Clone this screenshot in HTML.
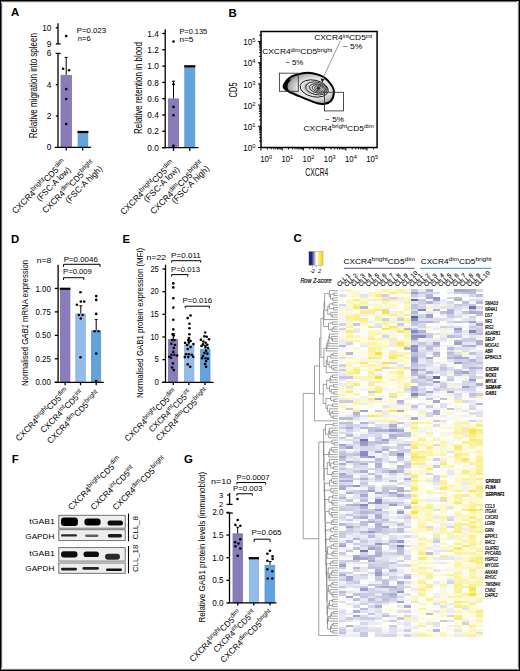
<!DOCTYPE html>
<html><head><meta charset="utf-8"><style>
html,body{margin:0;padding:0;background:#fff;}
svg{display:block;}
text{font-family:"Liberation Sans",sans-serif;}
</style></head><body>
<svg width="520" height="671" viewBox="0 0 520 671" font-family="Liberation Sans, sans-serif">
<defs><radialGradient id="gOut" cx="0.6" cy="0.5" r="0.6" fx="0.62" fy="0.5">
<stop offset="0" stop-color="#f2f2f2"/><stop offset="0.55" stop-color="#e4e4e4"/><stop offset="0.8" stop-color="#b0b0b0"/><stop offset="0.95" stop-color="#707070"/><stop offset="1" stop-color="#555"/></radialGradient>
<radialGradient id="gIn" cx="0.5" cy="0.5" r="0.5">
<stop offset="0" stop-color="#8c8c8c"/><stop offset="0.6" stop-color="#a4a4a4"/><stop offset="0.88" stop-color="#ececec"/><stop offset="1" stop-color="#fff"/></radialGradient>
<linearGradient id="gKey" x1="0" x2="1" y1="0" y2="0">
<stop offset="0" stop-color="#16165c"/><stop offset="0.2" stop-color="#262676"/><stop offset="0.52" stop-color="#fbfbfb"/><stop offset="0.62" stop-color="#fdf8c8"/><stop offset="0.78" stop-color="#f6e640"/><stop offset="1" stop-color="#f2de10"/></linearGradient>
<filter id="blur" x="-20%" y="-50%" width="140%" height="200%"><feGaussianBlur stdDeviation="0.75"/></filter></defs>
<rect x="0" y="0" width="520" height="671" fill="#fff"/>
<text x="10.9" y="16.4" font-size="11.4" font-weight="bold">A</text>
<text x="228.5" y="16.8" font-size="11.4" font-weight="bold">B</text>
<text x="293.6" y="242.4" font-size="11.4" font-weight="bold">C</text>
<text x="10.9" y="242.6" font-size="11.4" font-weight="bold">D</text>
<text x="122.4" y="242.6" font-size="11.4" font-weight="bold">E</text>
<text x="11.8" y="462.6" font-size="11.4" font-weight="bold">F</text>
<text x="184" y="463.2" font-size="11.4" font-weight="bold">G</text>
<line x1="58" y1="23.3" x2="58" y2="43.9" stroke="#000" stroke-width="1.3"/>
<line x1="55.8" y1="43.9" x2="60.6" y2="43.9" stroke="#000" stroke-width="1.3"/>
<line x1="55.8" y1="27.8" x2="58" y2="27.8" stroke="#000" stroke-width="1.3"/>
<line x1="58" y1="53.4" x2="58" y2="147.4" stroke="#000" stroke-width="1.3"/>
<line x1="55.6" y1="53.4" x2="60.6" y2="53.4" stroke="#000" stroke-width="1.3"/>
<line x1="55.8" y1="84.7" x2="58" y2="84.7" stroke="#000" stroke-width="1.3"/>
<line x1="55.8" y1="116" x2="58" y2="116" stroke="#000" stroke-width="1.3"/>
<text x="51.4" y="30.5" font-size="8.3" text-anchor="end">10</text>
<text x="51.4" y="46.6" font-size="8.3" text-anchor="end">9</text>
<text x="51.4" y="56.2" font-size="8.3" text-anchor="end">6</text>
<text x="51.4" y="87.6" font-size="8.3" text-anchor="end">4</text>
<text x="51.4" y="118.9" font-size="8.3" text-anchor="end">2</text>
<text x="51.4" y="150.2" font-size="8.3" text-anchor="end">0</text>
<rect x="61" y="75.3" width="10.4" height="72.1" fill="#8a7cb8" stroke="#7d6fae" stroke-width="0.8"/>
<line x1="66.2" y1="74.9" x2="66.2" y2="57.4" stroke="#000" stroke-width="1"/>
<line x1="64.7" y1="57.4" x2="67.7" y2="57.4" stroke="#000" stroke-width="1"/>
<circle cx="66.2" cy="36.1" r="1.3" fill="#000"/>
<circle cx="63.1" cy="68.8" r="1.3" fill="#000"/>
<circle cx="69.1" cy="70.2" r="1.3" fill="#000"/>
<circle cx="66.2" cy="89.1" r="1.3" fill="#000"/>
<circle cx="66.2" cy="99" r="1.3" fill="#000"/>
<circle cx="66.2" cy="124.1" r="1.3" fill="#000"/>
<rect x="78.1" y="132.4" width="9.7" height="15" fill="#62a3dc" stroke="#5597d4" stroke-width="0.8"/>
<rect x="77.5" y="130.9" width="10.9" height="2.2" fill="#000"/>
<line x1="54.7" y1="147.4" x2="91.1" y2="147.4" stroke="#000" stroke-width="1.3"/>
<line x1="66.2" y1="147.4" x2="66.2" y2="150.5" stroke="#000" stroke-width="1.3"/>
<line x1="82.6" y1="147.4" x2="82.6" y2="150.5" stroke="#000" stroke-width="1.3"/>
<text x="76.8" y="33.4" font-size="7.1" textLength="29.4" lengthAdjust="spacingAndGlyphs">P=0.023</text>
<text x="77.8" y="41" font-size="7.1" textLength="12.8" lengthAdjust="spacingAndGlyphs">n=6</text>
<text transform="translate(36.7,138.2) rotate(-90)" font-size="10.5" textLength="105.2" lengthAdjust="spacingAndGlyphs">Relative migration into spleen</text>
<line x1="165.2" y1="29.2" x2="165.2" y2="147.6" stroke="#000" stroke-width="1.3"/>
<line x1="162.2" y1="33.5" x2="165.2" y2="33.5" stroke="#000" stroke-width="1.3"/>
<text x="158.8" y="36.6" font-size="8.8" text-anchor="end" textLength="11.5" lengthAdjust="spacingAndGlyphs">1.4</text>
<line x1="162.2" y1="49.8" x2="165.2" y2="49.8" stroke="#000" stroke-width="1.3"/>
<text x="158.8" y="52.9" font-size="8.8" text-anchor="end" textLength="11.5" lengthAdjust="spacingAndGlyphs">1.2</text>
<line x1="162.2" y1="66.1" x2="165.2" y2="66.1" stroke="#000" stroke-width="1.3"/>
<text x="158.8" y="69.2" font-size="8.8" text-anchor="end" textLength="11.5" lengthAdjust="spacingAndGlyphs">1.0</text>
<line x1="162.2" y1="82.4" x2="165.2" y2="82.4" stroke="#000" stroke-width="1.3"/>
<text x="158.8" y="85.5" font-size="8.8" text-anchor="end" textLength="11.5" lengthAdjust="spacingAndGlyphs">0.8</text>
<line x1="162.2" y1="98.7" x2="165.2" y2="98.7" stroke="#000" stroke-width="1.3"/>
<text x="158.8" y="101.8" font-size="8.8" text-anchor="end" textLength="11.5" lengthAdjust="spacingAndGlyphs">0.6</text>
<line x1="162.2" y1="115" x2="165.2" y2="115" stroke="#000" stroke-width="1.3"/>
<text x="158.8" y="118.1" font-size="8.8" text-anchor="end" textLength="11.5" lengthAdjust="spacingAndGlyphs">0.4</text>
<line x1="162.2" y1="131.3" x2="165.2" y2="131.3" stroke="#000" stroke-width="1.3"/>
<text x="158.8" y="134.4" font-size="8.8" text-anchor="end" textLength="11.5" lengthAdjust="spacingAndGlyphs">0.2</text>
<line x1="162.2" y1="147.6" x2="165.2" y2="147.6" stroke="#000" stroke-width="1.3"/>
<text x="158.8" y="150.7" font-size="8.8" text-anchor="end" textLength="11.5" lengthAdjust="spacingAndGlyphs">0.0</text>
<rect x="168.4" y="98.9" width="10.2" height="48.7" fill="#8a7cb8" stroke="#7d6fae" stroke-width="0.8"/>
<line x1="173.5" y1="98.5" x2="173.5" y2="81.2" stroke="#000" stroke-width="1"/>
<line x1="172" y1="81.2" x2="175" y2="81.2" stroke="#000" stroke-width="1"/>
<circle cx="173.5" cy="41.5" r="1.3" fill="#000"/>
<circle cx="173.5" cy="84.3" r="1.3" fill="#000"/>
<circle cx="173.5" cy="106.9" r="1.3" fill="#000"/>
<circle cx="173.5" cy="115.3" r="1.3" fill="#000"/>
<circle cx="173.5" cy="145.8" r="1.3" fill="#000"/>
<rect x="184.8" y="67.2" width="10" height="80.4" fill="#62a3dc" stroke="#5597d4" stroke-width="0.8"/>
<rect x="184.2" y="65.2" width="11.2" height="2.2" fill="#000"/>
<line x1="162.2" y1="147.6" x2="198.5" y2="147.6" stroke="#000" stroke-width="1.3"/>
<line x1="173.5" y1="147.6" x2="173.5" y2="151" stroke="#000" stroke-width="1.3"/>
<line x1="189.8" y1="147.6" x2="189.8" y2="151" stroke="#000" stroke-width="1.3"/>
<text x="179.4" y="34.4" font-size="7.1" textLength="27.8" lengthAdjust="spacingAndGlyphs">P=0.135</text>
<text x="179.4" y="41.8" font-size="7.1" textLength="14" lengthAdjust="spacingAndGlyphs">n=5</text>
<text transform="translate(141.5,134) rotate(-90)" font-size="10.5" textLength="91.95" lengthAdjust="spacingAndGlyphs">Relative retention in blood</text>
<text transform="translate(66.5,163.2) rotate(-45)" font-size="8.7" text-anchor="end" textLength="72.14" lengthAdjust="spacingAndGlyphs"><tspan>CXCR4</tspan><tspan font-size="6.61" dy="-3.48">bright</tspan><tspan dy="3.48">CD5</tspan><tspan font-size="6.61" dy="-3.48">dim</tspan></text>
<text transform="translate(71.1,170.5) rotate(-45)" font-size="8.7" text-anchor="end" textLength="44.14" lengthAdjust="spacingAndGlyphs">(FSC-A low)</text>
<text transform="translate(95.2,164.2) rotate(-45)" font-size="8.7" text-anchor="end" textLength="70.01" lengthAdjust="spacingAndGlyphs"><tspan>CXCR4</tspan><tspan font-size="6.61" dy="-3.48">dim</tspan><tspan dy="3.48">CD5</tspan><tspan font-size="6.61" dy="-3.48">bright</tspan></text>
<text transform="translate(103,169.4) rotate(-45)" font-size="8.7" text-anchor="end" textLength="48.42" lengthAdjust="spacingAndGlyphs">(FSC-A high)</text>
<text transform="translate(174.9,164.1) rotate(-45)" font-size="8.7" text-anchor="end" textLength="72.42" lengthAdjust="spacingAndGlyphs"><tspan>CXCR4</tspan><tspan font-size="6.61" dy="-3.48">bright</tspan><tspan dy="3.48">CD5</tspan><tspan font-size="6.61" dy="-3.48">dim</tspan></text>
<text transform="translate(180,169.9) rotate(-45)" font-size="8.7" text-anchor="end" textLength="46.62" lengthAdjust="spacingAndGlyphs">(FSC-A low)</text>
<text transform="translate(204,164.4) rotate(-45)" font-size="8.7" text-anchor="end" textLength="71.16" lengthAdjust="spacingAndGlyphs"><tspan>CXCR4</tspan><tspan font-size="6.61" dy="-3.48">dim</tspan><tspan dy="3.48">CD5</tspan><tspan font-size="6.61" dy="-3.48">bright</tspan></text>
<text transform="translate(209.8,169.1) rotate(-45)" font-size="8.7" text-anchor="end" textLength="49.34" lengthAdjust="spacingAndGlyphs">(FSC-A high)</text>
<path d="M283.5 86.5C283.5 84.03 287.12 79.6 290.3 77.4C293.48 75.2 298.9 73.98 302.6 73.3C306.3 72.62 308.8 72.55 312.5 73.3C316.2 74.05 321.52 75.65 324.8 77.8C328.08 79.95 330.67 83.73 332.2 86.2C333.73 88.67 334.2 90.17 334 92.6C333.8 95.03 332.53 98.95 331 100.8C329.47 102.65 327.07 103.3 324.8 103.7C322.53 104.1 321.1 104.22 317.4 103.2C313.7 102.18 307.12 99.43 302.6 97.6C298.08 95.77 293.48 94.05 290.3 92.2C287.12 90.35 283.5 88.97 283.5 86.5Z" fill="url(#gOut)" stroke="#000" stroke-width="2"/>
<path d="M286.8 80.5C283.6 84 283.2 88 285.6 90.6C287.4 92.4 290 93.6 292.5 94.6C288.8 91.6 287 88.6 287.6 85.2C288 83.2 289.6 81.3 291.4 79.6Z" fill="#000"/>
<ellipse cx="314.2" cy="88.5" rx="14.3" ry="8.3" transform="rotate(12 314.2 88.5)" fill="url(#gIn)" stroke="#111" stroke-width="0.9"/>
<ellipse cx="316.5" cy="88.4" rx="10.8" ry="6.2" transform="rotate(12 316.5 88.4)" fill="url(#gIn)" stroke="#111" stroke-width="0.8"/>
<ellipse cx="317.8" cy="88.5" rx="8.3" ry="4.5" transform="rotate(12 317.8 88.5)" fill="url(#gIn)" stroke="#111" stroke-width="0.8"/>
<ellipse cx="318.6" cy="88.5" rx="6.4" ry="3.5" transform="rotate(12 318.6 88.5)" fill="url(#gIn)" stroke="#111" stroke-width="0.7"/>
<ellipse cx="319" cy="88.5" rx="4.5" ry="2.5" transform="rotate(12 319 88.5)" fill="url(#gIn)" stroke="#111" stroke-width="0.7"/>
<circle cx="318.4" cy="88.3" r="1.8" fill="#333"/>
<rect x="279.4" y="73.2" width="18.9" height="18.1" fill="none" stroke="#3a3a3a" stroke-width="0.9"/>
<rect x="324.5" y="92.3" width="19" height="18.6" fill="none" stroke="#3a3a3a" stroke-width="0.9"/>
<line x1="340.4" y1="40.8" x2="323.2" y2="77.6" stroke="#555" stroke-width="0.6"/>
<path d="M320.6 78.4L324.4 79.2L322.4 82.4Z" fill="#111"/>
<rect x="261" y="31.5" width="116.1" height="116" fill="none" stroke="#000" stroke-width="1.5"/>
<path d="M258 147.5H261M261 147.5V150.5M259.1 141.12H261M267.38 147.5V149.4M259.1 137.39H261M271.11 147.5V149.4M259.1 134.74H261M273.76 147.5V149.4M259.1 132.68H261M275.82 147.5V149.4M259.1 131H261M277.5 147.5V149.4M259.1 129.58H261M278.92 147.5V149.4M259.1 128.35H261M280.15 147.5V149.4M259.1 127.27H261M281.23 147.5V149.4M258 126.3H261M282.2 147.5V150.5M259.1 119.92H261M288.58 147.5V149.4M259.1 116.19H261M292.31 147.5V149.4M259.1 113.54H261M294.96 147.5V149.4M259.1 111.48H261M297.02 147.5V149.4M259.1 109.8H261M298.7 147.5V149.4M259.1 108.38H261M300.12 147.5V149.4M259.1 107.15H261M301.35 147.5V149.4M259.1 106.07H261M302.43 147.5V149.4M258 105.1H261M303.4 147.5V150.5M259.1 98.72H261M309.78 147.5V149.4M259.1 94.99H261M313.51 147.5V149.4M259.1 92.34H261M316.16 147.5V149.4M259.1 90.28H261M318.22 147.5V149.4M259.1 88.6H261M319.9 147.5V149.4M259.1 87.18H261M321.32 147.5V149.4M259.1 85.95H261M322.55 147.5V149.4M259.1 84.87H261M323.63 147.5V149.4M258 83.9H261M324.6 147.5V150.5M259.1 77.52H261M330.98 147.5V149.4M259.1 73.79H261M334.71 147.5V149.4M259.1 71.14H261M337.36 147.5V149.4M259.1 69.08H261M339.42 147.5V149.4M259.1 67.4H261M341.1 147.5V149.4M259.1 65.98H261M342.52 147.5V149.4M259.1 64.75H261M343.75 147.5V149.4M259.1 63.67H261M344.83 147.5V149.4M258 62.7H261M345.8 147.5V150.5M259.1 56.32H261M352.18 147.5V149.4M259.1 52.59H261M355.91 147.5V149.4M259.1 49.94H261M358.56 147.5V149.4M259.1 47.88H261M360.62 147.5V149.4M259.1 46.2H261M362.3 147.5V149.4M259.1 44.78H261M363.72 147.5V149.4M259.1 43.55H261M364.95 147.5V149.4M259.1 42.47H261M366.03 147.5V149.4M258 41.5H261M367 147.5V150.5M259.1 35.12H261M373.38 147.5V149.4" stroke="#000" stroke-width="1.0" fill="none"/>
<text x="255.4" y="151.1" font-size="8.2" text-anchor="end" textLength="12.2" lengthAdjust="spacingAndGlyphs">10<tspan font-size="5.8" dy="-3.0">0</tspan></text>
<text x="260.2" y="162" font-size="8.2" textLength="11.8" lengthAdjust="spacingAndGlyphs">10<tspan font-size="5.8" dy="-3.0">0</tspan></text>
<text x="255.4" y="129.9" font-size="8.2" text-anchor="end" textLength="12.2" lengthAdjust="spacingAndGlyphs">10<tspan font-size="5.8" dy="-3.0">1</tspan></text>
<text x="281.4" y="162" font-size="8.2" textLength="11.8" lengthAdjust="spacingAndGlyphs">10<tspan font-size="5.8" dy="-3.0">1</tspan></text>
<text x="255.4" y="108.7" font-size="8.2" text-anchor="end" textLength="12.2" lengthAdjust="spacingAndGlyphs">10<tspan font-size="5.8" dy="-3.0">2</tspan></text>
<text x="302.6" y="162" font-size="8.2" textLength="11.8" lengthAdjust="spacingAndGlyphs">10<tspan font-size="5.8" dy="-3.0">2</tspan></text>
<text x="255.4" y="87.5" font-size="8.2" text-anchor="end" textLength="12.2" lengthAdjust="spacingAndGlyphs">10<tspan font-size="5.8" dy="-3.0">3</tspan></text>
<text x="323.8" y="162" font-size="8.2" textLength="11.8" lengthAdjust="spacingAndGlyphs">10<tspan font-size="5.8" dy="-3.0">3</tspan></text>
<text x="255.4" y="66.3" font-size="8.2" text-anchor="end" textLength="12.2" lengthAdjust="spacingAndGlyphs">10<tspan font-size="5.8" dy="-3.0">4</tspan></text>
<text x="345" y="162" font-size="8.2" textLength="11.8" lengthAdjust="spacingAndGlyphs">10<tspan font-size="5.8" dy="-3.0">4</tspan></text>
<text x="255.4" y="45.1" font-size="8.2" text-anchor="end" textLength="12.2" lengthAdjust="spacingAndGlyphs">10<tspan font-size="5.8" dy="-3.0">5</tspan></text>
<text x="366.2" y="162" font-size="8.2" textLength="11.8" lengthAdjust="spacingAndGlyphs">10<tspan font-size="5.8" dy="-3.0">5</tspan></text>
<text transform="translate(237,97.4) rotate(-90)" font-size="10.5" textLength="15" lengthAdjust="spacingAndGlyphs">CD5</text>
<text x="305.2" y="176" font-size="10.5" textLength="23.2" lengthAdjust="spacingAndGlyphs">CXCR4</text>
<text x="262.2" y="54.4" font-size="8" textLength="70" lengthAdjust="spacingAndGlyphs"><tspan>CXCR4</tspan><tspan font-size="5.76" dy="-2.88">dim</tspan><tspan dy="2.88">CD5</tspan><tspan font-size="5.76" dy="-2.88">bright</tspan></text>
<text x="285.2" y="64.9" font-size="8" textLength="18.2" lengthAdjust="spacingAndGlyphs">~ 5%</text>
<text x="314.2" y="40.4" font-size="8" textLength="58" lengthAdjust="spacingAndGlyphs"><tspan>CXCR4</tspan><tspan font-size="5.76" dy="-2.88">int</tspan><tspan dy="2.88">CD5</tspan><tspan font-size="5.76" dy="-2.88">int</tspan></text>
<text x="342.5" y="49" font-size="8" textLength="19.8" lengthAdjust="spacingAndGlyphs">~ 5%</text>
<text x="325.1" y="122.3" font-size="8" textLength="18.9" lengthAdjust="spacingAndGlyphs">~ 5%</text>
<text x="303.5" y="130.9" font-size="8" textLength="70.2" lengthAdjust="spacingAndGlyphs"><tspan>CXCR4</tspan><tspan font-size="5.76" dy="-2.88">bright</tspan><tspan dy="2.88">CD5</tspan><tspan font-size="5.76" dy="-2.88">dim</tspan></text>
<g shape-rendering="crispEdges"><rect x="338.8" y="289.4" width="7.28" height="2.46" fill="#f1f1f8"/><rect x="346.03" y="289.4" width="7.28" height="2.46" fill="#fbf6bf"/><rect x="353.26" y="289.4" width="7.28" height="2.46" fill="#fefbe4"/><rect x="360.49" y="289.4" width="7.28" height="2.46" fill="#fefdf1"/><rect x="367.72" y="289.4" width="7.28" height="2.46" fill="#fffefb"/><rect x="374.95" y="289.4" width="7.28" height="2.46" fill="#fdf9d6"/><rect x="382.18" y="289.4" width="7.28" height="2.46" fill="#faf2a0"/><rect x="389.41" y="289.4" width="7.28" height="2.46" fill="#fcf7c3"/><rect x="396.64" y="289.4" width="7.28" height="2.46" fill="#faf29f"/><rect x="403.87" y="289.4" width="7.28" height="2.46" fill="#fcf8cd"/><rect x="411.1" y="289.4" width="7.28" height="2.46" fill="#c2c4de"/><rect x="418.33" y="289.4" width="7.28" height="2.46" fill="#e7e7f2"/><rect x="425.56" y="289.4" width="7.28" height="2.46" fill="#adafd3"/><rect x="432.79" y="289.4" width="7.28" height="2.46" fill="#fafafd"/><rect x="440.02" y="289.4" width="7.28" height="2.46" fill="#fffffd"/><rect x="447.25" y="289.4" width="7.28" height="2.46" fill="#f4f4f9"/><rect x="454.48" y="289.4" width="7.28" height="2.46" fill="#a4a6ce"/><rect x="461.71" y="289.4" width="7.28" height="2.46" fill="#aaacd1"/><rect x="468.94" y="289.4" width="7.28" height="2.46" fill="#b3b5d6"/><rect x="476.17" y="289.4" width="7.28" height="2.46" fill="#d5d6e9"/><rect x="338.8" y="291.81" width="7.28" height="2.46" fill="#fffffe"/><rect x="346.03" y="291.81" width="7.28" height="2.46" fill="#fefbe4"/><rect x="353.26" y="291.81" width="7.28" height="2.46" fill="#fcf6c0"/><rect x="360.49" y="291.81" width="7.28" height="2.46" fill="#fbfbfd"/><rect x="367.72" y="291.81" width="7.28" height="2.46" fill="#fbf6bf"/><rect x="374.95" y="291.81" width="7.28" height="2.46" fill="#fbf5ba"/><rect x="382.18" y="291.81" width="7.28" height="2.46" fill="#fbfbfd"/><rect x="389.41" y="291.81" width="7.28" height="2.46" fill="#f8ed7c"/><rect x="396.64" y="291.81" width="7.28" height="2.46" fill="#fcf6c2"/><rect x="403.87" y="291.81" width="7.28" height="2.46" fill="#faf19c"/><rect x="411.1" y="291.81" width="7.28" height="2.46" fill="#9b9dc9"/><rect x="418.33" y="291.81" width="7.28" height="2.46" fill="#c4c6df"/><rect x="425.56" y="291.81" width="7.28" height="2.46" fill="#d5d6e9"/><rect x="432.79" y="291.81" width="7.28" height="2.46" fill="#d9daeb"/><rect x="440.02" y="291.81" width="7.28" height="2.46" fill="#fffffd"/><rect x="447.25" y="291.81" width="7.28" height="2.46" fill="#e8e9f3"/><rect x="454.48" y="291.81" width="7.28" height="2.46" fill="#cacbe3"/><rect x="461.71" y="291.81" width="7.28" height="2.46" fill="#c1c2de"/><rect x="468.94" y="291.81" width="7.28" height="2.46" fill="#bbbddb"/><rect x="476.17" y="291.81" width="7.28" height="2.46" fill="#fffef9"/><rect x="338.8" y="294.22" width="7.28" height="2.46" fill="#dcddec"/><rect x="346.03" y="294.22" width="7.28" height="2.46" fill="#fcf8cf"/><rect x="353.26" y="294.22" width="7.28" height="2.46" fill="#fbf6c0"/><rect x="360.49" y="294.22" width="7.28" height="2.46" fill="#e1e1ef"/><rect x="367.72" y="294.22" width="7.28" height="2.46" fill="#fcf7c8"/><rect x="374.95" y="294.22" width="7.28" height="2.46" fill="#f8ed7d"/><rect x="382.18" y="294.22" width="7.28" height="2.46" fill="#cccde4"/><rect x="389.41" y="294.22" width="7.28" height="2.46" fill="#fefcec"/><rect x="396.64" y="294.22" width="7.28" height="2.46" fill="#fdfbe1"/><rect x="403.87" y="294.22" width="7.28" height="2.46" fill="#fcfcfe"/><rect x="411.1" y="294.22" width="7.28" height="2.46" fill="#c6c7e0"/><rect x="418.33" y="294.22" width="7.28" height="2.46" fill="#dfdfee"/><rect x="425.56" y="294.22" width="7.28" height="2.46" fill="#b4b5d7"/><rect x="432.79" y="294.22" width="7.28" height="2.46" fill="#fafafc"/><rect x="440.02" y="294.22" width="7.28" height="2.46" fill="#fffef7"/><rect x="447.25" y="294.22" width="7.28" height="2.46" fill="#fffffe"/><rect x="454.48" y="294.22" width="7.28" height="2.46" fill="#fefef5"/><rect x="461.71" y="294.22" width="7.28" height="2.46" fill="#f0f0f7"/><rect x="468.94" y="294.22" width="7.28" height="2.46" fill="#d5d6e8"/><rect x="476.17" y="294.22" width="7.28" height="2.46" fill="#b9bbda"/><rect x="338.8" y="296.64" width="7.28" height="2.46" fill="#fdfbe4"/><rect x="346.03" y="296.64" width="7.28" height="2.46" fill="#fefef6"/><rect x="353.26" y="296.64" width="7.28" height="2.46" fill="#fefcea"/><rect x="360.49" y="296.64" width="7.28" height="2.46" fill="#edeef6"/><rect x="367.72" y="296.64" width="7.28" height="2.46" fill="#fffef8"/><rect x="374.95" y="296.64" width="7.28" height="2.46" fill="#fdfbe1"/><rect x="382.18" y="296.64" width="7.28" height="2.46" fill="#f9ef8f"/><rect x="389.41" y="296.64" width="7.28" height="2.46" fill="#d4d5e8"/><rect x="396.64" y="296.64" width="7.28" height="2.46" fill="#eaeaf4"/><rect x="403.87" y="296.64" width="7.28" height="2.46" fill="#fcf7c7"/><rect x="411.1" y="296.64" width="7.28" height="2.46" fill="#e9eaf3"/><rect x="418.33" y="296.64" width="7.28" height="2.46" fill="#f7f7fa"/><rect x="425.56" y="296.64" width="7.28" height="2.46" fill="#aaacd1"/><rect x="432.79" y="296.64" width="7.28" height="2.46" fill="#8f92c3"/><rect x="440.02" y="296.64" width="7.28" height="2.46" fill="#fffffd"/><rect x="447.25" y="296.64" width="7.28" height="2.46" fill="#d1d2e6"/><rect x="454.48" y="296.64" width="7.28" height="2.46" fill="#bcbedb"/><rect x="461.71" y="296.64" width="7.28" height="2.46" fill="#fffef8"/><rect x="468.94" y="296.64" width="7.28" height="2.46" fill="#f8f8fb"/><rect x="476.17" y="296.64" width="7.28" height="2.46" fill="#eeeef6"/><rect x="338.8" y="299.05" width="7.28" height="2.46" fill="#fdfdfe"/><rect x="346.03" y="299.05" width="7.28" height="2.46" fill="#fcf8cb"/><rect x="353.26" y="299.05" width="7.28" height="2.46" fill="#f8ed82"/><rect x="360.49" y="299.05" width="7.28" height="2.46" fill="#fcf7c5"/><rect x="367.72" y="299.05" width="7.28" height="2.46" fill="#fbf4b4"/><rect x="374.95" y="299.05" width="7.28" height="2.46" fill="#fbf4b2"/><rect x="382.18" y="299.05" width="7.28" height="2.46" fill="#d8d9ea"/><rect x="389.41" y="299.05" width="7.28" height="2.46" fill="#f9f198"/><rect x="396.64" y="299.05" width="7.28" height="2.46" fill="#faf3ac"/><rect x="403.87" y="299.05" width="7.28" height="2.46" fill="#fcf7c5"/><rect x="411.1" y="299.05" width="7.28" height="2.46" fill="#686cae"/><rect x="418.33" y="299.05" width="7.28" height="2.46" fill="#c7c8e1"/><rect x="425.56" y="299.05" width="7.28" height="2.46" fill="#f9f9fc"/><rect x="432.79" y="299.05" width="7.28" height="2.46" fill="#9ea0cb"/><rect x="440.02" y="299.05" width="7.28" height="2.46" fill="#e9e9f3"/><rect x="447.25" y="299.05" width="7.28" height="2.46" fill="#fdfefe"/><rect x="454.48" y="299.05" width="7.28" height="2.46" fill="#abadd2"/><rect x="461.71" y="299.05" width="7.28" height="2.46" fill="#fefcea"/><rect x="468.94" y="299.05" width="7.28" height="2.46" fill="#dedfed"/><rect x="476.17" y="299.05" width="7.28" height="2.46" fill="#dbdbeb"/><rect x="338.8" y="301.46" width="7.28" height="2.46" fill="#fffffd"/><rect x="346.03" y="301.46" width="7.28" height="2.46" fill="#fbf6bd"/><rect x="353.26" y="301.46" width="7.28" height="2.46" fill="#fdf9d6"/><rect x="360.49" y="301.46" width="7.28" height="2.46" fill="#faf2a4"/><rect x="367.72" y="301.46" width="7.28" height="2.46" fill="#fefdf3"/><rect x="374.95" y="301.46" width="7.28" height="2.46" fill="#fefce6"/><rect x="382.18" y="301.46" width="7.28" height="2.46" fill="#faf3aa"/><rect x="389.41" y="301.46" width="7.28" height="2.46" fill="#fdfadf"/><rect x="396.64" y="301.46" width="7.28" height="2.46" fill="#f7f7fb"/><rect x="403.87" y="301.46" width="7.28" height="2.46" fill="#faf3aa"/><rect x="411.1" y="301.46" width="7.28" height="2.46" fill="#e2e3ef"/><rect x="418.33" y="301.46" width="7.28" height="2.46" fill="#cfd0e5"/><rect x="425.56" y="301.46" width="7.28" height="2.46" fill="#b3b5d6"/><rect x="432.79" y="301.46" width="7.28" height="2.46" fill="#d9daea"/><rect x="440.02" y="301.46" width="7.28" height="2.46" fill="#ebecf4"/><rect x="447.25" y="301.46" width="7.28" height="2.46" fill="#d7d8ea"/><rect x="454.48" y="301.46" width="7.28" height="2.46" fill="#fffefb"/><rect x="461.71" y="301.46" width="7.28" height="2.46" fill="#bfc0dd"/><rect x="468.94" y="301.46" width="7.28" height="2.46" fill="#f5f5fa"/><rect x="476.17" y="301.46" width="7.28" height="2.46" fill="#b7b8d8"/><rect x="338.8" y="303.87" width="7.28" height="2.46" fill="#d5d6e8"/><rect x="346.03" y="303.87" width="7.28" height="2.46" fill="#fcf7c5"/><rect x="353.26" y="303.87" width="7.28" height="2.46" fill="#faf2a3"/><rect x="360.49" y="303.87" width="7.28" height="2.46" fill="#fbf6bc"/><rect x="367.72" y="303.87" width="7.28" height="2.46" fill="#fcf7c3"/><rect x="374.95" y="303.87" width="7.28" height="2.46" fill="#fcf8cf"/><rect x="382.18" y="303.87" width="7.28" height="2.46" fill="#fdfbe4"/><rect x="389.41" y="303.87" width="7.28" height="2.46" fill="#fcf7c7"/><rect x="396.64" y="303.87" width="7.28" height="2.46" fill="#fefdf0"/><rect x="403.87" y="303.87" width="7.28" height="2.46" fill="#fdf9d8"/><rect x="411.1" y="303.87" width="7.28" height="2.46" fill="#bfc1dd"/><rect x="418.33" y="303.87" width="7.28" height="2.46" fill="#d8d9ea"/><rect x="425.56" y="303.87" width="7.28" height="2.46" fill="#f4f4f9"/><rect x="432.79" y="303.87" width="7.28" height="2.46" fill="#eaebf4"/><rect x="440.02" y="303.87" width="7.28" height="2.46" fill="#fcf7c7"/><rect x="447.25" y="303.87" width="7.28" height="2.46" fill="#e7e7f2"/><rect x="454.48" y="303.87" width="7.28" height="2.46" fill="#c6c7e0"/><rect x="461.71" y="303.87" width="7.28" height="2.46" fill="#d0d1e6"/><rect x="468.94" y="303.87" width="7.28" height="2.46" fill="#c8c9e1"/><rect x="476.17" y="303.87" width="7.28" height="2.46" fill="#f8f9fb"/><rect x="338.8" y="306.28" width="7.28" height="2.46" fill="#eeeff6"/><rect x="346.03" y="306.28" width="7.28" height="2.46" fill="#fcf7c6"/><rect x="353.26" y="306.28" width="7.28" height="2.46" fill="#f7ea6a"/><rect x="360.49" y="306.28" width="7.28" height="2.46" fill="#b5b7d8"/><rect x="367.72" y="306.28" width="7.28" height="2.46" fill="#fcfcfd"/><rect x="374.95" y="306.28" width="7.28" height="2.46" fill="#fbf6bc"/><rect x="382.18" y="306.28" width="7.28" height="2.46" fill="#fcf8ca"/><rect x="389.41" y="306.28" width="7.28" height="2.46" fill="#fcf8cd"/><rect x="396.64" y="306.28" width="7.28" height="2.46" fill="#fefdf2"/><rect x="403.87" y="306.28" width="7.28" height="2.46" fill="#fbf5b5"/><rect x="411.1" y="306.28" width="7.28" height="2.46" fill="#bfc0dc"/><rect x="418.33" y="306.28" width="7.28" height="2.46" fill="#d0d1e6"/><rect x="425.56" y="306.28" width="7.28" height="2.46" fill="#fbf6bd"/><rect x="432.79" y="306.28" width="7.28" height="2.46" fill="#ececf5"/><rect x="440.02" y="306.28" width="7.28" height="2.46" fill="#e2e3f0"/><rect x="447.25" y="306.28" width="7.28" height="2.46" fill="#e2e2ef"/><rect x="454.48" y="306.28" width="7.28" height="2.46" fill="#d6d7e9"/><rect x="461.71" y="306.28" width="7.28" height="2.46" fill="#e3e3f0"/><rect x="468.94" y="306.28" width="7.28" height="2.46" fill="#7275b3"/><rect x="476.17" y="306.28" width="7.28" height="2.46" fill="#d5d6e8"/><rect x="338.8" y="308.69" width="7.28" height="2.46" fill="#fdf9d7"/><rect x="346.03" y="308.69" width="7.28" height="2.46" fill="#eeeef6"/><rect x="353.26" y="308.69" width="7.28" height="2.46" fill="#fdfade"/><rect x="360.49" y="308.69" width="7.28" height="2.46" fill="#faf3ad"/><rect x="367.72" y="308.69" width="7.28" height="2.46" fill="#f9f19b"/><rect x="374.95" y="308.69" width="7.28" height="2.46" fill="#f7ec74"/><rect x="382.18" y="308.69" width="7.28" height="2.46" fill="#d6d7e9"/><rect x="389.41" y="308.69" width="7.28" height="2.46" fill="#fefdf1"/><rect x="396.64" y="308.69" width="7.28" height="2.46" fill="#fefdf0"/><rect x="403.87" y="308.69" width="7.28" height="2.46" fill="#fbf5bb"/><rect x="411.1" y="308.69" width="7.28" height="2.46" fill="#d7d8ea"/><rect x="418.33" y="308.69" width="7.28" height="2.46" fill="#8285bc"/><rect x="425.56" y="308.69" width="7.28" height="2.46" fill="#fffffc"/><rect x="432.79" y="308.69" width="7.28" height="2.46" fill="#aeb0d4"/><rect x="440.02" y="308.69" width="7.28" height="2.46" fill="#fffef9"/><rect x="447.25" y="308.69" width="7.28" height="2.46" fill="#b1b2d5"/><rect x="454.48" y="308.69" width="7.28" height="2.46" fill="#e1e1ef"/><rect x="461.71" y="308.69" width="7.28" height="2.46" fill="#fffef8"/><rect x="468.94" y="308.69" width="7.28" height="2.46" fill="#cacbe3"/><rect x="476.17" y="308.69" width="7.28" height="2.46" fill="#e9e9f3"/><rect x="338.8" y="311.11" width="7.28" height="2.46" fill="#fefbe5"/><rect x="346.03" y="311.11" width="7.28" height="2.46" fill="#fdfada"/><rect x="353.26" y="311.11" width="7.28" height="2.46" fill="#fdfbe2"/><rect x="360.49" y="311.11" width="7.28" height="2.46" fill="#f9ef8d"/><rect x="367.72" y="311.11" width="7.28" height="2.46" fill="#f9f092"/><rect x="374.95" y="311.11" width="7.28" height="2.46" fill="#fdfbe0"/><rect x="382.18" y="311.11" width="7.28" height="2.46" fill="#f4e441"/><rect x="389.41" y="311.11" width="7.28" height="2.46" fill="#eeeef6"/><rect x="396.64" y="311.11" width="7.28" height="2.46" fill="#faf3ac"/><rect x="403.87" y="311.11" width="7.28" height="2.46" fill="#fefdee"/><rect x="411.1" y="311.11" width="7.28" height="2.46" fill="#b5b7d7"/><rect x="418.33" y="311.11" width="7.28" height="2.46" fill="#f3f3f8"/><rect x="425.56" y="311.11" width="7.28" height="2.46" fill="#e8e8f3"/><rect x="432.79" y="311.11" width="7.28" height="2.46" fill="#f1f1f7"/><rect x="440.02" y="311.11" width="7.28" height="2.46" fill="#bec0dc"/><rect x="447.25" y="311.11" width="7.28" height="2.46" fill="#aeb0d4"/><rect x="454.48" y="311.11" width="7.28" height="2.46" fill="#ededf5"/><rect x="461.71" y="311.11" width="7.28" height="2.46" fill="#c1c2de"/><rect x="468.94" y="311.11" width="7.28" height="2.46" fill="#aaacd1"/><rect x="476.17" y="311.11" width="7.28" height="2.46" fill="#b0b1d4"/><rect x="338.8" y="313.52" width="7.28" height="2.46" fill="#fcf8d0"/><rect x="346.03" y="313.52" width="7.28" height="2.46" fill="#fbf6bc"/><rect x="353.26" y="313.52" width="7.28" height="2.46" fill="#f9ef8c"/><rect x="360.49" y="313.52" width="7.28" height="2.46" fill="#efeff6"/><rect x="367.72" y="313.52" width="7.28" height="2.46" fill="#fdf9d4"/><rect x="374.95" y="313.52" width="7.28" height="2.46" fill="#f6f6fa"/><rect x="382.18" y="313.52" width="7.28" height="2.46" fill="#fbf6bf"/><rect x="389.41" y="313.52" width="7.28" height="2.46" fill="#f8ee88"/><rect x="396.64" y="313.52" width="7.28" height="2.46" fill="#f4f4f9"/><rect x="403.87" y="313.52" width="7.28" height="2.46" fill="#f9ef8a"/><rect x="411.1" y="313.52" width="7.28" height="2.46" fill="#cfd0e5"/><rect x="418.33" y="313.52" width="7.28" height="2.46" fill="#d4d5e8"/><rect x="425.56" y="313.52" width="7.28" height="2.46" fill="#9b9dc9"/><rect x="432.79" y="313.52" width="7.28" height="2.46" fill="#fffefa"/><rect x="440.02" y="313.52" width="7.28" height="2.46" fill="#eaeaf4"/><rect x="447.25" y="313.52" width="7.28" height="2.46" fill="#cacbe3"/><rect x="454.48" y="313.52" width="7.28" height="2.46" fill="#e3e4f0"/><rect x="461.71" y="313.52" width="7.28" height="2.46" fill="#ebebf4"/><rect x="468.94" y="313.52" width="7.28" height="2.46" fill="#f9f9fc"/><rect x="476.17" y="313.52" width="7.28" height="2.46" fill="#bcbddb"/><rect x="338.8" y="315.93" width="7.28" height="2.46" fill="#fdf9d6"/><rect x="346.03" y="315.93" width="7.28" height="2.46" fill="#f9ef8e"/><rect x="353.26" y="315.93" width="7.28" height="2.46" fill="#f9ef8b"/><rect x="360.49" y="315.93" width="7.28" height="2.46" fill="#fefdf2"/><rect x="367.72" y="315.93" width="7.28" height="2.46" fill="#fffefa"/><rect x="374.95" y="315.93" width="7.28" height="2.46" fill="#f9f097"/><rect x="382.18" y="315.93" width="7.28" height="2.46" fill="#fdfbe2"/><rect x="389.41" y="315.93" width="7.28" height="2.46" fill="#fdfadc"/><rect x="396.64" y="315.93" width="7.28" height="2.46" fill="#f9f091"/><rect x="403.87" y="315.93" width="7.28" height="2.46" fill="#fefdf1"/><rect x="411.1" y="315.93" width="7.28" height="2.46" fill="#5c5fa7"/><rect x="418.33" y="315.93" width="7.28" height="2.46" fill="#cecfe5"/><rect x="425.56" y="315.93" width="7.28" height="2.46" fill="#a0a2cc"/><rect x="432.79" y="315.93" width="7.28" height="2.46" fill="#f4f4f9"/><rect x="440.02" y="315.93" width="7.28" height="2.46" fill="#f7f7fb"/><rect x="447.25" y="315.93" width="7.28" height="2.46" fill="#cbcce3"/><rect x="454.48" y="315.93" width="7.28" height="2.46" fill="#d7d8e9"/><rect x="461.71" y="315.93" width="7.28" height="2.46" fill="#f8f8fb"/><rect x="468.94" y="315.93" width="7.28" height="2.46" fill="#cecfe5"/><rect x="476.17" y="315.93" width="7.28" height="2.46" fill="#fffef7"/><rect x="338.8" y="318.34" width="7.28" height="2.46" fill="#f5f5fa"/><rect x="346.03" y="318.34" width="7.28" height="2.46" fill="#faf2a5"/><rect x="353.26" y="318.34" width="7.28" height="2.46" fill="#f8ee85"/><rect x="360.49" y="318.34" width="7.28" height="2.46" fill="#f8ee88"/><rect x="367.72" y="318.34" width="7.28" height="2.46" fill="#fefdf3"/><rect x="374.95" y="318.34" width="7.28" height="2.46" fill="#faf19c"/><rect x="382.18" y="318.34" width="7.28" height="2.46" fill="#cecfe5"/><rect x="389.41" y="318.34" width="7.28" height="2.46" fill="#f0f0f7"/><rect x="396.64" y="318.34" width="7.28" height="2.46" fill="#cecfe5"/><rect x="403.87" y="318.34" width="7.28" height="2.46" fill="#faf2a2"/><rect x="411.1" y="318.34" width="7.28" height="2.46" fill="#8588be"/><rect x="418.33" y="318.34" width="7.28" height="2.46" fill="#dddeed"/><rect x="425.56" y="318.34" width="7.28" height="2.46" fill="#dbdcec"/><rect x="432.79" y="318.34" width="7.28" height="2.46" fill="#dcddec"/><rect x="440.02" y="318.34" width="7.28" height="2.46" fill="#dddeed"/><rect x="447.25" y="318.34" width="7.28" height="2.46" fill="#e8e9f3"/><rect x="454.48" y="318.34" width="7.28" height="2.46" fill="#fefceb"/><rect x="461.71" y="318.34" width="7.28" height="2.46" fill="#e2e3f0"/><rect x="468.94" y="318.34" width="7.28" height="2.46" fill="#dfe0ee"/><rect x="476.17" y="318.34" width="7.28" height="2.46" fill="#fefeff"/><rect x="338.8" y="320.75" width="7.28" height="2.46" fill="#f6f7fa"/><rect x="346.03" y="320.75" width="7.28" height="2.46" fill="#f0f0f7"/><rect x="353.26" y="320.75" width="7.28" height="2.46" fill="#fefdf0"/><rect x="360.49" y="320.75" width="7.28" height="2.46" fill="#faf19d"/><rect x="367.72" y="320.75" width="7.28" height="2.46" fill="#edeef5"/><rect x="374.95" y="320.75" width="7.28" height="2.46" fill="#fefce6"/><rect x="382.18" y="320.75" width="7.28" height="2.46" fill="#faf2a1"/><rect x="389.41" y="320.75" width="7.28" height="2.46" fill="#faf3a8"/><rect x="396.64" y="320.75" width="7.28" height="2.46" fill="#fdf9d5"/><rect x="403.87" y="320.75" width="7.28" height="2.46" fill="#faf3a7"/><rect x="411.1" y="320.75" width="7.28" height="2.46" fill="#bec0dc"/><rect x="418.33" y="320.75" width="7.28" height="2.46" fill="#bdbfdc"/><rect x="425.56" y="320.75" width="7.28" height="2.46" fill="#b4b6d7"/><rect x="432.79" y="320.75" width="7.28" height="2.46" fill="#d0d1e6"/><rect x="440.02" y="320.75" width="7.28" height="2.46" fill="#fefce8"/><rect x="447.25" y="320.75" width="7.28" height="2.46" fill="#d6d7e9"/><rect x="454.48" y="320.75" width="7.28" height="2.46" fill="#c3c4df"/><rect x="461.71" y="320.75" width="7.28" height="2.46" fill="#cfd0e5"/><rect x="468.94" y="320.75" width="7.28" height="2.46" fill="#a1a3cc"/><rect x="476.17" y="320.75" width="7.28" height="2.46" fill="#e4e5f1"/><rect x="338.8" y="323.17" width="7.28" height="2.46" fill="#d2d3e7"/><rect x="346.03" y="323.17" width="7.28" height="2.46" fill="#fcf6c2"/><rect x="353.26" y="323.17" width="7.28" height="2.46" fill="#c8cae2"/><rect x="360.49" y="323.17" width="7.28" height="2.46" fill="#fcf7c9"/><rect x="367.72" y="323.17" width="7.28" height="2.46" fill="#fefce8"/><rect x="374.95" y="323.17" width="7.28" height="2.46" fill="#e2e3f0"/><rect x="382.18" y="323.17" width="7.28" height="2.46" fill="#fbf4b2"/><rect x="389.41" y="323.17" width="7.28" height="2.46" fill="#fefbe5"/><rect x="396.64" y="323.17" width="7.28" height="2.46" fill="#cbcce3"/><rect x="403.87" y="323.17" width="7.28" height="2.46" fill="#fefefe"/><rect x="411.1" y="323.17" width="7.28" height="2.46" fill="#c3c4df"/><rect x="418.33" y="323.17" width="7.28" height="2.46" fill="#d6d7e9"/><rect x="425.56" y="323.17" width="7.28" height="2.46" fill="#fefeff"/><rect x="432.79" y="323.17" width="7.28" height="2.46" fill="#fbfbfd"/><rect x="440.02" y="323.17" width="7.28" height="2.46" fill="#fefdf2"/><rect x="447.25" y="323.17" width="7.28" height="2.46" fill="#f2f2f8"/><rect x="454.48" y="323.17" width="7.28" height="2.46" fill="#fefef4"/><rect x="461.71" y="323.17" width="7.28" height="2.46" fill="#fbfcfd"/><rect x="468.94" y="323.17" width="7.28" height="2.46" fill="#e4e4f0"/><rect x="476.17" y="323.17" width="7.28" height="2.46" fill="#a2a4cd"/><rect x="338.8" y="325.58" width="7.28" height="2.46" fill="#fefce7"/><rect x="346.03" y="325.58" width="7.28" height="2.46" fill="#faf19d"/><rect x="353.26" y="325.58" width="7.28" height="2.46" fill="#fefdf3"/><rect x="360.49" y="325.58" width="7.28" height="2.46" fill="#fdfdfe"/><rect x="367.72" y="325.58" width="7.28" height="2.46" fill="#f6e963"/><rect x="374.95" y="325.58" width="7.28" height="2.46" fill="#dddeed"/><rect x="382.18" y="325.58" width="7.28" height="2.46" fill="#fdf9d3"/><rect x="389.41" y="325.58" width="7.28" height="2.46" fill="#f6e757"/><rect x="396.64" y="325.58" width="7.28" height="2.46" fill="#f1f1f8"/><rect x="403.87" y="325.58" width="7.28" height="2.46" fill="#fcf6c0"/><rect x="411.1" y="325.58" width="7.28" height="2.46" fill="#eaebf4"/><rect x="418.33" y="325.58" width="7.28" height="2.46" fill="#d4d5e8"/><rect x="425.56" y="325.58" width="7.28" height="2.46" fill="#eeeef6"/><rect x="432.79" y="325.58" width="7.28" height="2.46" fill="#f4f4f9"/><rect x="440.02" y="325.58" width="7.28" height="2.46" fill="#cecfe5"/><rect x="447.25" y="325.58" width="7.28" height="2.46" fill="#d9daeb"/><rect x="454.48" y="325.58" width="7.28" height="2.46" fill="#dedfed"/><rect x="461.71" y="325.58" width="7.28" height="2.46" fill="#f5f6fa"/><rect x="468.94" y="325.58" width="7.28" height="2.46" fill="#c7c8e1"/><rect x="476.17" y="325.58" width="7.28" height="2.46" fill="#d6d7e9"/><rect x="338.8" y="327.99" width="7.28" height="2.46" fill="#d0d2e6"/><rect x="346.03" y="327.99" width="7.28" height="2.46" fill="#fefdf4"/><rect x="353.26" y="327.99" width="7.28" height="2.46" fill="#faf3aa"/><rect x="360.49" y="327.99" width="7.28" height="2.46" fill="#fdfbe0"/><rect x="367.72" y="327.99" width="7.28" height="2.46" fill="#fffffc"/><rect x="374.95" y="327.99" width="7.28" height="2.46" fill="#fffffc"/><rect x="382.18" y="327.99" width="7.28" height="2.46" fill="#f5e546"/><rect x="389.41" y="327.99" width="7.28" height="2.46" fill="#faf19e"/><rect x="396.64" y="327.99" width="7.28" height="2.46" fill="#fbf6bc"/><rect x="403.87" y="327.99" width="7.28" height="2.46" fill="#b4b6d7"/><rect x="411.1" y="327.99" width="7.28" height="2.46" fill="#c6c8e1"/><rect x="418.33" y="327.99" width="7.28" height="2.46" fill="#ecedf5"/><rect x="425.56" y="327.99" width="7.28" height="2.46" fill="#fefbe5"/><rect x="432.79" y="327.99" width="7.28" height="2.46" fill="#ebebf4"/><rect x="440.02" y="327.99" width="7.28" height="2.46" fill="#eeeef6"/><rect x="447.25" y="327.99" width="7.28" height="2.46" fill="#f1f1f8"/><rect x="454.48" y="327.99" width="7.28" height="2.46" fill="#9799c7"/><rect x="461.71" y="327.99" width="7.28" height="2.46" fill="#ffffff"/><rect x="468.94" y="327.99" width="7.28" height="2.46" fill="#d8d9ea"/><rect x="476.17" y="327.99" width="7.28" height="2.46" fill="#cacbe3"/><rect x="338.8" y="330.4" width="7.28" height="2.46" fill="#fcf7c9"/><rect x="346.03" y="330.4" width="7.28" height="2.46" fill="#f8ec78"/><rect x="353.26" y="330.4" width="7.28" height="2.46" fill="#e6e6f1"/><rect x="360.49" y="330.4" width="7.28" height="2.46" fill="#fafafc"/><rect x="367.72" y="330.4" width="7.28" height="2.46" fill="#fcf6c0"/><rect x="374.95" y="330.4" width="7.28" height="2.46" fill="#fcf7c6"/><rect x="382.18" y="330.4" width="7.28" height="2.46" fill="#fffefb"/><rect x="389.41" y="330.4" width="7.28" height="2.46" fill="#f3f3f9"/><rect x="396.64" y="330.4" width="7.28" height="2.46" fill="#f6e963"/><rect x="403.87" y="330.4" width="7.28" height="2.46" fill="#faf2a6"/><rect x="411.1" y="330.4" width="7.28" height="2.46" fill="#8688be"/><rect x="418.33" y="330.4" width="7.28" height="2.46" fill="#afb1d4"/><rect x="425.56" y="330.4" width="7.28" height="2.46" fill="#fefbe5"/><rect x="432.79" y="330.4" width="7.28" height="2.46" fill="#fafafc"/><rect x="440.02" y="330.4" width="7.28" height="2.46" fill="#fcf8ca"/><rect x="447.25" y="330.4" width="7.28" height="2.46" fill="#f9f9fc"/><rect x="454.48" y="330.4" width="7.28" height="2.46" fill="#bbbddb"/><rect x="461.71" y="330.4" width="7.28" height="2.46" fill="#e8e9f3"/><rect x="468.94" y="330.4" width="7.28" height="2.46" fill="#8184bb"/><rect x="476.17" y="330.4" width="7.28" height="2.46" fill="#c8c9e1"/><rect x="338.8" y="332.81" width="7.28" height="2.46" fill="#f7f7fb"/><rect x="346.03" y="332.81" width="7.28" height="2.46" fill="#fcf6c1"/><rect x="353.26" y="332.81" width="7.28" height="2.46" fill="#ffffff"/><rect x="360.49" y="332.81" width="7.28" height="2.46" fill="#fefce9"/><rect x="367.72" y="332.81" width="7.28" height="2.46" fill="#fbf4b2"/><rect x="374.95" y="332.81" width="7.28" height="2.46" fill="#fbf5b7"/><rect x="382.18" y="332.81" width="7.28" height="2.46" fill="#fbf6bf"/><rect x="389.41" y="332.81" width="7.28" height="2.46" fill="#fcf9d2"/><rect x="396.64" y="332.81" width="7.28" height="2.46" fill="#fefdee"/><rect x="403.87" y="332.81" width="7.28" height="2.46" fill="#fbf4b0"/><rect x="411.1" y="332.81" width="7.28" height="2.46" fill="#b5b7d7"/><rect x="418.33" y="332.81" width="7.28" height="2.46" fill="#c4c5df"/><rect x="425.56" y="332.81" width="7.28" height="2.46" fill="#cfd0e5"/><rect x="432.79" y="332.81" width="7.28" height="2.46" fill="#dfe0ee"/><rect x="440.02" y="332.81" width="7.28" height="2.46" fill="#eeeff6"/><rect x="447.25" y="332.81" width="7.28" height="2.46" fill="#e8e9f3"/><rect x="454.48" y="332.81" width="7.28" height="2.46" fill="#dbdcec"/><rect x="461.71" y="332.81" width="7.28" height="2.46" fill="#e9e9f3"/><rect x="468.94" y="332.81" width="7.28" height="2.46" fill="#cbcce3"/><rect x="476.17" y="332.81" width="7.28" height="2.46" fill="#b9bbda"/><rect x="338.8" y="335.22" width="7.28" height="2.46" fill="#fefdf0"/><rect x="346.03" y="335.22" width="7.28" height="2.46" fill="#f9f19b"/><rect x="353.26" y="335.22" width="7.28" height="2.46" fill="#fbf5bb"/><rect x="360.49" y="335.22" width="7.28" height="2.46" fill="#fefce7"/><rect x="367.72" y="335.22" width="7.28" height="2.46" fill="#faf3ad"/><rect x="374.95" y="335.22" width="7.28" height="2.46" fill="#fffefa"/><rect x="382.18" y="335.22" width="7.28" height="2.46" fill="#d3d4e8"/><rect x="389.41" y="335.22" width="7.28" height="2.46" fill="#fdf9d4"/><rect x="396.64" y="335.22" width="7.28" height="2.46" fill="#fbfbfd"/><rect x="403.87" y="335.22" width="7.28" height="2.46" fill="#faf3ad"/><rect x="411.1" y="335.22" width="7.28" height="2.46" fill="#9194c4"/><rect x="418.33" y="335.22" width="7.28" height="2.46" fill="#898cc0"/><rect x="425.56" y="335.22" width="7.28" height="2.46" fill="#c5c6e0"/><rect x="432.79" y="335.22" width="7.28" height="2.46" fill="#fefce7"/><rect x="440.02" y="335.22" width="7.28" height="2.46" fill="#eaebf4"/><rect x="447.25" y="335.22" width="7.28" height="2.46" fill="#babbda"/><rect x="454.48" y="335.22" width="7.28" height="2.46" fill="#c6c8e1"/><rect x="461.71" y="335.22" width="7.28" height="2.46" fill="#f7f7fb"/><rect x="468.94" y="335.22" width="7.28" height="2.46" fill="#e4e4f0"/><rect x="476.17" y="335.22" width="7.28" height="2.46" fill="#ecedf5"/><rect x="338.8" y="337.64" width="7.28" height="2.46" fill="#fcf8ce"/><rect x="346.03" y="337.64" width="7.28" height="2.46" fill="#fcf7c9"/><rect x="353.26" y="337.64" width="7.28" height="2.46" fill="#fefced"/><rect x="360.49" y="337.64" width="7.28" height="2.46" fill="#fdf9d4"/><rect x="367.72" y="337.64" width="7.28" height="2.46" fill="#f8ed7e"/><rect x="374.95" y="337.64" width="7.28" height="2.46" fill="#faf3a7"/><rect x="382.18" y="337.64" width="7.28" height="2.46" fill="#fbf6bb"/><rect x="389.41" y="337.64" width="7.28" height="2.46" fill="#e6e6f2"/><rect x="396.64" y="337.64" width="7.28" height="2.46" fill="#fffef6"/><rect x="403.87" y="337.64" width="7.28" height="2.46" fill="#fcf7c7"/><rect x="411.1" y="337.64" width="7.28" height="2.46" fill="#9b9dc9"/><rect x="418.33" y="337.64" width="7.28" height="2.46" fill="#f4f4f9"/><rect x="425.56" y="337.64" width="7.28" height="2.46" fill="#e9eaf3"/><rect x="432.79" y="337.64" width="7.28" height="2.46" fill="#efeff6"/><rect x="440.02" y="337.64" width="7.28" height="2.46" fill="#dfe0ee"/><rect x="447.25" y="337.64" width="7.28" height="2.46" fill="#fcf8cd"/><rect x="454.48" y="337.64" width="7.28" height="2.46" fill="#f5f6fa"/><rect x="461.71" y="337.64" width="7.28" height="2.46" fill="#cfd0e5"/><rect x="468.94" y="337.64" width="7.28" height="2.46" fill="#c5c7e0"/><rect x="476.17" y="337.64" width="7.28" height="2.46" fill="#fcf8cb"/><rect x="338.8" y="340.05" width="7.28" height="2.46" fill="#eaebf4"/><rect x="346.03" y="340.05" width="7.28" height="2.46" fill="#fbf4b0"/><rect x="353.26" y="340.05" width="7.28" height="2.46" fill="#faf2a5"/><rect x="360.49" y="340.05" width="7.28" height="2.46" fill="#fefbe5"/><rect x="367.72" y="340.05" width="7.28" height="2.46" fill="#f7f8fb"/><rect x="374.95" y="340.05" width="7.28" height="2.46" fill="#fcf7c5"/><rect x="382.18" y="340.05" width="7.28" height="2.46" fill="#fdf9d2"/><rect x="389.41" y="340.05" width="7.28" height="2.46" fill="#faf29f"/><rect x="396.64" y="340.05" width="7.28" height="2.46" fill="#fbf4b4"/><rect x="403.87" y="340.05" width="7.28" height="2.46" fill="#fdfadf"/><rect x="411.1" y="340.05" width="7.28" height="2.46" fill="#cecfe5"/><rect x="418.33" y="340.05" width="7.28" height="2.46" fill="#eeeef6"/><rect x="425.56" y="340.05" width="7.28" height="2.46" fill="#e7e8f2"/><rect x="432.79" y="340.05" width="7.28" height="2.46" fill="#dfdfee"/><rect x="440.02" y="340.05" width="7.28" height="2.46" fill="#e8e9f3"/><rect x="447.25" y="340.05" width="7.28" height="2.46" fill="#f6f6fa"/><rect x="454.48" y="340.05" width="7.28" height="2.46" fill="#b6b7d8"/><rect x="461.71" y="340.05" width="7.28" height="2.46" fill="#cccde4"/><rect x="468.94" y="340.05" width="7.28" height="2.46" fill="#cdcfe4"/><rect x="476.17" y="340.05" width="7.28" height="2.46" fill="#b0b2d4"/><rect x="338.8" y="342.46" width="7.28" height="2.46" fill="#ecedf5"/><rect x="346.03" y="342.46" width="7.28" height="2.46" fill="#d1d2e7"/><rect x="353.26" y="342.46" width="7.28" height="2.46" fill="#fffef9"/><rect x="360.49" y="342.46" width="7.28" height="2.46" fill="#fbf6bd"/><rect x="367.72" y="342.46" width="7.28" height="2.46" fill="#faf3a6"/><rect x="374.95" y="342.46" width="7.28" height="2.46" fill="#fcf8cb"/><rect x="382.18" y="342.46" width="7.28" height="2.46" fill="#fefcea"/><rect x="389.41" y="342.46" width="7.28" height="2.46" fill="#e9eaf3"/><rect x="396.64" y="342.46" width="7.28" height="2.46" fill="#f7ea6b"/><rect x="403.87" y="342.46" width="7.28" height="2.46" fill="#fbf5bb"/><rect x="411.1" y="342.46" width="7.28" height="2.46" fill="#dcdcec"/><rect x="418.33" y="342.46" width="7.28" height="2.46" fill="#c6c7e0"/><rect x="425.56" y="342.46" width="7.28" height="2.46" fill="#e1e1ef"/><rect x="432.79" y="342.46" width="7.28" height="2.46" fill="#a5a7cf"/><rect x="440.02" y="342.46" width="7.28" height="2.46" fill="#fefdf0"/><rect x="447.25" y="342.46" width="7.28" height="2.46" fill="#fffffd"/><rect x="454.48" y="342.46" width="7.28" height="2.46" fill="#9ea1cb"/><rect x="461.71" y="342.46" width="7.28" height="2.46" fill="#e5e5f1"/><rect x="468.94" y="342.46" width="7.28" height="2.46" fill="#e7e8f2"/><rect x="476.17" y="342.46" width="7.28" height="2.46" fill="#acaed2"/><rect x="338.8" y="344.87" width="7.28" height="2.46" fill="#b7b9d8"/><rect x="346.03" y="344.87" width="7.28" height="2.46" fill="#f7f7fb"/><rect x="353.26" y="344.87" width="7.28" height="2.46" fill="#fefdf4"/><rect x="360.49" y="344.87" width="7.28" height="2.46" fill="#e8e8f3"/><rect x="367.72" y="344.87" width="7.28" height="2.46" fill="#fcf7c3"/><rect x="374.95" y="344.87" width="7.28" height="2.46" fill="#fbf5b6"/><rect x="382.18" y="344.87" width="7.28" height="2.46" fill="#fbf5b7"/><rect x="389.41" y="344.87" width="7.28" height="2.46" fill="#faf3ad"/><rect x="396.64" y="344.87" width="7.28" height="2.46" fill="#f8ed7c"/><rect x="403.87" y="344.87" width="7.28" height="2.46" fill="#f9f091"/><rect x="411.1" y="344.87" width="7.28" height="2.46" fill="#8b8dc1"/><rect x="418.33" y="344.87" width="7.28" height="2.46" fill="#d4d5e8"/><rect x="425.56" y="344.87" width="7.28" height="2.46" fill="#c6c7e0"/><rect x="432.79" y="344.87" width="7.28" height="2.46" fill="#c1c3de"/><rect x="440.02" y="344.87" width="7.28" height="2.46" fill="#f4f5f9"/><rect x="447.25" y="344.87" width="7.28" height="2.46" fill="#e8e9f3"/><rect x="454.48" y="344.87" width="7.28" height="2.46" fill="#f0f0f7"/><rect x="461.71" y="344.87" width="7.28" height="2.46" fill="#b4b6d7"/><rect x="468.94" y="344.87" width="7.28" height="2.46" fill="#abadd2"/><rect x="476.17" y="344.87" width="7.28" height="2.46" fill="#e8e8f2"/><rect x="338.8" y="347.28" width="7.28" height="2.46" fill="#f7f7fb"/><rect x="346.03" y="347.28" width="7.28" height="2.46" fill="#fefce7"/><rect x="353.26" y="347.28" width="7.28" height="2.46" fill="#fdf9d5"/><rect x="360.49" y="347.28" width="7.28" height="2.46" fill="#fefeff"/><rect x="367.72" y="347.28" width="7.28" height="2.46" fill="#f9f19b"/><rect x="374.95" y="347.28" width="7.28" height="2.46" fill="#fbf4af"/><rect x="382.18" y="347.28" width="7.28" height="2.46" fill="#fdfbdf"/><rect x="389.41" y="347.28" width="7.28" height="2.46" fill="#fffef8"/><rect x="396.64" y="347.28" width="7.28" height="2.46" fill="#fdfade"/><rect x="403.87" y="347.28" width="7.28" height="2.46" fill="#b8b9d9"/><rect x="411.1" y="347.28" width="7.28" height="2.46" fill="#9799c7"/><rect x="418.33" y="347.28" width="7.28" height="2.46" fill="#e6e7f2"/><rect x="425.56" y="347.28" width="7.28" height="2.46" fill="#b7b9d8"/><rect x="432.79" y="347.28" width="7.28" height="2.46" fill="#ebecf4"/><rect x="440.02" y="347.28" width="7.28" height="2.46" fill="#fbfbfd"/><rect x="447.25" y="347.28" width="7.28" height="2.46" fill="#bcbddb"/><rect x="454.48" y="347.28" width="7.28" height="2.46" fill="#d9daeb"/><rect x="461.71" y="347.28" width="7.28" height="2.46" fill="#dfe0ee"/><rect x="468.94" y="347.28" width="7.28" height="2.46" fill="#e4e5f1"/><rect x="476.17" y="347.28" width="7.28" height="2.46" fill="#fbfbfd"/><rect x="338.8" y="349.7" width="7.28" height="2.46" fill="#f9f9fc"/><rect x="346.03" y="349.7" width="7.28" height="2.46" fill="#fbfbfd"/><rect x="353.26" y="349.7" width="7.28" height="2.46" fill="#fdfbe0"/><rect x="360.49" y="349.7" width="7.28" height="2.46" fill="#fefbe4"/><rect x="367.72" y="349.7" width="7.28" height="2.46" fill="#faf29f"/><rect x="374.95" y="349.7" width="7.28" height="2.46" fill="#fbf5b9"/><rect x="382.18" y="349.7" width="7.28" height="2.46" fill="#fcfcfd"/><rect x="389.41" y="349.7" width="7.28" height="2.46" fill="#e9eaf3"/><rect x="396.64" y="349.7" width="7.28" height="2.46" fill="#fefdef"/><rect x="403.87" y="349.7" width="7.28" height="2.46" fill="#fefeff"/><rect x="411.1" y="349.7" width="7.28" height="2.46" fill="#8d90c2"/><rect x="418.33" y="349.7" width="7.28" height="2.46" fill="#dddeed"/><rect x="425.56" y="349.7" width="7.28" height="2.46" fill="#d5d6e8"/><rect x="432.79" y="349.7" width="7.28" height="2.46" fill="#e4e5f1"/><rect x="440.02" y="349.7" width="7.28" height="2.46" fill="#fffffd"/><rect x="447.25" y="349.7" width="7.28" height="2.46" fill="#d7d8ea"/><rect x="454.48" y="349.7" width="7.28" height="2.46" fill="#fcf8ce"/><rect x="461.71" y="349.7" width="7.28" height="2.46" fill="#dadbeb"/><rect x="468.94" y="349.7" width="7.28" height="2.46" fill="#f4f4f9"/><rect x="476.17" y="349.7" width="7.28" height="2.46" fill="#e8e9f3"/><rect x="338.8" y="352.11" width="7.28" height="2.46" fill="#fdfada"/><rect x="346.03" y="352.11" width="7.28" height="2.46" fill="#b8bad9"/><rect x="353.26" y="352.11" width="7.28" height="2.46" fill="#fafafc"/><rect x="360.49" y="352.11" width="7.28" height="2.46" fill="#fdfade"/><rect x="367.72" y="352.11" width="7.28" height="2.46" fill="#fbf4b3"/><rect x="374.95" y="352.11" width="7.28" height="2.46" fill="#f5e549"/><rect x="382.18" y="352.11" width="7.28" height="2.46" fill="#fdfada"/><rect x="389.41" y="352.11" width="7.28" height="2.46" fill="#faf19d"/><rect x="396.64" y="352.11" width="7.28" height="2.46" fill="#fbf5bb"/><rect x="403.87" y="352.11" width="7.28" height="2.46" fill="#fbf4b0"/><rect x="411.1" y="352.11" width="7.28" height="2.46" fill="#bebfdc"/><rect x="418.33" y="352.11" width="7.28" height="2.46" fill="#d4d5e8"/><rect x="425.56" y="352.11" width="7.28" height="2.46" fill="#ededf5"/><rect x="432.79" y="352.11" width="7.28" height="2.46" fill="#b5b6d7"/><rect x="440.02" y="352.11" width="7.28" height="2.46" fill="#fefcec"/><rect x="447.25" y="352.11" width="7.28" height="2.46" fill="#bbbcda"/><rect x="454.48" y="352.11" width="7.28" height="2.46" fill="#dddeed"/><rect x="461.71" y="352.11" width="7.28" height="2.46" fill="#fdf9d7"/><rect x="468.94" y="352.11" width="7.28" height="2.46" fill="#c1c3de"/><rect x="476.17" y="352.11" width="7.28" height="2.46" fill="#dddeed"/><rect x="338.8" y="354.52" width="7.28" height="2.46" fill="#fdf9d7"/><rect x="346.03" y="354.52" width="7.28" height="2.46" fill="#fefbe6"/><rect x="353.26" y="354.52" width="7.28" height="2.46" fill="#f8f8fb"/><rect x="360.49" y="354.52" width="7.28" height="2.46" fill="#fdfade"/><rect x="367.72" y="354.52" width="7.28" height="2.46" fill="#fbf5b5"/><rect x="374.95" y="354.52" width="7.28" height="2.46" fill="#faf3ad"/><rect x="382.18" y="354.52" width="7.28" height="2.46" fill="#f4f4f9"/><rect x="389.41" y="354.52" width="7.28" height="2.46" fill="#f8ed80"/><rect x="396.64" y="354.52" width="7.28" height="2.46" fill="#f8ee85"/><rect x="403.87" y="354.52" width="7.28" height="2.46" fill="#fefbe5"/><rect x="411.1" y="354.52" width="7.28" height="2.46" fill="#b5b7d8"/><rect x="418.33" y="354.52" width="7.28" height="2.46" fill="#cbcce3"/><rect x="425.56" y="354.52" width="7.28" height="2.46" fill="#fffef6"/><rect x="432.79" y="354.52" width="7.28" height="2.46" fill="#c1c3de"/><rect x="440.02" y="354.52" width="7.28" height="2.46" fill="#ffffff"/><rect x="447.25" y="354.52" width="7.28" height="2.46" fill="#cdcee4"/><rect x="454.48" y="354.52" width="7.28" height="2.46" fill="#bebfdc"/><rect x="461.71" y="354.52" width="7.28" height="2.46" fill="#f3f3f8"/><rect x="468.94" y="354.52" width="7.28" height="2.46" fill="#f3f4f9"/><rect x="476.17" y="354.52" width="7.28" height="2.46" fill="#dcddec"/><rect x="338.8" y="356.93" width="7.28" height="2.46" fill="#dcddec"/><rect x="346.03" y="356.93" width="7.28" height="2.46" fill="#fbf5b5"/><rect x="353.26" y="356.93" width="7.28" height="2.46" fill="#fdfbe1"/><rect x="360.49" y="356.93" width="7.28" height="2.46" fill="#fdf9d6"/><rect x="367.72" y="356.93" width="7.28" height="2.46" fill="#f7ec77"/><rect x="374.95" y="356.93" width="7.28" height="2.46" fill="#f9ef8f"/><rect x="382.18" y="356.93" width="7.28" height="2.46" fill="#fefeff"/><rect x="389.41" y="356.93" width="7.28" height="2.46" fill="#f6e85a"/><rect x="396.64" y="356.93" width="7.28" height="2.46" fill="#fdfbe2"/><rect x="403.87" y="356.93" width="7.28" height="2.46" fill="#fbf5b5"/><rect x="411.1" y="356.93" width="7.28" height="2.46" fill="#999bc8"/><rect x="418.33" y="356.93" width="7.28" height="2.46" fill="#dadbeb"/><rect x="425.56" y="356.93" width="7.28" height="2.46" fill="#a5a7ce"/><rect x="432.79" y="356.93" width="7.28" height="2.46" fill="#fefce8"/><rect x="440.02" y="356.93" width="7.28" height="2.46" fill="#fdfbe0"/><rect x="447.25" y="356.93" width="7.28" height="2.46" fill="#b7b9d8"/><rect x="454.48" y="356.93" width="7.28" height="2.46" fill="#a5a7cf"/><rect x="461.71" y="356.93" width="7.28" height="2.46" fill="#a9abd1"/><rect x="468.94" y="356.93" width="7.28" height="2.46" fill="#f1f2f8"/><rect x="476.17" y="356.93" width="7.28" height="2.46" fill="#d1d2e6"/><rect x="338.8" y="359.34" width="7.28" height="2.46" fill="#f9fafc"/><rect x="346.03" y="359.34" width="7.28" height="2.46" fill="#fefcea"/><rect x="353.26" y="359.34" width="7.28" height="2.46" fill="#fdfadc"/><rect x="360.49" y="359.34" width="7.28" height="2.46" fill="#f1f2f8"/><rect x="367.72" y="359.34" width="7.28" height="2.46" fill="#fcf7c6"/><rect x="374.95" y="359.34" width="7.28" height="2.46" fill="#f3f3f9"/><rect x="382.18" y="359.34" width="7.28" height="2.46" fill="#fdfbe2"/><rect x="389.41" y="359.34" width="7.28" height="2.46" fill="#fcf7c7"/><rect x="396.64" y="359.34" width="7.28" height="2.46" fill="#fbf6be"/><rect x="403.87" y="359.34" width="7.28" height="2.46" fill="#fefbe5"/><rect x="411.1" y="359.34" width="7.28" height="2.46" fill="#9799c7"/><rect x="418.33" y="359.34" width="7.28" height="2.46" fill="#e8e8f2"/><rect x="425.56" y="359.34" width="7.28" height="2.46" fill="#d7d8e9"/><rect x="432.79" y="359.34" width="7.28" height="2.46" fill="#fefce8"/><rect x="440.02" y="359.34" width="7.28" height="2.46" fill="#fefdf1"/><rect x="447.25" y="359.34" width="7.28" height="2.46" fill="#e3e3f0"/><rect x="454.48" y="359.34" width="7.28" height="2.46" fill="#cfd0e5"/><rect x="461.71" y="359.34" width="7.28" height="2.46" fill="#d0d1e6"/><rect x="468.94" y="359.34" width="7.28" height="2.46" fill="#b3b5d6"/><rect x="476.17" y="359.34" width="7.28" height="2.46" fill="#dbdcec"/><rect x="338.8" y="361.75" width="7.28" height="2.46" fill="#fffffe"/><rect x="346.03" y="361.75" width="7.28" height="2.46" fill="#fcf7c4"/><rect x="353.26" y="361.75" width="7.28" height="2.46" fill="#fbf6bc"/><rect x="360.49" y="361.75" width="7.28" height="2.46" fill="#f7ea69"/><rect x="367.72" y="361.75" width="7.28" height="2.46" fill="#fefef5"/><rect x="374.95" y="361.75" width="7.28" height="2.46" fill="#fcf8ce"/><rect x="382.18" y="361.75" width="7.28" height="2.46" fill="#f4e43d"/><rect x="389.41" y="361.75" width="7.28" height="2.46" fill="#d2d3e7"/><rect x="396.64" y="361.75" width="7.28" height="2.46" fill="#fffefa"/><rect x="403.87" y="361.75" width="7.28" height="2.46" fill="#fdf9d6"/><rect x="411.1" y="361.75" width="7.28" height="2.46" fill="#b7b8d8"/><rect x="418.33" y="361.75" width="7.28" height="2.46" fill="#eaebf4"/><rect x="425.56" y="361.75" width="7.28" height="2.46" fill="#dadaeb"/><rect x="432.79" y="361.75" width="7.28" height="2.46" fill="#e9eaf3"/><rect x="440.02" y="361.75" width="7.28" height="2.46" fill="#f2f2f8"/><rect x="447.25" y="361.75" width="7.28" height="2.46" fill="#f9f9fc"/><rect x="454.48" y="361.75" width="7.28" height="2.46" fill="#999bc8"/><rect x="461.71" y="361.75" width="7.28" height="2.46" fill="#c4c6df"/><rect x="468.94" y="361.75" width="7.28" height="2.46" fill="#cecfe5"/><rect x="476.17" y="361.75" width="7.28" height="2.46" fill="#bfc1dd"/><rect x="338.8" y="364.17" width="7.28" height="2.46" fill="#d0d1e6"/><rect x="346.03" y="364.17" width="7.28" height="2.46" fill="#fbf6bd"/><rect x="353.26" y="364.17" width="7.28" height="2.46" fill="#fffffd"/><rect x="360.49" y="364.17" width="7.28" height="2.46" fill="#fcf6c1"/><rect x="367.72" y="364.17" width="7.28" height="2.46" fill="#faf2a3"/><rect x="374.95" y="364.17" width="7.28" height="2.46" fill="#fbf6bd"/><rect x="382.18" y="364.17" width="7.28" height="2.46" fill="#fcf7c8"/><rect x="389.41" y="364.17" width="7.28" height="2.46" fill="#fefbe5"/><rect x="396.64" y="364.17" width="7.28" height="2.46" fill="#e5e5f1"/><rect x="403.87" y="364.17" width="7.28" height="2.46" fill="#fdfbe1"/><rect x="411.1" y="364.17" width="7.28" height="2.46" fill="#c1c3de"/><rect x="418.33" y="364.17" width="7.28" height="2.46" fill="#cdcee4"/><rect x="425.56" y="364.17" width="7.28" height="2.46" fill="#dfdfee"/><rect x="432.79" y="364.17" width="7.28" height="2.46" fill="#f5f5fa"/><rect x="440.02" y="364.17" width="7.28" height="2.46" fill="#d5d6e8"/><rect x="447.25" y="364.17" width="7.28" height="2.46" fill="#f5f6fa"/><rect x="454.48" y="364.17" width="7.28" height="2.46" fill="#fefce7"/><rect x="461.71" y="364.17" width="7.28" height="2.46" fill="#d0d1e6"/><rect x="468.94" y="364.17" width="7.28" height="2.46" fill="#d3d4e7"/><rect x="476.17" y="364.17" width="7.28" height="2.46" fill="#dddeed"/><rect x="338.8" y="366.58" width="7.28" height="2.46" fill="#fbf5b8"/><rect x="346.03" y="366.58" width="7.28" height="2.46" fill="#fcf8cc"/><rect x="353.26" y="366.58" width="7.28" height="2.46" fill="#faf2a6"/><rect x="360.49" y="366.58" width="7.28" height="2.46" fill="#fcfcfd"/><rect x="367.72" y="366.58" width="7.28" height="2.46" fill="#fcf8cd"/><rect x="374.95" y="366.58" width="7.28" height="2.46" fill="#fcf8cd"/><rect x="382.18" y="366.58" width="7.28" height="2.46" fill="#d4d5e8"/><rect x="389.41" y="366.58" width="7.28" height="2.46" fill="#f8ee88"/><rect x="396.64" y="366.58" width="7.28" height="2.46" fill="#faf3a9"/><rect x="403.87" y="366.58" width="7.28" height="2.46" fill="#d9daeb"/><rect x="411.1" y="366.58" width="7.28" height="2.46" fill="#cdcee4"/><rect x="418.33" y="366.58" width="7.28" height="2.46" fill="#dbdcec"/><rect x="425.56" y="366.58" width="7.28" height="2.46" fill="#f1f1f8"/><rect x="432.79" y="366.58" width="7.28" height="2.46" fill="#ebebf4"/><rect x="440.02" y="366.58" width="7.28" height="2.46" fill="#c2c3de"/><rect x="447.25" y="366.58" width="7.28" height="2.46" fill="#ddddec"/><rect x="454.48" y="366.58" width="7.28" height="2.46" fill="#fefef4"/><rect x="461.71" y="366.58" width="7.28" height="2.46" fill="#d1d2e6"/><rect x="468.94" y="366.58" width="7.28" height="2.46" fill="#adafd3"/><rect x="476.17" y="366.58" width="7.28" height="2.46" fill="#b6b8d8"/><rect x="338.8" y="368.99" width="7.28" height="2.46" fill="#c9cae2"/><rect x="346.03" y="368.99" width="7.28" height="2.46" fill="#fcf8cd"/><rect x="353.26" y="368.99" width="7.28" height="2.46" fill="#f7ec77"/><rect x="360.49" y="368.99" width="7.28" height="2.46" fill="#fcf8cc"/><rect x="367.72" y="368.99" width="7.28" height="2.46" fill="#fcf6c0"/><rect x="374.95" y="368.99" width="7.28" height="2.46" fill="#f5e546"/><rect x="382.18" y="368.99" width="7.28" height="2.46" fill="#fffffe"/><rect x="389.41" y="368.99" width="7.28" height="2.46" fill="#ffffff"/><rect x="396.64" y="368.99" width="7.28" height="2.46" fill="#fcf6c1"/><rect x="403.87" y="368.99" width="7.28" height="2.46" fill="#fcf6c0"/><rect x="411.1" y="368.99" width="7.28" height="2.46" fill="#8e91c2"/><rect x="418.33" y="368.99" width="7.28" height="2.46" fill="#b7b9d8"/><rect x="425.56" y="368.99" width="7.28" height="2.46" fill="#ebecf4"/><rect x="432.79" y="368.99" width="7.28" height="2.46" fill="#e6e7f2"/><rect x="440.02" y="368.99" width="7.28" height="2.46" fill="#c7c8e1"/><rect x="447.25" y="368.99" width="7.28" height="2.46" fill="#dcdcec"/><rect x="454.48" y="368.99" width="7.28" height="2.46" fill="#c8cae2"/><rect x="461.71" y="368.99" width="7.28" height="2.46" fill="#f0f1f7"/><rect x="468.94" y="368.99" width="7.28" height="2.46" fill="#cbcce3"/><rect x="476.17" y="368.99" width="7.28" height="2.46" fill="#dfe0ee"/><rect x="338.8" y="371.4" width="7.28" height="2.46" fill="#ececf5"/><rect x="346.03" y="371.4" width="7.28" height="2.46" fill="#faf2a2"/><rect x="353.26" y="371.4" width="7.28" height="2.46" fill="#f8ee89"/><rect x="360.49" y="371.4" width="7.28" height="2.46" fill="#fefef6"/><rect x="367.72" y="371.4" width="7.28" height="2.46" fill="#f9f19c"/><rect x="374.95" y="371.4" width="7.28" height="2.46" fill="#fefef6"/><rect x="382.18" y="371.4" width="7.28" height="2.46" fill="#fdfbdf"/><rect x="389.41" y="371.4" width="7.28" height="2.46" fill="#fbf4b3"/><rect x="396.64" y="371.4" width="7.28" height="2.46" fill="#f8ee85"/><rect x="403.87" y="371.4" width="7.28" height="2.46" fill="#fefdf2"/><rect x="411.1" y="371.4" width="7.28" height="2.46" fill="#b0b2d5"/><rect x="418.33" y="371.4" width="7.28" height="2.46" fill="#e5e6f1"/><rect x="425.56" y="371.4" width="7.28" height="2.46" fill="#b1b2d5"/><rect x="432.79" y="371.4" width="7.28" height="2.46" fill="#dfe0ee"/><rect x="440.02" y="371.4" width="7.28" height="2.46" fill="#dcddec"/><rect x="447.25" y="371.4" width="7.28" height="2.46" fill="#eeeff6"/><rect x="454.48" y="371.4" width="7.28" height="2.46" fill="#b5b7d7"/><rect x="461.71" y="371.4" width="7.28" height="2.46" fill="#a0a2cc"/><rect x="468.94" y="371.4" width="7.28" height="2.46" fill="#d0d2e6"/><rect x="476.17" y="371.4" width="7.28" height="2.46" fill="#ebebf4"/><rect x="338.8" y="373.81" width="7.28" height="2.46" fill="#e3e4f0"/><rect x="346.03" y="373.81" width="7.28" height="2.46" fill="#fbf4ae"/><rect x="353.26" y="373.81" width="7.28" height="2.46" fill="#fefceb"/><rect x="360.49" y="373.81" width="7.28" height="2.46" fill="#fdfdfe"/><rect x="367.72" y="373.81" width="7.28" height="2.46" fill="#fbf4b4"/><rect x="374.95" y="373.81" width="7.28" height="2.46" fill="#e9eaf3"/><rect x="382.18" y="373.81" width="7.28" height="2.46" fill="#fbfbfd"/><rect x="389.41" y="373.81" width="7.28" height="2.46" fill="#fdfbe1"/><rect x="396.64" y="373.81" width="7.28" height="2.46" fill="#fbf4af"/><rect x="403.87" y="373.81" width="7.28" height="2.46" fill="#fefce8"/><rect x="411.1" y="373.81" width="7.28" height="2.46" fill="#bcbddb"/><rect x="418.33" y="373.81" width="7.28" height="2.46" fill="#c8c9e1"/><rect x="425.56" y="373.81" width="7.28" height="2.46" fill="#ebebf4"/><rect x="432.79" y="373.81" width="7.28" height="2.46" fill="#fefceb"/><rect x="440.02" y="373.81" width="7.28" height="2.46" fill="#dbdbeb"/><rect x="447.25" y="373.81" width="7.28" height="2.46" fill="#fcf7c5"/><rect x="454.48" y="373.81" width="7.28" height="2.46" fill="#c4c5df"/><rect x="461.71" y="373.81" width="7.28" height="2.46" fill="#e2e2ef"/><rect x="468.94" y="373.81" width="7.28" height="2.46" fill="#d3d4e8"/><rect x="476.17" y="373.81" width="7.28" height="2.46" fill="#ffffff"/><rect x="338.8" y="376.23" width="7.28" height="2.46" fill="#c6c8e1"/><rect x="346.03" y="376.23" width="7.28" height="2.46" fill="#c7c8e1"/><rect x="353.26" y="376.23" width="7.28" height="2.46" fill="#fbf6bc"/><rect x="360.49" y="376.23" width="7.28" height="2.46" fill="#fbf5ba"/><rect x="367.72" y="376.23" width="7.28" height="2.46" fill="#faf4ad"/><rect x="374.95" y="376.23" width="7.28" height="2.46" fill="#f4e230"/><rect x="382.18" y="376.23" width="7.28" height="2.46" fill="#fdfadc"/><rect x="389.41" y="376.23" width="7.28" height="2.46" fill="#fdf9d4"/><rect x="396.64" y="376.23" width="7.28" height="2.46" fill="#faf3ad"/><rect x="403.87" y="376.23" width="7.28" height="2.46" fill="#fcf8cd"/><rect x="411.1" y="376.23" width="7.28" height="2.46" fill="#e7e8f2"/><rect x="418.33" y="376.23" width="7.28" height="2.46" fill="#b2b4d6"/><rect x="425.56" y="376.23" width="7.28" height="2.46" fill="#d4d5e8"/><rect x="432.79" y="376.23" width="7.28" height="2.46" fill="#6367ab"/><rect x="440.02" y="376.23" width="7.28" height="2.46" fill="#fffef7"/><rect x="447.25" y="376.23" width="7.28" height="2.46" fill="#d4d5e8"/><rect x="454.48" y="376.23" width="7.28" height="2.46" fill="#f5f5fa"/><rect x="461.71" y="376.23" width="7.28" height="2.46" fill="#fcf9d1"/><rect x="468.94" y="376.23" width="7.28" height="2.46" fill="#cccde4"/><rect x="476.17" y="376.23" width="7.28" height="2.46" fill="#d8d9ea"/><rect x="338.8" y="378.64" width="7.28" height="2.46" fill="#e5e6f1"/><rect x="346.03" y="378.64" width="7.28" height="2.46" fill="#f8f8fb"/><rect x="353.26" y="378.64" width="7.28" height="2.46" fill="#fffffc"/><rect x="360.49" y="378.64" width="7.28" height="2.46" fill="#fcf6c1"/><rect x="367.72" y="378.64" width="7.28" height="2.46" fill="#fcf8cd"/><rect x="374.95" y="378.64" width="7.28" height="2.46" fill="#fcf8cb"/><rect x="382.18" y="378.64" width="7.28" height="2.46" fill="#fefdee"/><rect x="389.41" y="378.64" width="7.28" height="2.46" fill="#faf3ab"/><rect x="396.64" y="378.64" width="7.28" height="2.46" fill="#fcf7c4"/><rect x="403.87" y="378.64" width="7.28" height="2.46" fill="#fefce7"/><rect x="411.1" y="378.64" width="7.28" height="2.46" fill="#c8c9e2"/><rect x="418.33" y="378.64" width="7.28" height="2.46" fill="#d9daea"/><rect x="425.56" y="378.64" width="7.28" height="2.46" fill="#bbbddb"/><rect x="432.79" y="378.64" width="7.28" height="2.46" fill="#fefdf3"/><rect x="440.02" y="378.64" width="7.28" height="2.46" fill="#fdfdfe"/><rect x="447.25" y="378.64" width="7.28" height="2.46" fill="#c2c3de"/><rect x="454.48" y="378.64" width="7.28" height="2.46" fill="#fafbfd"/><rect x="461.71" y="378.64" width="7.28" height="2.46" fill="#ecedf5"/><rect x="468.94" y="378.64" width="7.28" height="2.46" fill="#989ac8"/><rect x="476.17" y="378.64" width="7.28" height="2.46" fill="#fefce8"/><rect x="338.8" y="381.05" width="7.28" height="2.46" fill="#fffffc"/><rect x="346.03" y="381.05" width="7.28" height="2.46" fill="#fbf4ae"/><rect x="353.26" y="381.05" width="7.28" height="2.46" fill="#fcf9d1"/><rect x="360.49" y="381.05" width="7.28" height="2.46" fill="#fefced"/><rect x="367.72" y="381.05" width="7.28" height="2.46" fill="#eaebf4"/><rect x="374.95" y="381.05" width="7.28" height="2.46" fill="#f9f096"/><rect x="382.18" y="381.05" width="7.28" height="2.46" fill="#fdfbe3"/><rect x="389.41" y="381.05" width="7.28" height="2.46" fill="#fefdef"/><rect x="396.64" y="381.05" width="7.28" height="2.46" fill="#fcf8cc"/><rect x="403.87" y="381.05" width="7.28" height="2.46" fill="#fdfadb"/><rect x="411.1" y="381.05" width="7.28" height="2.46" fill="#c8cae2"/><rect x="418.33" y="381.05" width="7.28" height="2.46" fill="#d1d2e6"/><rect x="425.56" y="381.05" width="7.28" height="2.46" fill="#e0e1ee"/><rect x="432.79" y="381.05" width="7.28" height="2.46" fill="#9497c6"/><rect x="440.02" y="381.05" width="7.28" height="2.46" fill="#e3e4f0"/><rect x="447.25" y="381.05" width="7.28" height="2.46" fill="#f6f6fa"/><rect x="454.48" y="381.05" width="7.28" height="2.46" fill="#fffffd"/><rect x="461.71" y="381.05" width="7.28" height="2.46" fill="#d5d6e9"/><rect x="468.94" y="381.05" width="7.28" height="2.46" fill="#cacbe2"/><rect x="476.17" y="381.05" width="7.28" height="2.46" fill="#fefce9"/><rect x="338.8" y="383.46" width="7.28" height="2.46" fill="#e9e9f3"/><rect x="346.03" y="383.46" width="7.28" height="2.46" fill="#fbf5bb"/><rect x="353.26" y="383.46" width="7.28" height="2.46" fill="#f8ed7e"/><rect x="360.49" y="383.46" width="7.28" height="2.46" fill="#fefce7"/><rect x="367.72" y="383.46" width="7.28" height="2.46" fill="#f9ef8b"/><rect x="374.95" y="383.46" width="7.28" height="2.46" fill="#fffef8"/><rect x="382.18" y="383.46" width="7.28" height="2.46" fill="#fdfade"/><rect x="389.41" y="383.46" width="7.28" height="2.46" fill="#fefce8"/><rect x="396.64" y="383.46" width="7.28" height="2.46" fill="#fdfadd"/><rect x="403.87" y="383.46" width="7.28" height="2.46" fill="#faf2a3"/><rect x="411.1" y="383.46" width="7.28" height="2.46" fill="#fbfbfd"/><rect x="418.33" y="383.46" width="7.28" height="2.46" fill="#c5c6e0"/><rect x="425.56" y="383.46" width="7.28" height="2.46" fill="#cccde3"/><rect x="432.79" y="383.46" width="7.28" height="2.46" fill="#eaebf4"/><rect x="440.02" y="383.46" width="7.28" height="2.46" fill="#cccde3"/><rect x="447.25" y="383.46" width="7.28" height="2.46" fill="#eeeef6"/><rect x="454.48" y="383.46" width="7.28" height="2.46" fill="#e9eaf3"/><rect x="461.71" y="383.46" width="7.28" height="2.46" fill="#d6d6e9"/><rect x="468.94" y="383.46" width="7.28" height="2.46" fill="#dcddec"/><rect x="476.17" y="383.46" width="7.28" height="2.46" fill="#aaacd2"/><rect x="338.8" y="385.87" width="7.28" height="2.46" fill="#fefce9"/><rect x="346.03" y="385.87" width="7.28" height="2.46" fill="#dddded"/><rect x="353.26" y="385.87" width="7.28" height="2.46" fill="#fefefe"/><rect x="360.49" y="385.87" width="7.28" height="2.46" fill="#fdfdfe"/><rect x="367.72" y="385.87" width="7.28" height="2.46" fill="#fefce8"/><rect x="374.95" y="385.87" width="7.28" height="2.46" fill="#faf2a0"/><rect x="382.18" y="385.87" width="7.28" height="2.46" fill="#fdfbe3"/><rect x="389.41" y="385.87" width="7.28" height="2.46" fill="#fffef7"/><rect x="396.64" y="385.87" width="7.28" height="2.46" fill="#fcf7c4"/><rect x="403.87" y="385.87" width="7.28" height="2.46" fill="#f8ee86"/><rect x="411.1" y="385.87" width="7.28" height="2.46" fill="#b0b1d4"/><rect x="418.33" y="385.87" width="7.28" height="2.46" fill="#e7e8f2"/><rect x="425.56" y="385.87" width="7.28" height="2.46" fill="#fffefa"/><rect x="432.79" y="385.87" width="7.28" height="2.46" fill="#e4e5f1"/><rect x="440.02" y="385.87" width="7.28" height="2.46" fill="#c5c6e0"/><rect x="447.25" y="385.87" width="7.28" height="2.46" fill="#fcf6c2"/><rect x="454.48" y="385.87" width="7.28" height="2.46" fill="#fdfada"/><rect x="461.71" y="385.87" width="7.28" height="2.46" fill="#9c9eca"/><rect x="468.94" y="385.87" width="7.28" height="2.46" fill="#cbcce3"/><rect x="476.17" y="385.87" width="7.28" height="2.46" fill="#ededf5"/><rect x="338.8" y="388.28" width="7.28" height="2.46" fill="#fdf9d3"/><rect x="346.03" y="388.28" width="7.28" height="2.46" fill="#fbf4b2"/><rect x="353.26" y="388.28" width="7.28" height="2.46" fill="#fdfbe3"/><rect x="360.49" y="388.28" width="7.28" height="2.46" fill="#f3f3f9"/><rect x="367.72" y="388.28" width="7.28" height="2.46" fill="#fcf6c1"/><rect x="374.95" y="388.28" width="7.28" height="2.46" fill="#f8ee89"/><rect x="382.18" y="388.28" width="7.28" height="2.46" fill="#f2f2f8"/><rect x="389.41" y="388.28" width="7.28" height="2.46" fill="#f8f8fb"/><rect x="396.64" y="388.28" width="7.28" height="2.46" fill="#fdfad9"/><rect x="403.87" y="388.28" width="7.28" height="2.46" fill="#d5d6e9"/><rect x="411.1" y="388.28" width="7.28" height="2.46" fill="#aeb0d4"/><rect x="418.33" y="388.28" width="7.28" height="2.46" fill="#d5d6e9"/><rect x="425.56" y="388.28" width="7.28" height="2.46" fill="#f5f5f9"/><rect x="432.79" y="388.28" width="7.28" height="2.46" fill="#cccde4"/><rect x="440.02" y="388.28" width="7.28" height="2.46" fill="#dadbeb"/><rect x="447.25" y="388.28" width="7.28" height="2.46" fill="#dadbeb"/><rect x="454.48" y="388.28" width="7.28" height="2.46" fill="#dedfed"/><rect x="461.71" y="388.28" width="7.28" height="2.46" fill="#d2d3e7"/><rect x="468.94" y="388.28" width="7.28" height="2.46" fill="#d4d5e8"/><rect x="476.17" y="388.28" width="7.28" height="2.46" fill="#fdfdfe"/><rect x="338.8" y="390.7" width="7.28" height="2.46" fill="#fcf8cd"/><rect x="346.03" y="390.7" width="7.28" height="2.46" fill="#f8ec7a"/><rect x="353.26" y="390.7" width="7.28" height="2.46" fill="#fefefe"/><rect x="360.49" y="390.7" width="7.28" height="2.46" fill="#fffef8"/><rect x="367.72" y="390.7" width="7.28" height="2.46" fill="#c7c9e1"/><rect x="374.95" y="390.7" width="7.28" height="2.46" fill="#f6e85a"/><rect x="382.18" y="390.7" width="7.28" height="2.46" fill="#fbfbfd"/><rect x="389.41" y="390.7" width="7.28" height="2.46" fill="#fdfadf"/><rect x="396.64" y="390.7" width="7.28" height="2.46" fill="#fbf6c0"/><rect x="403.87" y="390.7" width="7.28" height="2.46" fill="#e8e8f3"/><rect x="411.1" y="390.7" width="7.28" height="2.46" fill="#c3c4df"/><rect x="418.33" y="390.7" width="7.28" height="2.46" fill="#dedfee"/><rect x="425.56" y="390.7" width="7.28" height="2.46" fill="#a6a8cf"/><rect x="432.79" y="390.7" width="7.28" height="2.46" fill="#e8e9f3"/><rect x="440.02" y="390.7" width="7.28" height="2.46" fill="#fdfbe3"/><rect x="447.25" y="390.7" width="7.28" height="2.46" fill="#a4a6ce"/><rect x="454.48" y="390.7" width="7.28" height="2.46" fill="#f4f5f9"/><rect x="461.71" y="390.7" width="7.28" height="2.46" fill="#eaeaf4"/><rect x="468.94" y="390.7" width="7.28" height="2.46" fill="#dfe0ee"/><rect x="476.17" y="390.7" width="7.28" height="2.46" fill="#f1f1f7"/><rect x="338.8" y="393.11" width="7.28" height="2.46" fill="#fcf8cc"/><rect x="346.03" y="393.11" width="7.28" height="2.46" fill="#fefdf0"/><rect x="353.26" y="393.11" width="7.28" height="2.46" fill="#fbf4ae"/><rect x="360.49" y="393.11" width="7.28" height="2.46" fill="#fffffc"/><rect x="367.72" y="393.11" width="7.28" height="2.46" fill="#faf3a8"/><rect x="374.95" y="393.11" width="7.28" height="2.46" fill="#fffffd"/><rect x="382.18" y="393.11" width="7.28" height="2.46" fill="#fefdee"/><rect x="389.41" y="393.11" width="7.28" height="2.46" fill="#f8ed7d"/><rect x="396.64" y="393.11" width="7.28" height="2.46" fill="#fcf8ca"/><rect x="403.87" y="393.11" width="7.28" height="2.46" fill="#fefceb"/><rect x="411.1" y="393.11" width="7.28" height="2.46" fill="#8689be"/><rect x="418.33" y="393.11" width="7.28" height="2.46" fill="#c1c2de"/><rect x="425.56" y="393.11" width="7.28" height="2.46" fill="#e5e6f1"/><rect x="432.79" y="393.11" width="7.28" height="2.46" fill="#f8f8fb"/><rect x="440.02" y="393.11" width="7.28" height="2.46" fill="#fafafc"/><rect x="447.25" y="393.11" width="7.28" height="2.46" fill="#eff0f7"/><rect x="454.48" y="393.11" width="7.28" height="2.46" fill="#d6d7e9"/><rect x="461.71" y="393.11" width="7.28" height="2.46" fill="#fefef6"/><rect x="468.94" y="393.11" width="7.28" height="2.46" fill="#bec0dc"/><rect x="476.17" y="393.11" width="7.28" height="2.46" fill="#cdcee4"/><rect x="338.8" y="395.52" width="7.28" height="2.46" fill="#fdfad9"/><rect x="346.03" y="395.52" width="7.28" height="2.46" fill="#fefef4"/><rect x="353.26" y="395.52" width="7.28" height="2.46" fill="#fdfdfe"/><rect x="360.49" y="395.52" width="7.28" height="2.46" fill="#f1f1f7"/><rect x="367.72" y="395.52" width="7.28" height="2.46" fill="#fffffe"/><rect x="374.95" y="395.52" width="7.28" height="2.46" fill="#fcf8d1"/><rect x="382.18" y="395.52" width="7.28" height="2.46" fill="#fefce7"/><rect x="389.41" y="395.52" width="7.28" height="2.46" fill="#dadbeb"/><rect x="396.64" y="395.52" width="7.28" height="2.46" fill="#fdfbe1"/><rect x="403.87" y="395.52" width="7.28" height="2.46" fill="#fefdee"/><rect x="411.1" y="395.52" width="7.28" height="2.46" fill="#c4c5df"/><rect x="418.33" y="395.52" width="7.28" height="2.46" fill="#fefdf3"/><rect x="425.56" y="395.52" width="7.28" height="2.46" fill="#ececf5"/><rect x="432.79" y="395.52" width="7.28" height="2.46" fill="#e9e9f3"/><rect x="440.02" y="395.52" width="7.28" height="2.46" fill="#fefce9"/><rect x="447.25" y="395.52" width="7.28" height="2.46" fill="#fdfad9"/><rect x="454.48" y="395.52" width="7.28" height="2.46" fill="#dcddec"/><rect x="461.71" y="395.52" width="7.28" height="2.46" fill="#fffffe"/><rect x="468.94" y="395.52" width="7.28" height="2.46" fill="#d2d3e7"/><rect x="476.17" y="395.52" width="7.28" height="2.46" fill="#faf3aa"/><rect x="338.8" y="397.93" width="7.28" height="2.46" fill="#ebebf4"/><rect x="346.03" y="397.93" width="7.28" height="2.46" fill="#fbf5b5"/><rect x="353.26" y="397.93" width="7.28" height="2.46" fill="#f1f1f8"/><rect x="360.49" y="397.93" width="7.28" height="2.46" fill="#fcf8cd"/><rect x="367.72" y="397.93" width="7.28" height="2.46" fill="#f7eb70"/><rect x="374.95" y="397.93" width="7.28" height="2.46" fill="#a9abd1"/><rect x="382.18" y="397.93" width="7.28" height="2.46" fill="#f7f7fb"/><rect x="389.41" y="397.93" width="7.28" height="2.46" fill="#fdfadc"/><rect x="396.64" y="397.93" width="7.28" height="2.46" fill="#fffefa"/><rect x="403.87" y="397.93" width="7.28" height="2.46" fill="#f0f0f7"/><rect x="411.1" y="397.93" width="7.28" height="2.46" fill="#fcf7c9"/><rect x="418.33" y="397.93" width="7.28" height="2.46" fill="#f6f6fa"/><rect x="425.56" y="397.93" width="7.28" height="2.46" fill="#c0c2dd"/><rect x="432.79" y="397.93" width="7.28" height="2.46" fill="#fefdef"/><rect x="440.02" y="397.93" width="7.28" height="2.46" fill="#c3c5df"/><rect x="447.25" y="397.93" width="7.28" height="2.46" fill="#fdfbe0"/><rect x="454.48" y="397.93" width="7.28" height="2.46" fill="#e1e1ef"/><rect x="461.71" y="397.93" width="7.28" height="2.46" fill="#f9f9fc"/><rect x="468.94" y="397.93" width="7.28" height="2.46" fill="#fefbe4"/><rect x="476.17" y="397.93" width="7.28" height="2.46" fill="#f8f8fb"/><rect x="338.8" y="400.34" width="7.28" height="2.46" fill="#cacbe2"/><rect x="346.03" y="400.34" width="7.28" height="2.46" fill="#cacbe2"/><rect x="353.26" y="400.34" width="7.28" height="2.46" fill="#fbf4b1"/><rect x="360.49" y="400.34" width="7.28" height="2.46" fill="#fcf8cd"/><rect x="367.72" y="400.34" width="7.28" height="2.46" fill="#f0f0f7"/><rect x="374.95" y="400.34" width="7.28" height="2.46" fill="#fbf6bf"/><rect x="382.18" y="400.34" width="7.28" height="2.46" fill="#fdfadb"/><rect x="389.41" y="400.34" width="7.28" height="2.46" fill="#fcf9d1"/><rect x="396.64" y="400.34" width="7.28" height="2.46" fill="#b3b5d6"/><rect x="403.87" y="400.34" width="7.28" height="2.46" fill="#fefefe"/><rect x="411.1" y="400.34" width="7.28" height="2.46" fill="#fffffc"/><rect x="418.33" y="400.34" width="7.28" height="2.46" fill="#fefdf1"/><rect x="425.56" y="400.34" width="7.28" height="2.46" fill="#fefce9"/><rect x="432.79" y="400.34" width="7.28" height="2.46" fill="#a5a7cf"/><rect x="440.02" y="400.34" width="7.28" height="2.46" fill="#fffffe"/><rect x="447.25" y="400.34" width="7.28" height="2.46" fill="#fffef9"/><rect x="454.48" y="400.34" width="7.28" height="2.46" fill="#faf19e"/><rect x="461.71" y="400.34" width="7.28" height="2.46" fill="#d9daeb"/><rect x="468.94" y="400.34" width="7.28" height="2.46" fill="#e7e7f2"/><rect x="476.17" y="400.34" width="7.28" height="2.46" fill="#f8f8fb"/><rect x="338.8" y="402.75" width="7.28" height="2.46" fill="#fdf9d4"/><rect x="346.03" y="402.75" width="7.28" height="2.46" fill="#fafafc"/><rect x="353.26" y="402.75" width="7.28" height="2.46" fill="#fbf4b1"/><rect x="360.49" y="402.75" width="7.28" height="2.46" fill="#ededf5"/><rect x="367.72" y="402.75" width="7.28" height="2.46" fill="#fdfadf"/><rect x="374.95" y="402.75" width="7.28" height="2.46" fill="#fbfbfd"/><rect x="382.18" y="402.75" width="7.28" height="2.46" fill="#fefcec"/><rect x="389.41" y="402.75" width="7.28" height="2.46" fill="#f2f2f8"/><rect x="396.64" y="402.75" width="7.28" height="2.46" fill="#cfd0e5"/><rect x="403.87" y="402.75" width="7.28" height="2.46" fill="#fbf5b6"/><rect x="411.1" y="402.75" width="7.28" height="2.46" fill="#f2f2f8"/><rect x="418.33" y="402.75" width="7.28" height="2.46" fill="#e6e6f1"/><rect x="425.56" y="402.75" width="7.28" height="2.46" fill="#fdfdfe"/><rect x="432.79" y="402.75" width="7.28" height="2.46" fill="#fefbe5"/><rect x="440.02" y="402.75" width="7.28" height="2.46" fill="#dfe0ee"/><rect x="447.25" y="402.75" width="7.28" height="2.46" fill="#f4f5f9"/><rect x="454.48" y="402.75" width="7.28" height="2.46" fill="#fffef9"/><rect x="461.71" y="402.75" width="7.28" height="2.46" fill="#fffef6"/><rect x="468.94" y="402.75" width="7.28" height="2.46" fill="#e7e8f2"/><rect x="476.17" y="402.75" width="7.28" height="2.46" fill="#b4b5d7"/><rect x="338.8" y="405.17" width="7.28" height="2.46" fill="#fbf6be"/><rect x="346.03" y="405.17" width="7.28" height="2.46" fill="#fdfbe0"/><rect x="353.26" y="405.17" width="7.28" height="2.46" fill="#fefdf0"/><rect x="360.49" y="405.17" width="7.28" height="2.46" fill="#ffffff"/><rect x="367.72" y="405.17" width="7.28" height="2.46" fill="#fdfade"/><rect x="374.95" y="405.17" width="7.28" height="2.46" fill="#ffffff"/><rect x="382.18" y="405.17" width="7.28" height="2.46" fill="#e5e5f1"/><rect x="389.41" y="405.17" width="7.28" height="2.46" fill="#f1f1f7"/><rect x="396.64" y="405.17" width="7.28" height="2.46" fill="#f6f6fa"/><rect x="403.87" y="405.17" width="7.28" height="2.46" fill="#f5f5fa"/><rect x="411.1" y="405.17" width="7.28" height="2.46" fill="#c4c5df"/><rect x="418.33" y="405.17" width="7.28" height="2.46" fill="#fefdf3"/><rect x="425.56" y="405.17" width="7.28" height="2.46" fill="#d0d1e6"/><rect x="432.79" y="405.17" width="7.28" height="2.46" fill="#fefdf2"/><rect x="440.02" y="405.17" width="7.28" height="2.46" fill="#dfdfee"/><rect x="447.25" y="405.17" width="7.28" height="2.46" fill="#fffffc"/><rect x="454.48" y="405.17" width="7.28" height="2.46" fill="#fdf9d4"/><rect x="461.71" y="405.17" width="7.28" height="2.46" fill="#fefefe"/><rect x="468.94" y="405.17" width="7.28" height="2.46" fill="#dcdcec"/><rect x="476.17" y="405.17" width="7.28" height="2.46" fill="#fafafc"/><rect x="338.8" y="407.58" width="7.28" height="2.46" fill="#fffef9"/><rect x="346.03" y="407.58" width="7.28" height="2.46" fill="#cacbe3"/><rect x="353.26" y="407.58" width="7.28" height="2.46" fill="#f6f6fa"/><rect x="360.49" y="407.58" width="7.28" height="2.46" fill="#fefcea"/><rect x="367.72" y="407.58" width="7.28" height="2.46" fill="#fdfdfe"/><rect x="374.95" y="407.58" width="7.28" height="2.46" fill="#fefce7"/><rect x="382.18" y="407.58" width="7.28" height="2.46" fill="#fcf8cb"/><rect x="389.41" y="407.58" width="7.28" height="2.46" fill="#fcf7c7"/><rect x="396.64" y="407.58" width="7.28" height="2.46" fill="#fbf6bf"/><rect x="403.87" y="407.58" width="7.28" height="2.46" fill="#fcf9d1"/><rect x="411.1" y="407.58" width="7.28" height="2.46" fill="#e1e1ef"/><rect x="418.33" y="407.58" width="7.28" height="2.46" fill="#f7f7fb"/><rect x="425.56" y="407.58" width="7.28" height="2.46" fill="#f1f1f7"/><rect x="432.79" y="407.58" width="7.28" height="2.46" fill="#eeeff6"/><rect x="440.02" y="407.58" width="7.28" height="2.46" fill="#f8f8fb"/><rect x="447.25" y="407.58" width="7.28" height="2.46" fill="#c2c3de"/><rect x="454.48" y="407.58" width="7.28" height="2.46" fill="#ecedf5"/><rect x="461.71" y="407.58" width="7.28" height="2.46" fill="#f8f8fb"/><rect x="468.94" y="407.58" width="7.28" height="2.46" fill="#d4d5e8"/><rect x="476.17" y="407.58" width="7.28" height="2.46" fill="#f8f8fb"/><rect x="338.8" y="409.99" width="7.28" height="2.46" fill="#fefce8"/><rect x="346.03" y="409.99" width="7.28" height="2.46" fill="#fffefb"/><rect x="353.26" y="409.99" width="7.28" height="2.46" fill="#f8ec7a"/><rect x="360.49" y="409.99" width="7.28" height="2.46" fill="#a3a5ce"/><rect x="367.72" y="409.99" width="7.28" height="2.46" fill="#fffef8"/><rect x="374.95" y="409.99" width="7.28" height="2.46" fill="#cacbe2"/><rect x="382.18" y="409.99" width="7.28" height="2.46" fill="#fbf6bf"/><rect x="389.41" y="409.99" width="7.28" height="2.46" fill="#f6e757"/><rect x="396.64" y="409.99" width="7.28" height="2.46" fill="#a9abd1"/><rect x="403.87" y="409.99" width="7.28" height="2.46" fill="#fefcec"/><rect x="411.1" y="409.99" width="7.28" height="2.46" fill="#f8f8fb"/><rect x="418.33" y="409.99" width="7.28" height="2.46" fill="#edeef5"/><rect x="425.56" y="409.99" width="7.28" height="2.46" fill="#fefef6"/><rect x="432.79" y="409.99" width="7.28" height="2.46" fill="#adafd3"/><rect x="440.02" y="409.99" width="7.28" height="2.46" fill="#fdfbe2"/><rect x="447.25" y="409.99" width="7.28" height="2.46" fill="#fffffd"/><rect x="454.48" y="409.99" width="7.28" height="2.46" fill="#f6f6fa"/><rect x="461.71" y="409.99" width="7.28" height="2.46" fill="#e6e6f1"/><rect x="468.94" y="409.99" width="7.28" height="2.46" fill="#fffefb"/><rect x="476.17" y="409.99" width="7.28" height="2.46" fill="#e9e9f3"/><rect x="338.8" y="412.4" width="7.28" height="2.46" fill="#fffefa"/><rect x="346.03" y="412.4" width="7.28" height="2.46" fill="#f5f6fa"/><rect x="353.26" y="412.4" width="7.28" height="2.46" fill="#b2b4d6"/><rect x="360.49" y="412.4" width="7.28" height="2.46" fill="#fffef9"/><rect x="367.72" y="412.4" width="7.28" height="2.46" fill="#fefbe6"/><rect x="374.95" y="412.4" width="7.28" height="2.46" fill="#fcf7c7"/><rect x="382.18" y="412.4" width="7.28" height="2.46" fill="#e7e8f2"/><rect x="389.41" y="412.4" width="7.28" height="2.46" fill="#fffef7"/><rect x="396.64" y="412.4" width="7.28" height="2.46" fill="#fdf9d5"/><rect x="403.87" y="412.4" width="7.28" height="2.46" fill="#fefdee"/><rect x="411.1" y="412.4" width="7.28" height="2.46" fill="#fefdf1"/><rect x="418.33" y="412.4" width="7.28" height="2.46" fill="#fbf5ba"/><rect x="425.56" y="412.4" width="7.28" height="2.46" fill="#d9daeb"/><rect x="432.79" y="412.4" width="7.28" height="2.46" fill="#b6b7d8"/><rect x="440.02" y="412.4" width="7.28" height="2.46" fill="#fefbe5"/><rect x="447.25" y="412.4" width="7.28" height="2.46" fill="#fcf8ce"/><rect x="454.48" y="412.4" width="7.28" height="2.46" fill="#fefced"/><rect x="461.71" y="412.4" width="7.28" height="2.46" fill="#fefdee"/><rect x="468.94" y="412.4" width="7.28" height="2.46" fill="#dcddec"/><rect x="476.17" y="412.4" width="7.28" height="2.46" fill="#dfe0ee"/><rect x="338.8" y="414.81" width="7.28" height="2.46" fill="#fdf9d6"/><rect x="346.03" y="414.81" width="7.28" height="2.46" fill="#e8e8f2"/><rect x="353.26" y="414.81" width="7.28" height="2.46" fill="#c5c7e0"/><rect x="360.49" y="414.81" width="7.28" height="2.46" fill="#e3e4f0"/><rect x="367.72" y="414.81" width="7.28" height="2.46" fill="#f6e85d"/><rect x="374.95" y="414.81" width="7.28" height="2.46" fill="#f8ed80"/><rect x="382.18" y="414.81" width="7.28" height="2.46" fill="#efeff6"/><rect x="389.41" y="414.81" width="7.28" height="2.46" fill="#efeff6"/><rect x="396.64" y="414.81" width="7.28" height="2.46" fill="#fefce9"/><rect x="403.87" y="414.81" width="7.28" height="2.46" fill="#eeeef6"/><rect x="411.1" y="414.81" width="7.28" height="2.46" fill="#fefced"/><rect x="418.33" y="414.81" width="7.28" height="2.46" fill="#f3f3f8"/><rect x="425.56" y="414.81" width="7.28" height="2.46" fill="#d4d5e8"/><rect x="432.79" y="414.81" width="7.28" height="2.46" fill="#fdfad9"/><rect x="440.02" y="414.81" width="7.28" height="2.46" fill="#eaeaf4"/><rect x="447.25" y="414.81" width="7.28" height="2.46" fill="#fcfcfd"/><rect x="454.48" y="414.81" width="7.28" height="2.46" fill="#f3f4f9"/><rect x="461.71" y="414.81" width="7.28" height="2.46" fill="#ededf5"/><rect x="468.94" y="414.81" width="7.28" height="2.46" fill="#f9f9fc"/><rect x="476.17" y="414.81" width="7.28" height="2.46" fill="#e1e2ef"/><rect x="338.8" y="417.23" width="7.28" height="2.46" fill="#bdbedb"/><rect x="346.03" y="417.23" width="7.28" height="2.46" fill="#babcda"/><rect x="353.26" y="417.23" width="7.28" height="2.46" fill="#e1e2ef"/><rect x="360.49" y="417.23" width="7.28" height="2.46" fill="#f2f2f8"/><rect x="367.72" y="417.23" width="7.28" height="2.46" fill="#fefce8"/><rect x="374.95" y="417.23" width="7.28" height="2.46" fill="#fefbe4"/><rect x="382.18" y="417.23" width="7.28" height="2.46" fill="#fcf8d0"/><rect x="389.41" y="417.23" width="7.28" height="2.46" fill="#fefce6"/><rect x="396.64" y="417.23" width="7.28" height="2.46" fill="#f2f2f8"/><rect x="403.87" y="417.23" width="7.28" height="2.46" fill="#f5f5fa"/><rect x="411.1" y="417.23" width="7.28" height="2.46" fill="#a6a8cf"/><rect x="418.33" y="417.23" width="7.28" height="2.46" fill="#f5f6fa"/><rect x="425.56" y="417.23" width="7.28" height="2.46" fill="#fefdf3"/><rect x="432.79" y="417.23" width="7.28" height="2.46" fill="#fefdf2"/><rect x="440.02" y="417.23" width="7.28" height="2.46" fill="#fdfdfe"/><rect x="447.25" y="417.23" width="7.28" height="2.46" fill="#f7f7fa"/><rect x="454.48" y="417.23" width="7.28" height="2.46" fill="#fdfbe3"/><rect x="461.71" y="417.23" width="7.28" height="2.46" fill="#fcfcfd"/><rect x="468.94" y="417.23" width="7.28" height="2.46" fill="#fefdf1"/><rect x="476.17" y="417.23" width="7.28" height="2.46" fill="#fefdef"/><rect x="338.8" y="419.64" width="7.28" height="2.46" fill="#fffffe"/><rect x="346.03" y="419.64" width="7.28" height="2.46" fill="#fbf4b3"/><rect x="353.26" y="419.64" width="7.28" height="2.46" fill="#f1f1f7"/><rect x="360.49" y="419.64" width="7.28" height="2.46" fill="#f6f7fa"/><rect x="367.72" y="419.64" width="7.28" height="2.46" fill="#ebecf4"/><rect x="374.95" y="419.64" width="7.28" height="2.46" fill="#ececf5"/><rect x="382.18" y="419.64" width="7.28" height="2.46" fill="#faf2a6"/><rect x="389.41" y="419.64" width="7.28" height="2.46" fill="#f9f098"/><rect x="396.64" y="419.64" width="7.28" height="2.46" fill="#fffef9"/><rect x="403.87" y="419.64" width="7.28" height="2.46" fill="#fdfadd"/><rect x="411.1" y="419.64" width="7.28" height="2.46" fill="#fffef8"/><rect x="418.33" y="419.64" width="7.28" height="2.46" fill="#fefef5"/><rect x="425.56" y="419.64" width="7.28" height="2.46" fill="#fdfbe2"/><rect x="432.79" y="419.64" width="7.28" height="2.46" fill="#c8cae2"/><rect x="440.02" y="419.64" width="7.28" height="2.46" fill="#e4e4f0"/><rect x="447.25" y="419.64" width="7.28" height="2.46" fill="#fefeff"/><rect x="454.48" y="419.64" width="7.28" height="2.46" fill="#fdfadb"/><rect x="461.71" y="419.64" width="7.28" height="2.46" fill="#f5f5fa"/><rect x="468.94" y="419.64" width="7.28" height="2.46" fill="#d0d1e6"/><rect x="476.17" y="419.64" width="7.28" height="2.46" fill="#e7e8f2"/><rect x="338.8" y="422.05" width="7.28" height="2.46" fill="#bcbedb"/><rect x="346.03" y="422.05" width="7.28" height="2.46" fill="#bec0dc"/><rect x="353.26" y="422.05" width="7.28" height="2.46" fill="#fffefb"/><rect x="360.49" y="422.05" width="7.28" height="2.46" fill="#b1b3d5"/><rect x="367.72" y="422.05" width="7.28" height="2.46" fill="#d6d7e9"/><rect x="374.95" y="422.05" width="7.28" height="2.46" fill="#fefef5"/><rect x="382.18" y="422.05" width="7.28" height="2.46" fill="#f8f8fb"/><rect x="389.41" y="422.05" width="7.28" height="2.46" fill="#e3e4f0"/><rect x="396.64" y="422.05" width="7.28" height="2.46" fill="#c6c7e0"/><rect x="403.87" y="422.05" width="7.28" height="2.46" fill="#f0f1f7"/><rect x="411.1" y="422.05" width="7.28" height="2.46" fill="#f7ea6d"/><rect x="418.33" y="422.05" width="7.28" height="2.46" fill="#fbf5ba"/><rect x="425.56" y="422.05" width="7.28" height="2.46" fill="#faf3a8"/><rect x="432.79" y="422.05" width="7.28" height="2.46" fill="#f9f9fc"/><rect x="440.02" y="422.05" width="7.28" height="2.46" fill="#fcf8d0"/><rect x="447.25" y="422.05" width="7.28" height="2.46" fill="#fefeff"/><rect x="454.48" y="422.05" width="7.28" height="2.46" fill="#fbf4b1"/><rect x="461.71" y="422.05" width="7.28" height="2.46" fill="#f9f19b"/><rect x="468.94" y="422.05" width="7.28" height="2.46" fill="#fefdf1"/><rect x="476.17" y="422.05" width="7.28" height="2.46" fill="#fcf7c7"/><rect x="338.8" y="424.46" width="7.28" height="2.46" fill="#dcddec"/><rect x="346.03" y="424.46" width="7.28" height="2.46" fill="#cbcce3"/><rect x="353.26" y="424.46" width="7.28" height="2.46" fill="#d3d4e7"/><rect x="360.49" y="424.46" width="7.28" height="2.46" fill="#e1e1ef"/><rect x="367.72" y="424.46" width="7.28" height="2.46" fill="#fefce8"/><rect x="374.95" y="424.46" width="7.28" height="2.46" fill="#e0e1ee"/><rect x="382.18" y="424.46" width="7.28" height="2.46" fill="#e2e3f0"/><rect x="389.41" y="424.46" width="7.28" height="2.46" fill="#abadd2"/><rect x="396.64" y="424.46" width="7.28" height="2.46" fill="#fefbe6"/><rect x="403.87" y="424.46" width="7.28" height="2.46" fill="#eaeaf4"/><rect x="411.1" y="424.46" width="7.28" height="2.46" fill="#fbf5b6"/><rect x="418.33" y="424.46" width="7.28" height="2.46" fill="#fffffe"/><rect x="425.56" y="424.46" width="7.28" height="2.46" fill="#fdfade"/><rect x="432.79" y="424.46" width="7.28" height="2.46" fill="#dadbeb"/><rect x="440.02" y="424.46" width="7.28" height="2.46" fill="#fdfade"/><rect x="447.25" y="424.46" width="7.28" height="2.46" fill="#fdfbe3"/><rect x="454.48" y="424.46" width="7.28" height="2.46" fill="#fbf6be"/><rect x="461.71" y="424.46" width="7.28" height="2.46" fill="#fcf7c4"/><rect x="468.94" y="424.46" width="7.28" height="2.46" fill="#fdf9d4"/><rect x="476.17" y="424.46" width="7.28" height="2.46" fill="#f8ed7d"/><rect x="338.8" y="426.87" width="7.28" height="2.46" fill="#c7c9e1"/><rect x="346.03" y="426.87" width="7.28" height="2.46" fill="#aaacd1"/><rect x="353.26" y="426.87" width="7.28" height="2.46" fill="#dedeed"/><rect x="360.49" y="426.87" width="7.28" height="2.46" fill="#b8b9d9"/><rect x="367.72" y="426.87" width="7.28" height="2.46" fill="#c0c2dd"/><rect x="374.95" y="426.87" width="7.28" height="2.46" fill="#c9cae2"/><rect x="382.18" y="426.87" width="7.28" height="2.46" fill="#e8e9f3"/><rect x="389.41" y="426.87" width="7.28" height="2.46" fill="#bfc0dc"/><rect x="396.64" y="426.87" width="7.28" height="2.46" fill="#dfe0ee"/><rect x="403.87" y="426.87" width="7.28" height="2.46" fill="#fdfbe1"/><rect x="411.1" y="426.87" width="7.28" height="2.46" fill="#f9ef8a"/><rect x="418.33" y="426.87" width="7.28" height="2.46" fill="#fcf8cd"/><rect x="425.56" y="426.87" width="7.28" height="2.46" fill="#fcf8cc"/><rect x="432.79" y="426.87" width="7.28" height="2.46" fill="#fcfcfd"/><rect x="440.02" y="426.87" width="7.28" height="2.46" fill="#fdfad9"/><rect x="447.25" y="426.87" width="7.28" height="2.46" fill="#fcf8ce"/><rect x="454.48" y="426.87" width="7.28" height="2.46" fill="#fbf5ba"/><rect x="461.71" y="426.87" width="7.28" height="2.46" fill="#e4e5f0"/><rect x="468.94" y="426.87" width="7.28" height="2.46" fill="#faf2a5"/><rect x="476.17" y="426.87" width="7.28" height="2.46" fill="#fdfadd"/><rect x="338.8" y="429.28" width="7.28" height="2.46" fill="#eeeef6"/><rect x="346.03" y="429.28" width="7.28" height="2.46" fill="#cfd1e6"/><rect x="353.26" y="429.28" width="7.28" height="2.46" fill="#e6e7f2"/><rect x="360.49" y="429.28" width="7.28" height="2.46" fill="#fefdee"/><rect x="367.72" y="429.28" width="7.28" height="2.46" fill="#bebfdc"/><rect x="374.95" y="429.28" width="7.28" height="2.46" fill="#afb1d4"/><rect x="382.18" y="429.28" width="7.28" height="2.46" fill="#b2b4d6"/><rect x="389.41" y="429.28" width="7.28" height="2.46" fill="#9698c6"/><rect x="396.64" y="429.28" width="7.28" height="2.46" fill="#a7a9d0"/><rect x="403.87" y="429.28" width="7.28" height="2.46" fill="#f7f7fb"/><rect x="411.1" y="429.28" width="7.28" height="2.46" fill="#fcf7c8"/><rect x="418.33" y="429.28" width="7.28" height="2.46" fill="#f2f2f8"/><rect x="425.56" y="429.28" width="7.28" height="2.46" fill="#f6f6fa"/><rect x="432.79" y="429.28" width="7.28" height="2.46" fill="#fefcea"/><rect x="440.02" y="429.28" width="7.28" height="2.46" fill="#fffef8"/><rect x="447.25" y="429.28" width="7.28" height="2.46" fill="#fffffc"/><rect x="454.48" y="429.28" width="7.28" height="2.46" fill="#faf3a8"/><rect x="461.71" y="429.28" width="7.28" height="2.46" fill="#f9ef8a"/><rect x="468.94" y="429.28" width="7.28" height="2.46" fill="#f5e548"/><rect x="476.17" y="429.28" width="7.28" height="2.46" fill="#f8ee87"/><rect x="338.8" y="431.7" width="7.28" height="2.46" fill="#d8d9ea"/><rect x="346.03" y="431.7" width="7.28" height="2.46" fill="#e1e2ef"/><rect x="353.26" y="431.7" width="7.28" height="2.46" fill="#fefcec"/><rect x="360.49" y="431.7" width="7.28" height="2.46" fill="#f3f3f8"/><rect x="367.72" y="431.7" width="7.28" height="2.46" fill="#cecfe5"/><rect x="374.95" y="431.7" width="7.28" height="2.46" fill="#dadbeb"/><rect x="382.18" y="431.7" width="7.28" height="2.46" fill="#e0e1ef"/><rect x="389.41" y="431.7" width="7.28" height="2.46" fill="#dddeed"/><rect x="396.64" y="431.7" width="7.28" height="2.46" fill="#cccde4"/><rect x="403.87" y="431.7" width="7.28" height="2.46" fill="#bec0dc"/><rect x="411.1" y="431.7" width="7.28" height="2.46" fill="#fcf8cd"/><rect x="418.33" y="431.7" width="7.28" height="2.46" fill="#f5f5fa"/><rect x="425.56" y="431.7" width="7.28" height="2.46" fill="#faf3a6"/><rect x="432.79" y="431.7" width="7.28" height="2.46" fill="#fefef6"/><rect x="440.02" y="431.7" width="7.28" height="2.46" fill="#f4f4f9"/><rect x="447.25" y="431.7" width="7.28" height="2.46" fill="#fbf6bc"/><rect x="454.48" y="431.7" width="7.28" height="2.46" fill="#f9f198"/><rect x="461.71" y="431.7" width="7.28" height="2.46" fill="#ebebf4"/><rect x="468.94" y="431.7" width="7.28" height="2.46" fill="#f6e858"/><rect x="476.17" y="431.7" width="7.28" height="2.46" fill="#faf19c"/><rect x="338.8" y="434.11" width="7.28" height="2.46" fill="#fefce7"/><rect x="346.03" y="434.11" width="7.28" height="2.46" fill="#b8bad9"/><rect x="353.26" y="434.11" width="7.28" height="2.46" fill="#eeeff6"/><rect x="360.49" y="434.11" width="7.28" height="2.46" fill="#d8d9ea"/><rect x="367.72" y="434.11" width="7.28" height="2.46" fill="#e1e2ef"/><rect x="374.95" y="434.11" width="7.28" height="2.46" fill="#d5d6e8"/><rect x="382.18" y="434.11" width="7.28" height="2.46" fill="#f9f9fc"/><rect x="389.41" y="434.11" width="7.28" height="2.46" fill="#b0b2d5"/><rect x="396.64" y="434.11" width="7.28" height="2.46" fill="#b8bad9"/><rect x="403.87" y="434.11" width="7.28" height="2.46" fill="#c0c1dd"/><rect x="411.1" y="434.11" width="7.28" height="2.46" fill="#fcf7c9"/><rect x="418.33" y="434.11" width="7.28" height="2.46" fill="#fefce7"/><rect x="425.56" y="434.11" width="7.28" height="2.46" fill="#fcf7c8"/><rect x="432.79" y="434.11" width="7.28" height="2.46" fill="#fffffb"/><rect x="440.02" y="434.11" width="7.28" height="2.46" fill="#fdfadc"/><rect x="447.25" y="434.11" width="7.28" height="2.46" fill="#f7f8fb"/><rect x="454.48" y="434.11" width="7.28" height="2.46" fill="#fcf8d0"/><rect x="461.71" y="434.11" width="7.28" height="2.46" fill="#faf2a2"/><rect x="468.94" y="434.11" width="7.28" height="2.46" fill="#f8ee87"/><rect x="476.17" y="434.11" width="7.28" height="2.46" fill="#fbf5b7"/><rect x="338.8" y="436.52" width="7.28" height="2.46" fill="#cccde3"/><rect x="346.03" y="436.52" width="7.28" height="2.46" fill="#fefdf4"/><rect x="353.26" y="436.52" width="7.28" height="2.46" fill="#cbcce3"/><rect x="360.49" y="436.52" width="7.28" height="2.46" fill="#dedeed"/><rect x="367.72" y="436.52" width="7.28" height="2.46" fill="#fafafd"/><rect x="374.95" y="436.52" width="7.28" height="2.46" fill="#c5c7e0"/><rect x="382.18" y="436.52" width="7.28" height="2.46" fill="#f2f2f8"/><rect x="389.41" y="436.52" width="7.28" height="2.46" fill="#babcda"/><rect x="396.64" y="436.52" width="7.28" height="2.46" fill="#fafafc"/><rect x="403.87" y="436.52" width="7.28" height="2.46" fill="#eeeff6"/><rect x="411.1" y="436.52" width="7.28" height="2.46" fill="#fffef6"/><rect x="418.33" y="436.52" width="7.28" height="2.46" fill="#fbf4b1"/><rect x="425.56" y="436.52" width="7.28" height="2.46" fill="#fffffe"/><rect x="432.79" y="436.52" width="7.28" height="2.46" fill="#fdf9d5"/><rect x="440.02" y="436.52" width="7.28" height="2.46" fill="#fffefb"/><rect x="447.25" y="436.52" width="7.28" height="2.46" fill="#fffefb"/><rect x="454.48" y="436.52" width="7.28" height="2.46" fill="#fbf4b1"/><rect x="461.71" y="436.52" width="7.28" height="2.46" fill="#fdfade"/><rect x="468.94" y="436.52" width="7.28" height="2.46" fill="#faf2a1"/><rect x="476.17" y="436.52" width="7.28" height="2.46" fill="#fdf9d7"/><rect x="338.8" y="438.93" width="7.28" height="2.46" fill="#e9e9f3"/><rect x="346.03" y="438.93" width="7.28" height="2.46" fill="#dcddec"/><rect x="353.26" y="438.93" width="7.28" height="2.46" fill="#e2e3f0"/><rect x="360.49" y="438.93" width="7.28" height="2.46" fill="#6d70b1"/><rect x="367.72" y="438.93" width="7.28" height="2.46" fill="#fafafc"/><rect x="374.95" y="438.93" width="7.28" height="2.46" fill="#cdcfe4"/><rect x="382.18" y="438.93" width="7.28" height="2.46" fill="#9fa1cc"/><rect x="389.41" y="438.93" width="7.28" height="2.46" fill="#dfe0ee"/><rect x="396.64" y="438.93" width="7.28" height="2.46" fill="#eaeaf4"/><rect x="403.87" y="438.93" width="7.28" height="2.46" fill="#fffef9"/><rect x="411.1" y="438.93" width="7.28" height="2.46" fill="#fefbe4"/><rect x="418.33" y="438.93" width="7.28" height="2.46" fill="#f9ef8a"/><rect x="425.56" y="438.93" width="7.28" height="2.46" fill="#fdfbe3"/><rect x="432.79" y="438.93" width="7.28" height="2.46" fill="#faf2a4"/><rect x="440.02" y="438.93" width="7.28" height="2.46" fill="#fefce7"/><rect x="447.25" y="438.93" width="7.28" height="2.46" fill="#fdfada"/><rect x="454.48" y="438.93" width="7.28" height="2.46" fill="#fcf8d0"/><rect x="461.71" y="438.93" width="7.28" height="2.46" fill="#fffffe"/><rect x="468.94" y="438.93" width="7.28" height="2.46" fill="#f8ec7b"/><rect x="476.17" y="438.93" width="7.28" height="2.46" fill="#f9f096"/><rect x="338.8" y="441.34" width="7.28" height="2.46" fill="#fffffd"/><rect x="346.03" y="441.34" width="7.28" height="2.46" fill="#f6f6fa"/><rect x="353.26" y="441.34" width="7.28" height="2.46" fill="#cccde4"/><rect x="360.49" y="441.34" width="7.28" height="2.46" fill="#9496c5"/><rect x="367.72" y="441.34" width="7.28" height="2.46" fill="#c5c7e0"/><rect x="374.95" y="441.34" width="7.28" height="2.46" fill="#b8bad9"/><rect x="382.18" y="441.34" width="7.28" height="2.46" fill="#c0c2dd"/><rect x="389.41" y="441.34" width="7.28" height="2.46" fill="#efeff6"/><rect x="396.64" y="441.34" width="7.28" height="2.46" fill="#e7e8f2"/><rect x="403.87" y="441.34" width="7.28" height="2.46" fill="#e1e2ef"/><rect x="411.1" y="441.34" width="7.28" height="2.46" fill="#faf3aa"/><rect x="418.33" y="441.34" width="7.28" height="2.46" fill="#fdf9d5"/><rect x="425.56" y="441.34" width="7.28" height="2.46" fill="#fcf9d1"/><rect x="432.79" y="441.34" width="7.28" height="2.46" fill="#fefceb"/><rect x="440.02" y="441.34" width="7.28" height="2.46" fill="#fbf5b5"/><rect x="447.25" y="441.34" width="7.28" height="2.46" fill="#f6f6fa"/><rect x="454.48" y="441.34" width="7.28" height="2.46" fill="#fffffc"/><rect x="461.71" y="441.34" width="7.28" height="2.46" fill="#f9ef8e"/><rect x="468.94" y="441.34" width="7.28" height="2.46" fill="#faf3a7"/><rect x="476.17" y="441.34" width="7.28" height="2.46" fill="#f9ef8b"/><rect x="338.8" y="443.76" width="7.28" height="2.46" fill="#a2a4cd"/><rect x="346.03" y="443.76" width="7.28" height="2.46" fill="#d4d5e8"/><rect x="353.26" y="443.76" width="7.28" height="2.46" fill="#dfe0ee"/><rect x="360.49" y="443.76" width="7.28" height="2.46" fill="#9c9eca"/><rect x="367.72" y="443.76" width="7.28" height="2.46" fill="#cacce3"/><rect x="374.95" y="443.76" width="7.28" height="2.46" fill="#e4e5f1"/><rect x="382.18" y="443.76" width="7.28" height="2.46" fill="#f9f9fc"/><rect x="389.41" y="443.76" width="7.28" height="2.46" fill="#fefdf1"/><rect x="396.64" y="443.76" width="7.28" height="2.46" fill="#c3c5df"/><rect x="403.87" y="443.76" width="7.28" height="2.46" fill="#bec0dc"/><rect x="411.1" y="443.76" width="7.28" height="2.46" fill="#f9f199"/><rect x="418.33" y="443.76" width="7.28" height="2.46" fill="#faf2a4"/><rect x="425.56" y="443.76" width="7.28" height="2.46" fill="#fcf9d1"/><rect x="432.79" y="443.76" width="7.28" height="2.46" fill="#d6d7e9"/><rect x="440.02" y="443.76" width="7.28" height="2.46" fill="#fbf6bc"/><rect x="447.25" y="443.76" width="7.28" height="2.46" fill="#fdf9d3"/><rect x="454.48" y="443.76" width="7.28" height="2.46" fill="#faf2a4"/><rect x="461.71" y="443.76" width="7.28" height="2.46" fill="#fdfbe3"/><rect x="468.94" y="443.76" width="7.28" height="2.46" fill="#faf19e"/><rect x="476.17" y="443.76" width="7.28" height="2.46" fill="#f9f199"/><rect x="338.8" y="446.17" width="7.28" height="2.46" fill="#c1c2de"/><rect x="346.03" y="446.17" width="7.28" height="2.46" fill="#9fa1cc"/><rect x="353.26" y="446.17" width="7.28" height="2.46" fill="#e4e5f0"/><rect x="360.49" y="446.17" width="7.28" height="2.46" fill="#d5d6e9"/><rect x="367.72" y="446.17" width="7.28" height="2.46" fill="#d7d8e9"/><rect x="374.95" y="446.17" width="7.28" height="2.46" fill="#e5e6f1"/><rect x="382.18" y="446.17" width="7.28" height="2.46" fill="#c4c5df"/><rect x="389.41" y="446.17" width="7.28" height="2.46" fill="#d8d8ea"/><rect x="396.64" y="446.17" width="7.28" height="2.46" fill="#d1d2e6"/><rect x="403.87" y="446.17" width="7.28" height="2.46" fill="#f6f6fa"/><rect x="411.1" y="446.17" width="7.28" height="2.46" fill="#f7ea6c"/><rect x="418.33" y="446.17" width="7.28" height="2.46" fill="#fdfadf"/><rect x="425.56" y="446.17" width="7.28" height="2.46" fill="#f8ed81"/><rect x="432.79" y="446.17" width="7.28" height="2.46" fill="#fcf8cf"/><rect x="440.02" y="446.17" width="7.28" height="2.46" fill="#fcf6c2"/><rect x="447.25" y="446.17" width="7.28" height="2.46" fill="#fdfbe1"/><rect x="454.48" y="446.17" width="7.28" height="2.46" fill="#f7eb70"/><rect x="461.71" y="446.17" width="7.28" height="2.46" fill="#fdfadc"/><rect x="468.94" y="446.17" width="7.28" height="2.46" fill="#fbf5b7"/><rect x="476.17" y="446.17" width="7.28" height="2.46" fill="#fefdf0"/><rect x="338.8" y="448.58" width="7.28" height="2.46" fill="#e6e6f1"/><rect x="346.03" y="448.58" width="7.28" height="2.46" fill="#fffef9"/><rect x="353.26" y="448.58" width="7.28" height="2.46" fill="#efeff6"/><rect x="360.49" y="448.58" width="7.28" height="2.46" fill="#d9daea"/><rect x="367.72" y="448.58" width="7.28" height="2.46" fill="#d5d6e9"/><rect x="374.95" y="448.58" width="7.28" height="2.46" fill="#d5d6e8"/><rect x="382.18" y="448.58" width="7.28" height="2.46" fill="#aeb0d4"/><rect x="389.41" y="448.58" width="7.28" height="2.46" fill="#fcfdfe"/><rect x="396.64" y="448.58" width="7.28" height="2.46" fill="#d3d4e7"/><rect x="403.87" y="448.58" width="7.28" height="2.46" fill="#c9cae2"/><rect x="411.1" y="448.58" width="7.28" height="2.46" fill="#fcf9d1"/><rect x="418.33" y="448.58" width="7.28" height="2.46" fill="#fefdef"/><rect x="425.56" y="448.58" width="7.28" height="2.46" fill="#fbf4b2"/><rect x="432.79" y="448.58" width="7.28" height="2.46" fill="#fdfadc"/><rect x="440.02" y="448.58" width="7.28" height="2.46" fill="#f3f3f9"/><rect x="447.25" y="448.58" width="7.28" height="2.46" fill="#fcf8cb"/><rect x="454.48" y="448.58" width="7.28" height="2.46" fill="#f9f092"/><rect x="461.71" y="448.58" width="7.28" height="2.46" fill="#fefbe5"/><rect x="468.94" y="448.58" width="7.28" height="2.46" fill="#fefceb"/><rect x="476.17" y="448.58" width="7.28" height="2.46" fill="#fdfadc"/><rect x="338.8" y="450.99" width="7.28" height="2.46" fill="#c8c9e1"/><rect x="346.03" y="450.99" width="7.28" height="2.46" fill="#ededf5"/><rect x="353.26" y="450.99" width="7.28" height="2.46" fill="#d8d9ea"/><rect x="360.49" y="450.99" width="7.28" height="2.46" fill="#8e90c2"/><rect x="367.72" y="450.99" width="7.28" height="2.46" fill="#e6e7f2"/><rect x="374.95" y="450.99" width="7.28" height="2.46" fill="#a2a5cd"/><rect x="382.18" y="450.99" width="7.28" height="2.46" fill="#f9f9fc"/><rect x="389.41" y="450.99" width="7.28" height="2.46" fill="#bebfdc"/><rect x="396.64" y="450.99" width="7.28" height="2.46" fill="#cecfe5"/><rect x="403.87" y="450.99" width="7.28" height="2.46" fill="#d5d6e8"/><rect x="411.1" y="450.99" width="7.28" height="2.46" fill="#fcf7c2"/><rect x="418.33" y="450.99" width="7.28" height="2.46" fill="#f9ef8b"/><rect x="425.56" y="450.99" width="7.28" height="2.46" fill="#faf3ac"/><rect x="432.79" y="450.99" width="7.28" height="2.46" fill="#fefce9"/><rect x="440.02" y="450.99" width="7.28" height="2.46" fill="#fcf8ca"/><rect x="447.25" y="450.99" width="7.28" height="2.46" fill="#e3e3f0"/><rect x="454.48" y="450.99" width="7.28" height="2.46" fill="#fcf8cd"/><rect x="461.71" y="450.99" width="7.28" height="2.46" fill="#fdfadf"/><rect x="468.94" y="450.99" width="7.28" height="2.46" fill="#fcf8d0"/><rect x="476.17" y="450.99" width="7.28" height="2.46" fill="#faf19e"/><rect x="338.8" y="453.4" width="7.28" height="2.46" fill="#c1c2dd"/><rect x="346.03" y="453.4" width="7.28" height="2.46" fill="#cacbe2"/><rect x="353.26" y="453.4" width="7.28" height="2.46" fill="#bfc0dd"/><rect x="360.49" y="453.4" width="7.28" height="2.46" fill="#898bbf"/><rect x="367.72" y="453.4" width="7.28" height="2.46" fill="#edeef5"/><rect x="374.95" y="453.4" width="7.28" height="2.46" fill="#f7f7fb"/><rect x="382.18" y="453.4" width="7.28" height="2.46" fill="#e1e2ef"/><rect x="389.41" y="453.4" width="7.28" height="2.46" fill="#c1c3de"/><rect x="396.64" y="453.4" width="7.28" height="2.46" fill="#888bbf"/><rect x="403.87" y="453.4" width="7.28" height="2.46" fill="#f0f0f7"/><rect x="411.1" y="453.4" width="7.28" height="2.46" fill="#f7ec76"/><rect x="418.33" y="453.4" width="7.28" height="2.46" fill="#fbf6bf"/><rect x="425.56" y="453.4" width="7.28" height="2.46" fill="#fbf4ae"/><rect x="432.79" y="453.4" width="7.28" height="2.46" fill="#fcf7c9"/><rect x="440.02" y="453.4" width="7.28" height="2.46" fill="#faf3ab"/><rect x="447.25" y="453.4" width="7.28" height="2.46" fill="#fefefe"/><rect x="454.48" y="453.4" width="7.28" height="2.46" fill="#f9ef8a"/><rect x="461.71" y="453.4" width="7.28" height="2.46" fill="#faf3a9"/><rect x="468.94" y="453.4" width="7.28" height="2.46" fill="#fefced"/><rect x="476.17" y="453.4" width="7.28" height="2.46" fill="#fcf8cd"/><rect x="338.8" y="455.81" width="7.28" height="2.46" fill="#a6a8cf"/><rect x="346.03" y="455.81" width="7.28" height="2.46" fill="#d8d9ea"/><rect x="353.26" y="455.81" width="7.28" height="2.46" fill="#ecedf5"/><rect x="360.49" y="455.81" width="7.28" height="2.46" fill="#a5a7cf"/><rect x="367.72" y="455.81" width="7.28" height="2.46" fill="#9597c6"/><rect x="374.95" y="455.81" width="7.28" height="2.46" fill="#f2f2f8"/><rect x="382.18" y="455.81" width="7.28" height="2.46" fill="#e3e3f0"/><rect x="389.41" y="455.81" width="7.28" height="2.46" fill="#fffef9"/><rect x="396.64" y="455.81" width="7.28" height="2.46" fill="#b1b3d5"/><rect x="403.87" y="455.81" width="7.28" height="2.46" fill="#fffefa"/><rect x="411.1" y="455.81" width="7.28" height="2.46" fill="#f6e753"/><rect x="418.33" y="455.81" width="7.28" height="2.46" fill="#f7ec76"/><rect x="425.56" y="455.81" width="7.28" height="2.46" fill="#fefce6"/><rect x="432.79" y="455.81" width="7.28" height="2.46" fill="#ffffff"/><rect x="440.02" y="455.81" width="7.28" height="2.46" fill="#fefce9"/><rect x="447.25" y="455.81" width="7.28" height="2.46" fill="#fcf8ce"/><rect x="454.48" y="455.81" width="7.28" height="2.46" fill="#f9f092"/><rect x="461.71" y="455.81" width="7.28" height="2.46" fill="#fcf8cf"/><rect x="468.94" y="455.81" width="7.28" height="2.46" fill="#fefceb"/><rect x="476.17" y="455.81" width="7.28" height="2.46" fill="#faf2a0"/><rect x="338.8" y="458.23" width="7.28" height="2.46" fill="#c1c3de"/><rect x="346.03" y="458.23" width="7.28" height="2.46" fill="#ebebf4"/><rect x="353.26" y="458.23" width="7.28" height="2.46" fill="#e0e1ee"/><rect x="360.49" y="458.23" width="7.28" height="2.46" fill="#f5f5f9"/><rect x="367.72" y="458.23" width="7.28" height="2.46" fill="#f5f5fa"/><rect x="374.95" y="458.23" width="7.28" height="2.46" fill="#babbda"/><rect x="382.18" y="458.23" width="7.28" height="2.46" fill="#dfdfee"/><rect x="389.41" y="458.23" width="7.28" height="2.46" fill="#fefdf3"/><rect x="396.64" y="458.23" width="7.28" height="2.46" fill="#c7c8e1"/><rect x="403.87" y="458.23" width="7.28" height="2.46" fill="#f0f0f7"/><rect x="411.1" y="458.23" width="7.28" height="2.46" fill="#f8ee83"/><rect x="418.33" y="458.23" width="7.28" height="2.46" fill="#faf19f"/><rect x="425.56" y="458.23" width="7.28" height="2.46" fill="#fcf8cc"/><rect x="432.79" y="458.23" width="7.28" height="2.46" fill="#cfd0e5"/><rect x="440.02" y="458.23" width="7.28" height="2.46" fill="#efeff6"/><rect x="447.25" y="458.23" width="7.28" height="2.46" fill="#fefdf2"/><rect x="454.48" y="458.23" width="7.28" height="2.46" fill="#fbf5b5"/><rect x="461.71" y="458.23" width="7.28" height="2.46" fill="#f6e961"/><rect x="468.94" y="458.23" width="7.28" height="2.46" fill="#fdfadb"/><rect x="476.17" y="458.23" width="7.28" height="2.46" fill="#f9f092"/><rect x="338.8" y="460.64" width="7.28" height="2.46" fill="#edeef6"/><rect x="346.03" y="460.64" width="7.28" height="2.46" fill="#aaacd1"/><rect x="353.26" y="460.64" width="7.28" height="2.46" fill="#c5c6e0"/><rect x="360.49" y="460.64" width="7.28" height="2.46" fill="#d0d1e6"/><rect x="367.72" y="460.64" width="7.28" height="2.46" fill="#cbcce3"/><rect x="374.95" y="460.64" width="7.28" height="2.46" fill="#cacbe3"/><rect x="382.18" y="460.64" width="7.28" height="2.46" fill="#e9e9f3"/><rect x="389.41" y="460.64" width="7.28" height="2.46" fill="#c5c7e0"/><rect x="396.64" y="460.64" width="7.28" height="2.46" fill="#ecedf5"/><rect x="403.87" y="460.64" width="7.28" height="2.46" fill="#d7d8e9"/><rect x="411.1" y="460.64" width="7.28" height="2.46" fill="#fcf8ca"/><rect x="418.33" y="460.64" width="7.28" height="2.46" fill="#fbf5b6"/><rect x="425.56" y="460.64" width="7.28" height="2.46" fill="#fefdf1"/><rect x="432.79" y="460.64" width="7.28" height="2.46" fill="#fffefb"/><rect x="440.02" y="460.64" width="7.28" height="2.46" fill="#f9f096"/><rect x="447.25" y="460.64" width="7.28" height="2.46" fill="#fefdf2"/><rect x="454.48" y="460.64" width="7.28" height="2.46" fill="#fcf7c3"/><rect x="461.71" y="460.64" width="7.28" height="2.46" fill="#faf3ad"/><rect x="468.94" y="460.64" width="7.28" height="2.46" fill="#fbf6bc"/><rect x="476.17" y="460.64" width="7.28" height="2.46" fill="#f9ef8a"/><rect x="338.8" y="463.05" width="7.28" height="2.46" fill="#a8aad1"/><rect x="346.03" y="463.05" width="7.28" height="2.46" fill="#ececf5"/><rect x="353.26" y="463.05" width="7.28" height="2.46" fill="#cacbe2"/><rect x="360.49" y="463.05" width="7.28" height="2.46" fill="#acaed2"/><rect x="367.72" y="463.05" width="7.28" height="2.46" fill="#fefef5"/><rect x="374.95" y="463.05" width="7.28" height="2.46" fill="#aeb0d4"/><rect x="382.18" y="463.05" width="7.28" height="2.46" fill="#fefef6"/><rect x="389.41" y="463.05" width="7.28" height="2.46" fill="#ededf5"/><rect x="396.64" y="463.05" width="7.28" height="2.46" fill="#fffffc"/><rect x="403.87" y="463.05" width="7.28" height="2.46" fill="#c7c8e1"/><rect x="411.1" y="463.05" width="7.28" height="2.46" fill="#f8ed81"/><rect x="418.33" y="463.05" width="7.28" height="2.46" fill="#f9f093"/><rect x="425.56" y="463.05" width="7.28" height="2.46" fill="#fefbe5"/><rect x="432.79" y="463.05" width="7.28" height="2.46" fill="#f3f4f9"/><rect x="440.02" y="463.05" width="7.28" height="2.46" fill="#f7ec75"/><rect x="447.25" y="463.05" width="7.28" height="2.46" fill="#fefdf3"/><rect x="454.48" y="463.05" width="7.28" height="2.46" fill="#fdf9d7"/><rect x="461.71" y="463.05" width="7.28" height="2.46" fill="#fefdef"/><rect x="468.94" y="463.05" width="7.28" height="2.46" fill="#faf19e"/><rect x="476.17" y="463.05" width="7.28" height="2.46" fill="#fbf5b5"/><rect x="338.8" y="465.46" width="7.28" height="2.46" fill="#dedfed"/><rect x="346.03" y="465.46" width="7.28" height="2.46" fill="#fefce9"/><rect x="353.26" y="465.46" width="7.28" height="2.46" fill="#d6d7e9"/><rect x="360.49" y="465.46" width="7.28" height="2.46" fill="#dbdcec"/><rect x="367.72" y="465.46" width="7.28" height="2.46" fill="#fffef8"/><rect x="374.95" y="465.46" width="7.28" height="2.46" fill="#b1b2d5"/><rect x="382.18" y="465.46" width="7.28" height="2.46" fill="#fafafc"/><rect x="389.41" y="465.46" width="7.28" height="2.46" fill="#fefbe5"/><rect x="396.64" y="465.46" width="7.28" height="2.46" fill="#b6b8d8"/><rect x="403.87" y="465.46" width="7.28" height="2.46" fill="#cacbe3"/><rect x="411.1" y="465.46" width="7.28" height="2.46" fill="#fdfadc"/><rect x="418.33" y="465.46" width="7.28" height="2.46" fill="#f1f1f8"/><rect x="425.56" y="465.46" width="7.28" height="2.46" fill="#fcf6c2"/><rect x="432.79" y="465.46" width="7.28" height="2.46" fill="#c7c8e1"/><rect x="440.02" y="465.46" width="7.28" height="2.46" fill="#fcf7c6"/><rect x="447.25" y="465.46" width="7.28" height="2.46" fill="#fbf4b2"/><rect x="454.48" y="465.46" width="7.28" height="2.46" fill="#fffffd"/><rect x="461.71" y="465.46" width="7.28" height="2.46" fill="#fdfad9"/><rect x="468.94" y="465.46" width="7.28" height="2.46" fill="#fffefa"/><rect x="476.17" y="465.46" width="7.28" height="2.46" fill="#f9f096"/><rect x="338.8" y="467.87" width="7.28" height="2.46" fill="#c5c6e0"/><rect x="346.03" y="467.87" width="7.28" height="2.46" fill="#dbdcec"/><rect x="353.26" y="467.87" width="7.28" height="2.46" fill="#e5e5f1"/><rect x="360.49" y="467.87" width="7.28" height="2.46" fill="#e0e1ef"/><rect x="367.72" y="467.87" width="7.28" height="2.46" fill="#d5d6e8"/><rect x="374.95" y="467.87" width="7.28" height="2.46" fill="#d4d5e8"/><rect x="382.18" y="467.87" width="7.28" height="2.46" fill="#cfd0e5"/><rect x="389.41" y="467.87" width="7.28" height="2.46" fill="#e6e7f2"/><rect x="396.64" y="467.87" width="7.28" height="2.46" fill="#bfc0dd"/><rect x="403.87" y="467.87" width="7.28" height="2.46" fill="#f0f0f7"/><rect x="411.1" y="467.87" width="7.28" height="2.46" fill="#fffffc"/><rect x="418.33" y="467.87" width="7.28" height="2.46" fill="#fdfadc"/><rect x="425.56" y="467.87" width="7.28" height="2.46" fill="#f8ec7a"/><rect x="432.79" y="467.87" width="7.28" height="2.46" fill="#fffffd"/><rect x="440.02" y="467.87" width="7.28" height="2.46" fill="#f9f9fc"/><rect x="447.25" y="467.87" width="7.28" height="2.46" fill="#fdfbe2"/><rect x="454.48" y="467.87" width="7.28" height="2.46" fill="#fdfbe0"/><rect x="461.71" y="467.87" width="7.28" height="2.46" fill="#f9f9fc"/><rect x="468.94" y="467.87" width="7.28" height="2.46" fill="#fcf7c5"/><rect x="476.17" y="467.87" width="7.28" height="2.46" fill="#f9f093"/><rect x="338.8" y="470.29" width="7.28" height="2.46" fill="#e5e6f1"/><rect x="346.03" y="470.29" width="7.28" height="2.46" fill="#dfdfee"/><rect x="353.26" y="470.29" width="7.28" height="2.46" fill="#c5c6e0"/><rect x="360.49" y="470.29" width="7.28" height="2.46" fill="#abadd2"/><rect x="367.72" y="470.29" width="7.28" height="2.46" fill="#fffefb"/><rect x="374.95" y="470.29" width="7.28" height="2.46" fill="#d9daeb"/><rect x="382.18" y="470.29" width="7.28" height="2.46" fill="#c0c1dd"/><rect x="389.41" y="470.29" width="7.28" height="2.46" fill="#9ea1cb"/><rect x="396.64" y="470.29" width="7.28" height="2.46" fill="#b7b8d8"/><rect x="403.87" y="470.29" width="7.28" height="2.46" fill="#fbf5b6"/><rect x="411.1" y="470.29" width="7.28" height="2.46" fill="#fdfbdf"/><rect x="418.33" y="470.29" width="7.28" height="2.46" fill="#fcf8cd"/><rect x="425.56" y="470.29" width="7.28" height="2.46" fill="#fcf8cb"/><rect x="432.79" y="470.29" width="7.28" height="2.46" fill="#fafafc"/><rect x="440.02" y="470.29" width="7.28" height="2.46" fill="#fefbe6"/><rect x="447.25" y="470.29" width="7.28" height="2.46" fill="#e6e7f2"/><rect x="454.48" y="470.29" width="7.28" height="2.46" fill="#fefbe6"/><rect x="461.71" y="470.29" width="7.28" height="2.46" fill="#f8ec7b"/><rect x="468.94" y="470.29" width="7.28" height="2.46" fill="#fcf7c9"/><rect x="476.17" y="470.29" width="7.28" height="2.46" fill="#f9f091"/><rect x="338.8" y="472.7" width="7.28" height="2.46" fill="#a6a8cf"/><rect x="346.03" y="472.7" width="7.28" height="2.46" fill="#dbdcec"/><rect x="353.26" y="472.7" width="7.28" height="2.46" fill="#ebecf4"/><rect x="360.49" y="472.7" width="7.28" height="2.46" fill="#efeff6"/><rect x="367.72" y="472.7" width="7.28" height="2.46" fill="#bdbedb"/><rect x="374.95" y="472.7" width="7.28" height="2.46" fill="#e6e7f2"/><rect x="382.18" y="472.7" width="7.28" height="2.46" fill="#ebebf4"/><rect x="389.41" y="472.7" width="7.28" height="2.46" fill="#cdcee4"/><rect x="396.64" y="472.7" width="7.28" height="2.46" fill="#f1f2f8"/><rect x="403.87" y="472.7" width="7.28" height="2.46" fill="#d4d5e8"/><rect x="411.1" y="472.7" width="7.28" height="2.46" fill="#fcf8cd"/><rect x="418.33" y="472.7" width="7.28" height="2.46" fill="#fcf7c7"/><rect x="425.56" y="472.7" width="7.28" height="2.46" fill="#d3d4e7"/><rect x="432.79" y="472.7" width="7.28" height="2.46" fill="#fdfdfe"/><rect x="440.02" y="472.7" width="7.28" height="2.46" fill="#fffffe"/><rect x="447.25" y="472.7" width="7.28" height="2.46" fill="#e6e6f1"/><rect x="454.48" y="472.7" width="7.28" height="2.46" fill="#fcf7c8"/><rect x="461.71" y="472.7" width="7.28" height="2.46" fill="#faf2a4"/><rect x="468.94" y="472.7" width="7.28" height="2.46" fill="#fbf5b6"/><rect x="476.17" y="472.7" width="7.28" height="2.46" fill="#f8ec7a"/><rect x="338.8" y="475.11" width="7.28" height="2.46" fill="#b5b7d7"/><rect x="346.03" y="475.11" width="7.28" height="2.46" fill="#b8bad9"/><rect x="353.26" y="475.11" width="7.28" height="2.46" fill="#fefdef"/><rect x="360.49" y="475.11" width="7.28" height="2.46" fill="#dadbeb"/><rect x="367.72" y="475.11" width="7.28" height="2.46" fill="#f8f8fb"/><rect x="374.95" y="475.11" width="7.28" height="2.46" fill="#b7b9d9"/><rect x="382.18" y="475.11" width="7.28" height="2.46" fill="#f5f5f9"/><rect x="389.41" y="475.11" width="7.28" height="2.46" fill="#e9e9f3"/><rect x="396.64" y="475.11" width="7.28" height="2.46" fill="#f4f4f9"/><rect x="403.87" y="475.11" width="7.28" height="2.46" fill="#edeef5"/><rect x="411.1" y="475.11" width="7.28" height="2.46" fill="#f7eb74"/><rect x="418.33" y="475.11" width="7.28" height="2.46" fill="#fefbe5"/><rect x="425.56" y="475.11" width="7.28" height="2.46" fill="#fffffc"/><rect x="432.79" y="475.11" width="7.28" height="2.46" fill="#d3d4e8"/><rect x="440.02" y="475.11" width="7.28" height="2.46" fill="#faf3a6"/><rect x="447.25" y="475.11" width="7.28" height="2.46" fill="#f8f8fb"/><rect x="454.48" y="475.11" width="7.28" height="2.46" fill="#fefbe6"/><rect x="461.71" y="475.11" width="7.28" height="2.46" fill="#fefdf1"/><rect x="468.94" y="475.11" width="7.28" height="2.46" fill="#fbf5bb"/><rect x="476.17" y="475.11" width="7.28" height="2.46" fill="#fefdef"/><rect x="338.8" y="477.52" width="7.28" height="2.46" fill="#d3d4e7"/><rect x="346.03" y="477.52" width="7.28" height="2.46" fill="#d0d1e6"/><rect x="353.26" y="477.52" width="7.28" height="2.46" fill="#d2d3e7"/><rect x="360.49" y="477.52" width="7.28" height="2.46" fill="#b1b3d5"/><rect x="367.72" y="477.52" width="7.28" height="2.46" fill="#e0e1ef"/><rect x="374.95" y="477.52" width="7.28" height="2.46" fill="#c5c6e0"/><rect x="382.18" y="477.52" width="7.28" height="2.46" fill="#e3e3f0"/><rect x="389.41" y="477.52" width="7.28" height="2.46" fill="#eaebf4"/><rect x="396.64" y="477.52" width="7.28" height="2.46" fill="#ededf5"/><rect x="403.87" y="477.52" width="7.28" height="2.46" fill="#aaacd2"/><rect x="411.1" y="477.52" width="7.28" height="2.46" fill="#fcf6c2"/><rect x="418.33" y="477.52" width="7.28" height="2.46" fill="#fefce9"/><rect x="425.56" y="477.52" width="7.28" height="2.46" fill="#fbf4af"/><rect x="432.79" y="477.52" width="7.28" height="2.46" fill="#d2d3e7"/><rect x="440.02" y="477.52" width="7.28" height="2.46" fill="#fefef5"/><rect x="447.25" y="477.52" width="7.28" height="2.46" fill="#fffef8"/><rect x="454.48" y="477.52" width="7.28" height="2.46" fill="#fcf7c5"/><rect x="461.71" y="477.52" width="7.28" height="2.46" fill="#f9f19a"/><rect x="468.94" y="477.52" width="7.28" height="2.46" fill="#fbf5b8"/><rect x="476.17" y="477.52" width="7.28" height="2.46" fill="#f8ee89"/><rect x="338.8" y="479.93" width="7.28" height="2.46" fill="#abadd2"/><rect x="346.03" y="479.93" width="7.28" height="2.46" fill="#a8aad0"/><rect x="353.26" y="479.93" width="7.28" height="2.46" fill="#fffefb"/><rect x="360.49" y="479.93" width="7.28" height="2.46" fill="#dbdcec"/><rect x="367.72" y="479.93" width="7.28" height="2.46" fill="#ececf5"/><rect x="374.95" y="479.93" width="7.28" height="2.46" fill="#d5d6e9"/><rect x="382.18" y="479.93" width="7.28" height="2.46" fill="#ececf5"/><rect x="389.41" y="479.93" width="7.28" height="2.46" fill="#bbbddb"/><rect x="396.64" y="479.93" width="7.28" height="2.46" fill="#fcfcfd"/><rect x="403.87" y="479.93" width="7.28" height="2.46" fill="#dddded"/><rect x="411.1" y="479.93" width="7.28" height="2.46" fill="#f8ed7f"/><rect x="418.33" y="479.93" width="7.28" height="2.46" fill="#fcf7c6"/><rect x="425.56" y="479.93" width="7.28" height="2.46" fill="#e7e7f2"/><rect x="432.79" y="479.93" width="7.28" height="2.46" fill="#d9daeb"/><rect x="440.02" y="479.93" width="7.28" height="2.46" fill="#faf3a8"/><rect x="447.25" y="479.93" width="7.28" height="2.46" fill="#fefef5"/><rect x="454.48" y="479.93" width="7.28" height="2.46" fill="#fcf8ca"/><rect x="461.71" y="479.93" width="7.28" height="2.46" fill="#fbf6bf"/><rect x="468.94" y="479.93" width="7.28" height="2.46" fill="#fbf5bb"/><rect x="476.17" y="479.93" width="7.28" height="2.46" fill="#fcf9d1"/><rect x="338.8" y="482.34" width="7.28" height="2.46" fill="#d5d6e8"/><rect x="346.03" y="482.34" width="7.28" height="2.46" fill="#dedfed"/><rect x="353.26" y="482.34" width="7.28" height="2.46" fill="#fffefa"/><rect x="360.49" y="482.34" width="7.28" height="2.46" fill="#c7c8e1"/><rect x="367.72" y="482.34" width="7.28" height="2.46" fill="#fefdf1"/><rect x="374.95" y="482.34" width="7.28" height="2.46" fill="#fefefe"/><rect x="382.18" y="482.34" width="7.28" height="2.46" fill="#fffef7"/><rect x="389.41" y="482.34" width="7.28" height="2.46" fill="#f8f8fb"/><rect x="396.64" y="482.34" width="7.28" height="2.46" fill="#dedeed"/><rect x="403.87" y="482.34" width="7.28" height="2.46" fill="#e9eaf3"/><rect x="411.1" y="482.34" width="7.28" height="2.46" fill="#fbf6bf"/><rect x="418.33" y="482.34" width="7.28" height="2.46" fill="#fefdf3"/><rect x="425.56" y="482.34" width="7.28" height="2.46" fill="#fdfbe2"/><rect x="432.79" y="482.34" width="7.28" height="2.46" fill="#e5e6f1"/><rect x="440.02" y="482.34" width="7.28" height="2.46" fill="#faf19c"/><rect x="447.25" y="482.34" width="7.28" height="2.46" fill="#fefbe4"/><rect x="454.48" y="482.34" width="7.28" height="2.46" fill="#fdf9d7"/><rect x="461.71" y="482.34" width="7.28" height="2.46" fill="#e9e9f3"/><rect x="468.94" y="482.34" width="7.28" height="2.46" fill="#fbf5b5"/><rect x="476.17" y="482.34" width="7.28" height="2.46" fill="#fdf9d6"/><rect x="338.8" y="484.76" width="7.28" height="2.46" fill="#b2b3d6"/><rect x="346.03" y="484.76" width="7.28" height="2.46" fill="#b8bad9"/><rect x="353.26" y="484.76" width="7.28" height="2.46" fill="#9496c5"/><rect x="360.49" y="484.76" width="7.28" height="2.46" fill="#dadbeb"/><rect x="367.72" y="484.76" width="7.28" height="2.46" fill="#d6d7e9"/><rect x="374.95" y="484.76" width="7.28" height="2.46" fill="#fdfbe1"/><rect x="382.18" y="484.76" width="7.28" height="2.46" fill="#d7d8ea"/><rect x="389.41" y="484.76" width="7.28" height="2.46" fill="#d7d8ea"/><rect x="396.64" y="484.76" width="7.28" height="2.46" fill="#fffef9"/><rect x="403.87" y="484.76" width="7.28" height="2.46" fill="#ebecf4"/><rect x="411.1" y="484.76" width="7.28" height="2.46" fill="#faf4ad"/><rect x="418.33" y="484.76" width="7.28" height="2.46" fill="#fdfbe1"/><rect x="425.56" y="484.76" width="7.28" height="2.46" fill="#fefef5"/><rect x="432.79" y="484.76" width="7.28" height="2.46" fill="#fcf8cd"/><rect x="440.02" y="484.76" width="7.28" height="2.46" fill="#fbf5b6"/><rect x="447.25" y="484.76" width="7.28" height="2.46" fill="#faf3ac"/><rect x="454.48" y="484.76" width="7.28" height="2.46" fill="#fcf8d0"/><rect x="461.71" y="484.76" width="7.28" height="2.46" fill="#fcf8d0"/><rect x="468.94" y="484.76" width="7.28" height="2.46" fill="#fdf9d6"/><rect x="476.17" y="484.76" width="7.28" height="2.46" fill="#f9f094"/><rect x="338.8" y="487.17" width="7.28" height="2.46" fill="#a9abd1"/><rect x="346.03" y="487.17" width="7.28" height="2.46" fill="#eeeef6"/><rect x="353.26" y="487.17" width="7.28" height="2.46" fill="#fcfcfd"/><rect x="360.49" y="487.17" width="7.28" height="2.46" fill="#f3f4f9"/><rect x="367.72" y="487.17" width="7.28" height="2.46" fill="#bcbddb"/><rect x="374.95" y="487.17" width="7.28" height="2.46" fill="#eeeef6"/><rect x="382.18" y="487.17" width="7.28" height="2.46" fill="#c3c4df"/><rect x="389.41" y="487.17" width="7.28" height="2.46" fill="#c6c7e0"/><rect x="396.64" y="487.17" width="7.28" height="2.46" fill="#b3b5d6"/><rect x="403.87" y="487.17" width="7.28" height="2.46" fill="#fefef5"/><rect x="411.1" y="487.17" width="7.28" height="2.46" fill="#f6e965"/><rect x="418.33" y="487.17" width="7.28" height="2.46" fill="#fefce9"/><rect x="425.56" y="487.17" width="7.28" height="2.46" fill="#fffef9"/><rect x="432.79" y="487.17" width="7.28" height="2.46" fill="#f1f1f7"/><rect x="440.02" y="487.17" width="7.28" height="2.46" fill="#f7eb6d"/><rect x="447.25" y="487.17" width="7.28" height="2.46" fill="#fcf8cb"/><rect x="454.48" y="487.17" width="7.28" height="2.46" fill="#fdf9d7"/><rect x="461.71" y="487.17" width="7.28" height="2.46" fill="#eff0f7"/><rect x="468.94" y="487.17" width="7.28" height="2.46" fill="#fcf8cc"/><rect x="476.17" y="487.17" width="7.28" height="2.46" fill="#f8ee88"/><rect x="338.8" y="489.58" width="7.28" height="2.46" fill="#fefdee"/><rect x="346.03" y="489.58" width="7.28" height="2.46" fill="#d8d9ea"/><rect x="353.26" y="489.58" width="7.28" height="2.46" fill="#cbcce3"/><rect x="360.49" y="489.58" width="7.28" height="2.46" fill="#bdbedb"/><rect x="367.72" y="489.58" width="7.28" height="2.46" fill="#a0a3cc"/><rect x="374.95" y="489.58" width="7.28" height="2.46" fill="#ececf5"/><rect x="382.18" y="489.58" width="7.28" height="2.46" fill="#babcda"/><rect x="389.41" y="489.58" width="7.28" height="2.46" fill="#fefefe"/><rect x="396.64" y="489.58" width="7.28" height="2.46" fill="#aaacd2"/><rect x="403.87" y="489.58" width="7.28" height="2.46" fill="#c5c6e0"/><rect x="411.1" y="489.58" width="7.28" height="2.46" fill="#faf2a1"/><rect x="418.33" y="489.58" width="7.28" height="2.46" fill="#fefceb"/><rect x="425.56" y="489.58" width="7.28" height="2.46" fill="#fbf4b3"/><rect x="432.79" y="489.58" width="7.28" height="2.46" fill="#fdfdfe"/><rect x="440.02" y="489.58" width="7.28" height="2.46" fill="#f9f9fc"/><rect x="447.25" y="489.58" width="7.28" height="2.46" fill="#fdf9d7"/><rect x="454.48" y="489.58" width="7.28" height="2.46" fill="#f9f093"/><rect x="461.71" y="489.58" width="7.28" height="2.46" fill="#eff0f7"/><rect x="468.94" y="489.58" width="7.28" height="2.46" fill="#f5e751"/><rect x="476.17" y="489.58" width="7.28" height="2.46" fill="#faf2a3"/><rect x="338.8" y="491.99" width="7.28" height="2.46" fill="#f3f3f8"/><rect x="346.03" y="491.99" width="7.28" height="2.46" fill="#aaacd1"/><rect x="353.26" y="491.99" width="7.28" height="2.46" fill="#cecfe5"/><rect x="360.49" y="491.99" width="7.28" height="2.46" fill="#c6c7e0"/><rect x="367.72" y="491.99" width="7.28" height="2.46" fill="#fefefe"/><rect x="374.95" y="491.99" width="7.28" height="2.46" fill="#a6a8cf"/><rect x="382.18" y="491.99" width="7.28" height="2.46" fill="#c5c6e0"/><rect x="389.41" y="491.99" width="7.28" height="2.46" fill="#a4a6ce"/><rect x="396.64" y="491.99" width="7.28" height="2.46" fill="#dddeed"/><rect x="403.87" y="491.99" width="7.28" height="2.46" fill="#f9f9fc"/><rect x="411.1" y="491.99" width="7.28" height="2.46" fill="#fefdf1"/><rect x="418.33" y="491.99" width="7.28" height="2.46" fill="#fdfadf"/><rect x="425.56" y="491.99" width="7.28" height="2.46" fill="#fbf5ba"/><rect x="432.79" y="491.99" width="7.28" height="2.46" fill="#fbf6bd"/><rect x="440.02" y="491.99" width="7.28" height="2.46" fill="#fbf5b9"/><rect x="447.25" y="491.99" width="7.28" height="2.46" fill="#fffef7"/><rect x="454.48" y="491.99" width="7.28" height="2.46" fill="#fefce7"/><rect x="461.71" y="491.99" width="7.28" height="2.46" fill="#fefced"/><rect x="468.94" y="491.99" width="7.28" height="2.46" fill="#fcf6c1"/><rect x="476.17" y="491.99" width="7.28" height="2.46" fill="#faf4ad"/><rect x="338.8" y="494.4" width="7.28" height="2.46" fill="#d4d5e8"/><rect x="346.03" y="494.4" width="7.28" height="2.46" fill="#fefdf0"/><rect x="353.26" y="494.4" width="7.28" height="2.46" fill="#e6e6f1"/><rect x="360.49" y="494.4" width="7.28" height="2.46" fill="#a7a9d0"/><rect x="367.72" y="494.4" width="7.28" height="2.46" fill="#fffef9"/><rect x="374.95" y="494.4" width="7.28" height="2.46" fill="#eaeaf4"/><rect x="382.18" y="494.4" width="7.28" height="2.46" fill="#dcddec"/><rect x="389.41" y="494.4" width="7.28" height="2.46" fill="#c7c8e1"/><rect x="396.64" y="494.4" width="7.28" height="2.46" fill="#a1a4cd"/><rect x="403.87" y="494.4" width="7.28" height="2.46" fill="#c9cae2"/><rect x="411.1" y="494.4" width="7.28" height="2.46" fill="#f8ee89"/><rect x="418.33" y="494.4" width="7.28" height="2.46" fill="#fefdf1"/><rect x="425.56" y="494.4" width="7.28" height="2.46" fill="#f6f6fa"/><rect x="432.79" y="494.4" width="7.28" height="2.46" fill="#ffffff"/><rect x="440.02" y="494.4" width="7.28" height="2.46" fill="#fdf9d6"/><rect x="447.25" y="494.4" width="7.28" height="2.46" fill="#fdfadc"/><rect x="454.48" y="494.4" width="7.28" height="2.46" fill="#faf2a1"/><rect x="461.71" y="494.4" width="7.28" height="2.46" fill="#f9ef8f"/><rect x="468.94" y="494.4" width="7.28" height="2.46" fill="#fdf9d3"/><rect x="476.17" y="494.4" width="7.28" height="2.46" fill="#f9f092"/><rect x="338.8" y="496.82" width="7.28" height="2.46" fill="#b5b6d7"/><rect x="346.03" y="496.82" width="7.28" height="2.46" fill="#f0f0f7"/><rect x="353.26" y="496.82" width="7.28" height="2.46" fill="#e1e2ef"/><rect x="360.49" y="496.82" width="7.28" height="2.46" fill="#cfd1e5"/><rect x="367.72" y="496.82" width="7.28" height="2.46" fill="#f4f4f9"/><rect x="374.95" y="496.82" width="7.28" height="2.46" fill="#cbcce3"/><rect x="382.18" y="496.82" width="7.28" height="2.46" fill="#f8f8fb"/><rect x="389.41" y="496.82" width="7.28" height="2.46" fill="#f5f5fa"/><rect x="396.64" y="496.82" width="7.28" height="2.46" fill="#e0e0ee"/><rect x="403.87" y="496.82" width="7.28" height="2.46" fill="#d6d7e9"/><rect x="411.1" y="496.82" width="7.28" height="2.46" fill="#fdf9d7"/><rect x="418.33" y="496.82" width="7.28" height="2.46" fill="#fefce8"/><rect x="425.56" y="496.82" width="7.28" height="2.46" fill="#fefbe5"/><rect x="432.79" y="496.82" width="7.28" height="2.46" fill="#f8f8fb"/><rect x="440.02" y="496.82" width="7.28" height="2.46" fill="#f6e858"/><rect x="447.25" y="496.82" width="7.28" height="2.46" fill="#fdfadd"/><rect x="454.48" y="496.82" width="7.28" height="2.46" fill="#faf19e"/><rect x="461.71" y="496.82" width="7.28" height="2.46" fill="#fefef5"/><rect x="468.94" y="496.82" width="7.28" height="2.46" fill="#fcf8cf"/><rect x="476.17" y="496.82" width="7.28" height="2.46" fill="#fcf8cf"/><rect x="338.8" y="499.23" width="7.28" height="2.46" fill="#e0e1ef"/><rect x="346.03" y="499.23" width="7.28" height="2.46" fill="#c2c4de"/><rect x="353.26" y="499.23" width="7.28" height="2.46" fill="#fefceb"/><rect x="360.49" y="499.23" width="7.28" height="2.46" fill="#bdbedc"/><rect x="367.72" y="499.23" width="7.28" height="2.46" fill="#fdfdfe"/><rect x="374.95" y="499.23" width="7.28" height="2.46" fill="#8789be"/><rect x="382.18" y="499.23" width="7.28" height="2.46" fill="#dedfed"/><rect x="389.41" y="499.23" width="7.28" height="2.46" fill="#eaebf4"/><rect x="396.64" y="499.23" width="7.28" height="2.46" fill="#e8e8f3"/><rect x="403.87" y="499.23" width="7.28" height="2.46" fill="#fdfdfe"/><rect x="411.1" y="499.23" width="7.28" height="2.46" fill="#faf19e"/><rect x="418.33" y="499.23" width="7.28" height="2.46" fill="#fcf6c1"/><rect x="425.56" y="499.23" width="7.28" height="2.46" fill="#eaebf4"/><rect x="432.79" y="499.23" width="7.28" height="2.46" fill="#ebecf4"/><rect x="440.02" y="499.23" width="7.28" height="2.46" fill="#d9daeb"/><rect x="447.25" y="499.23" width="7.28" height="2.46" fill="#fdf9d4"/><rect x="454.48" y="499.23" width="7.28" height="2.46" fill="#faf3a9"/><rect x="461.71" y="499.23" width="7.28" height="2.46" fill="#fcf9d1"/><rect x="468.94" y="499.23" width="7.28" height="2.46" fill="#fcf8cb"/><rect x="476.17" y="499.23" width="7.28" height="2.46" fill="#fcf9d1"/><rect x="338.8" y="501.64" width="7.28" height="2.46" fill="#fefef4"/><rect x="346.03" y="501.64" width="7.28" height="2.46" fill="#fefdef"/><rect x="353.26" y="501.64" width="7.28" height="2.46" fill="#dadbeb"/><rect x="360.49" y="501.64" width="7.28" height="2.46" fill="#efeff6"/><rect x="367.72" y="501.64" width="7.28" height="2.46" fill="#a5a7cf"/><rect x="374.95" y="501.64" width="7.28" height="2.46" fill="#8d8fc2"/><rect x="382.18" y="501.64" width="7.28" height="2.46" fill="#c9cae2"/><rect x="389.41" y="501.64" width="7.28" height="2.46" fill="#c0c2dd"/><rect x="396.64" y="501.64" width="7.28" height="2.46" fill="#cacce3"/><rect x="403.87" y="501.64" width="7.28" height="2.46" fill="#ededf5"/><rect x="411.1" y="501.64" width="7.28" height="2.46" fill="#f3e023"/><rect x="418.33" y="501.64" width="7.28" height="2.46" fill="#fefded"/><rect x="425.56" y="501.64" width="7.28" height="2.46" fill="#fdfadb"/><rect x="432.79" y="501.64" width="7.28" height="2.46" fill="#ffffff"/><rect x="440.02" y="501.64" width="7.28" height="2.46" fill="#fdfbe4"/><rect x="447.25" y="501.64" width="7.28" height="2.46" fill="#fcf8d0"/><rect x="454.48" y="501.64" width="7.28" height="2.46" fill="#f7eb6e"/><rect x="461.71" y="501.64" width="7.28" height="2.46" fill="#fdfdfe"/><rect x="468.94" y="501.64" width="7.28" height="2.46" fill="#faf3a8"/><rect x="476.17" y="501.64" width="7.28" height="2.46" fill="#fcf8cd"/><rect x="338.8" y="504.05" width="7.28" height="2.46" fill="#e8e8f2"/><rect x="346.03" y="504.05" width="7.28" height="2.46" fill="#b5b7d7"/><rect x="353.26" y="504.05" width="7.28" height="2.46" fill="#aeafd3"/><rect x="360.49" y="504.05" width="7.28" height="2.46" fill="#8689be"/><rect x="367.72" y="504.05" width="7.28" height="2.46" fill="#f0f0f7"/><rect x="374.95" y="504.05" width="7.28" height="2.46" fill="#dbdcec"/><rect x="382.18" y="504.05" width="7.28" height="2.46" fill="#e3e4f0"/><rect x="389.41" y="504.05" width="7.28" height="2.46" fill="#9a9cc9"/><rect x="396.64" y="504.05" width="7.28" height="2.46" fill="#d9daeb"/><rect x="403.87" y="504.05" width="7.28" height="2.46" fill="#dadaeb"/><rect x="411.1" y="504.05" width="7.28" height="2.46" fill="#fefbe6"/><rect x="418.33" y="504.05" width="7.28" height="2.46" fill="#fefcec"/><rect x="425.56" y="504.05" width="7.28" height="2.46" fill="#fbf4b0"/><rect x="432.79" y="504.05" width="7.28" height="2.46" fill="#fefce9"/><rect x="440.02" y="504.05" width="7.28" height="2.46" fill="#fdf9d6"/><rect x="447.25" y="504.05" width="7.28" height="2.46" fill="#fdf9d5"/><rect x="454.48" y="504.05" width="7.28" height="2.46" fill="#fcf8ce"/><rect x="461.71" y="504.05" width="7.28" height="2.46" fill="#fcf6c1"/><rect x="468.94" y="504.05" width="7.28" height="2.46" fill="#faf2a0"/><rect x="476.17" y="504.05" width="7.28" height="2.46" fill="#f9f199"/><rect x="338.8" y="506.46" width="7.28" height="2.46" fill="#cfd0e5"/><rect x="346.03" y="506.46" width="7.28" height="2.46" fill="#d4d5e8"/><rect x="353.26" y="506.46" width="7.28" height="2.46" fill="#d5d5e8"/><rect x="360.49" y="506.46" width="7.28" height="2.46" fill="#b0b2d5"/><rect x="367.72" y="506.46" width="7.28" height="2.46" fill="#fdfbe4"/><rect x="374.95" y="506.46" width="7.28" height="2.46" fill="#d9daea"/><rect x="382.18" y="506.46" width="7.28" height="2.46" fill="#e2e2ef"/><rect x="389.41" y="506.46" width="7.28" height="2.46" fill="#fdfadc"/><rect x="396.64" y="506.46" width="7.28" height="2.46" fill="#fffffe"/><rect x="403.87" y="506.46" width="7.28" height="2.46" fill="#b4b5d7"/><rect x="411.1" y="506.46" width="7.28" height="2.46" fill="#f9f19a"/><rect x="418.33" y="506.46" width="7.28" height="2.46" fill="#fbf4b1"/><rect x="425.56" y="506.46" width="7.28" height="2.46" fill="#f9ef8c"/><rect x="432.79" y="506.46" width="7.28" height="2.46" fill="#fdfada"/><rect x="440.02" y="506.46" width="7.28" height="2.46" fill="#fcf7c5"/><rect x="447.25" y="506.46" width="7.28" height="2.46" fill="#e3e4f0"/><rect x="454.48" y="506.46" width="7.28" height="2.46" fill="#fefcea"/><rect x="461.71" y="506.46" width="7.28" height="2.46" fill="#fcf8ca"/><rect x="468.94" y="506.46" width="7.28" height="2.46" fill="#faf19d"/><rect x="476.17" y="506.46" width="7.28" height="2.46" fill="#fefdf0"/><rect x="338.8" y="508.87" width="7.28" height="2.46" fill="#c3c5df"/><rect x="346.03" y="508.87" width="7.28" height="2.46" fill="#cbcce3"/><rect x="353.26" y="508.87" width="7.28" height="2.46" fill="#d9daeb"/><rect x="360.49" y="508.87" width="7.28" height="2.46" fill="#cecfe5"/><rect x="367.72" y="508.87" width="7.28" height="2.46" fill="#cbcce3"/><rect x="374.95" y="508.87" width="7.28" height="2.46" fill="#9fa2cc"/><rect x="382.18" y="508.87" width="7.28" height="2.46" fill="#f8f8fb"/><rect x="389.41" y="508.87" width="7.28" height="2.46" fill="#fffef9"/><rect x="396.64" y="508.87" width="7.28" height="2.46" fill="#d4d5e8"/><rect x="403.87" y="508.87" width="7.28" height="2.46" fill="#ffffff"/><rect x="411.1" y="508.87" width="7.28" height="2.46" fill="#faf3a7"/><rect x="418.33" y="508.87" width="7.28" height="2.46" fill="#fbf5bb"/><rect x="425.56" y="508.87" width="7.28" height="2.46" fill="#fcf8ce"/><rect x="432.79" y="508.87" width="7.28" height="2.46" fill="#dfe0ee"/><rect x="440.02" y="508.87" width="7.28" height="2.46" fill="#fcf8d0"/><rect x="447.25" y="508.87" width="7.28" height="2.46" fill="#fdf9d3"/><rect x="454.48" y="508.87" width="7.28" height="2.46" fill="#fefded"/><rect x="461.71" y="508.87" width="7.28" height="2.46" fill="#f8ed7e"/><rect x="468.94" y="508.87" width="7.28" height="2.46" fill="#f5e753"/><rect x="476.17" y="508.87" width="7.28" height="2.46" fill="#f7eb72"/><rect x="338.8" y="511.29" width="7.28" height="2.46" fill="#fefdf0"/><rect x="346.03" y="511.29" width="7.28" height="2.46" fill="#f1f1f7"/><rect x="353.26" y="511.29" width="7.28" height="2.46" fill="#d0d1e6"/><rect x="360.49" y="511.29" width="7.28" height="2.46" fill="#b4b6d7"/><rect x="367.72" y="511.29" width="7.28" height="2.46" fill="#bdbfdc"/><rect x="374.95" y="511.29" width="7.28" height="2.46" fill="#cfd0e5"/><rect x="382.18" y="511.29" width="7.28" height="2.46" fill="#d6d7e9"/><rect x="389.41" y="511.29" width="7.28" height="2.46" fill="#efeff6"/><rect x="396.64" y="511.29" width="7.28" height="2.46" fill="#9a9cc9"/><rect x="403.87" y="511.29" width="7.28" height="2.46" fill="#fcf7c7"/><rect x="411.1" y="511.29" width="7.28" height="2.46" fill="#f5e64a"/><rect x="418.33" y="511.29" width="7.28" height="2.46" fill="#fdf9d4"/><rect x="425.56" y="511.29" width="7.28" height="2.46" fill="#fcf6c0"/><rect x="432.79" y="511.29" width="7.28" height="2.46" fill="#fffef9"/><rect x="440.02" y="511.29" width="7.28" height="2.46" fill="#fdf9d8"/><rect x="447.25" y="511.29" width="7.28" height="2.46" fill="#ffffff"/><rect x="454.48" y="511.29" width="7.28" height="2.46" fill="#fcf7c8"/><rect x="461.71" y="511.29" width="7.28" height="2.46" fill="#fefef5"/><rect x="468.94" y="511.29" width="7.28" height="2.46" fill="#faf3a8"/><rect x="476.17" y="511.29" width="7.28" height="2.46" fill="#fcf7c3"/><rect x="338.8" y="513.7" width="7.28" height="2.46" fill="#e0e1ee"/><rect x="346.03" y="513.7" width="7.28" height="2.46" fill="#c4c5df"/><rect x="353.26" y="513.7" width="7.28" height="2.46" fill="#dfe0ee"/><rect x="360.49" y="513.7" width="7.28" height="2.46" fill="#cccde4"/><rect x="367.72" y="513.7" width="7.28" height="2.46" fill="#ececf5"/><rect x="374.95" y="513.7" width="7.28" height="2.46" fill="#acaed3"/><rect x="382.18" y="513.7" width="7.28" height="2.46" fill="#e7e7f2"/><rect x="389.41" y="513.7" width="7.28" height="2.46" fill="#fafafc"/><rect x="396.64" y="513.7" width="7.28" height="2.46" fill="#eff0f7"/><rect x="403.87" y="513.7" width="7.28" height="2.46" fill="#dedfee"/><rect x="411.1" y="513.7" width="7.28" height="2.46" fill="#fcf7c8"/><rect x="418.33" y="513.7" width="7.28" height="2.46" fill="#fdfad9"/><rect x="425.56" y="513.7" width="7.28" height="2.46" fill="#fbf5b9"/><rect x="432.79" y="513.7" width="7.28" height="2.46" fill="#fcf7c8"/><rect x="440.02" y="513.7" width="7.28" height="2.46" fill="#fefbe5"/><rect x="447.25" y="513.7" width="7.28" height="2.46" fill="#f7f8fb"/><rect x="454.48" y="513.7" width="7.28" height="2.46" fill="#faf3ac"/><rect x="461.71" y="513.7" width="7.28" height="2.46" fill="#fcf7c5"/><rect x="468.94" y="513.7" width="7.28" height="2.46" fill="#fdf9d4"/><rect x="476.17" y="513.7" width="7.28" height="2.46" fill="#fdfade"/><rect x="338.8" y="516.11" width="7.28" height="2.46" fill="#d7d8e9"/><rect x="346.03" y="516.11" width="7.28" height="2.46" fill="#f5f5fa"/><rect x="353.26" y="516.11" width="7.28" height="2.46" fill="#bdbedb"/><rect x="360.49" y="516.11" width="7.28" height="2.46" fill="#aeafd3"/><rect x="367.72" y="516.11" width="7.28" height="2.46" fill="#ecedf5"/><rect x="374.95" y="516.11" width="7.28" height="2.46" fill="#abadd2"/><rect x="382.18" y="516.11" width="7.28" height="2.46" fill="#e1e2ef"/><rect x="389.41" y="516.11" width="7.28" height="2.46" fill="#ececf5"/><rect x="396.64" y="516.11" width="7.28" height="2.46" fill="#dedfed"/><rect x="403.87" y="516.11" width="7.28" height="2.46" fill="#cecfe5"/><rect x="411.1" y="516.11" width="7.28" height="2.46" fill="#fbf4af"/><rect x="418.33" y="516.11" width="7.28" height="2.46" fill="#fdf9d8"/><rect x="425.56" y="516.11" width="7.28" height="2.46" fill="#fcf7c5"/><rect x="432.79" y="516.11" width="7.28" height="2.46" fill="#e7e8f2"/><rect x="440.02" y="516.11" width="7.28" height="2.46" fill="#faf3a9"/><rect x="447.25" y="516.11" width="7.28" height="2.46" fill="#dddeed"/><rect x="454.48" y="516.11" width="7.28" height="2.46" fill="#fcf6c0"/><rect x="461.71" y="516.11" width="7.28" height="2.46" fill="#fcf7c9"/><rect x="468.94" y="516.11" width="7.28" height="2.46" fill="#f8ec79"/><rect x="476.17" y="516.11" width="7.28" height="2.46" fill="#fdf9d3"/><rect x="338.8" y="518.52" width="7.28" height="2.46" fill="#e3e4f0"/><rect x="346.03" y="518.52" width="7.28" height="2.46" fill="#c9cae2"/><rect x="353.26" y="518.52" width="7.28" height="2.46" fill="#f0f1f7"/><rect x="360.49" y="518.52" width="7.28" height="2.46" fill="#fafafc"/><rect x="367.72" y="518.52" width="7.28" height="2.46" fill="#cacbe3"/><rect x="374.95" y="518.52" width="7.28" height="2.46" fill="#d9d9ea"/><rect x="382.18" y="518.52" width="7.28" height="2.46" fill="#babbda"/><rect x="389.41" y="518.52" width="7.28" height="2.46" fill="#f7f7fb"/><rect x="396.64" y="518.52" width="7.28" height="2.46" fill="#fdfdfe"/><rect x="403.87" y="518.52" width="7.28" height="2.46" fill="#e7e8f2"/><rect x="411.1" y="518.52" width="7.28" height="2.46" fill="#fefce8"/><rect x="418.33" y="518.52" width="7.28" height="2.46" fill="#fcf6c1"/><rect x="425.56" y="518.52" width="7.28" height="2.46" fill="#faf3ab"/><rect x="432.79" y="518.52" width="7.28" height="2.46" fill="#fdfbe1"/><rect x="440.02" y="518.52" width="7.28" height="2.46" fill="#fcf6c0"/><rect x="447.25" y="518.52" width="7.28" height="2.46" fill="#d2d3e7"/><rect x="454.48" y="518.52" width="7.28" height="2.46" fill="#fdfbe0"/><rect x="461.71" y="518.52" width="7.28" height="2.46" fill="#f9f092"/><rect x="468.94" y="518.52" width="7.28" height="2.46" fill="#fefce7"/><rect x="476.17" y="518.52" width="7.28" height="2.46" fill="#f9ef8e"/><rect x="338.8" y="520.93" width="7.28" height="2.46" fill="#fefdf4"/><rect x="346.03" y="520.93" width="7.28" height="2.46" fill="#f1f1f8"/><rect x="353.26" y="520.93" width="7.28" height="2.46" fill="#fbfbfd"/><rect x="360.49" y="520.93" width="7.28" height="2.46" fill="#bcbedb"/><rect x="367.72" y="520.93" width="7.28" height="2.46" fill="#b0b2d5"/><rect x="374.95" y="520.93" width="7.28" height="2.46" fill="#c8c9e1"/><rect x="382.18" y="520.93" width="7.28" height="2.46" fill="#d1d2e6"/><rect x="389.41" y="520.93" width="7.28" height="2.46" fill="#d9daeb"/><rect x="396.64" y="520.93" width="7.28" height="2.46" fill="#eff0f7"/><rect x="403.87" y="520.93" width="7.28" height="2.46" fill="#e2e3ef"/><rect x="411.1" y="520.93" width="7.28" height="2.46" fill="#fefceb"/><rect x="418.33" y="520.93" width="7.28" height="2.46" fill="#fcf6c0"/><rect x="425.56" y="520.93" width="7.28" height="2.46" fill="#fdfade"/><rect x="432.79" y="520.93" width="7.28" height="2.46" fill="#fbf6c0"/><rect x="440.02" y="520.93" width="7.28" height="2.46" fill="#fcf8d0"/><rect x="447.25" y="520.93" width="7.28" height="2.46" fill="#fefef4"/><rect x="454.48" y="520.93" width="7.28" height="2.46" fill="#fcf8cb"/><rect x="461.71" y="520.93" width="7.28" height="2.46" fill="#fefced"/><rect x="468.94" y="520.93" width="7.28" height="2.46" fill="#f7eb71"/><rect x="476.17" y="520.93" width="7.28" height="2.46" fill="#fbf5bb"/><rect x="338.8" y="523.35" width="7.28" height="2.46" fill="#b9bbd9"/><rect x="346.03" y="523.35" width="7.28" height="2.46" fill="#d1d2e7"/><rect x="353.26" y="523.35" width="7.28" height="2.46" fill="#dedfed"/><rect x="360.49" y="523.35" width="7.28" height="2.46" fill="#c1c2de"/><rect x="367.72" y="523.35" width="7.28" height="2.46" fill="#fdfdfe"/><rect x="374.95" y="523.35" width="7.28" height="2.46" fill="#aeb0d4"/><rect x="382.18" y="523.35" width="7.28" height="2.46" fill="#ededf5"/><rect x="389.41" y="523.35" width="7.28" height="2.46" fill="#e7e7f2"/><rect x="396.64" y="523.35" width="7.28" height="2.46" fill="#bebfdc"/><rect x="403.87" y="523.35" width="7.28" height="2.46" fill="#efeff6"/><rect x="411.1" y="523.35" width="7.28" height="2.46" fill="#fefcec"/><rect x="418.33" y="523.35" width="7.28" height="2.46" fill="#fbf4b1"/><rect x="425.56" y="523.35" width="7.28" height="2.46" fill="#fefce6"/><rect x="432.79" y="523.35" width="7.28" height="2.46" fill="#fefef6"/><rect x="440.02" y="523.35" width="7.28" height="2.46" fill="#edeef6"/><rect x="447.25" y="523.35" width="7.28" height="2.46" fill="#eff0f7"/><rect x="454.48" y="523.35" width="7.28" height="2.46" fill="#f9f092"/><rect x="461.71" y="523.35" width="7.28" height="2.46" fill="#f9f198"/><rect x="468.94" y="523.35" width="7.28" height="2.46" fill="#faf2a6"/><rect x="476.17" y="523.35" width="7.28" height="2.46" fill="#fcf9d1"/><rect x="338.8" y="525.76" width="7.28" height="2.46" fill="#fafafc"/><rect x="346.03" y="525.76" width="7.28" height="2.46" fill="#a0a2cc"/><rect x="353.26" y="525.76" width="7.28" height="2.46" fill="#cacbe3"/><rect x="360.49" y="525.76" width="7.28" height="2.46" fill="#e3e4f0"/><rect x="367.72" y="525.76" width="7.28" height="2.46" fill="#f2f2f8"/><rect x="374.95" y="525.76" width="7.28" height="2.46" fill="#b2b4d6"/><rect x="382.18" y="525.76" width="7.28" height="2.46" fill="#a3a5cd"/><rect x="389.41" y="525.76" width="7.28" height="2.46" fill="#fefdf1"/><rect x="396.64" y="525.76" width="7.28" height="2.46" fill="#e7e7f2"/><rect x="403.87" y="525.76" width="7.28" height="2.46" fill="#d3d4e7"/><rect x="411.1" y="525.76" width="7.28" height="2.46" fill="#fefce6"/><rect x="418.33" y="525.76" width="7.28" height="2.46" fill="#faf19f"/><rect x="425.56" y="525.76" width="7.28" height="2.46" fill="#d6d7e9"/><rect x="432.79" y="525.76" width="7.28" height="2.46" fill="#fdf9d5"/><rect x="440.02" y="525.76" width="7.28" height="2.46" fill="#fbf5b8"/><rect x="447.25" y="525.76" width="7.28" height="2.46" fill="#d2d3e7"/><rect x="454.48" y="525.76" width="7.28" height="2.46" fill="#f9f093"/><rect x="461.71" y="525.76" width="7.28" height="2.46" fill="#f5f5fa"/><rect x="468.94" y="525.76" width="7.28" height="2.46" fill="#f7eb6f"/><rect x="476.17" y="525.76" width="7.28" height="2.46" fill="#faf2a4"/><rect x="338.8" y="528.17" width="7.28" height="2.46" fill="#fdfbe1"/><rect x="346.03" y="528.17" width="7.28" height="2.46" fill="#cbcce3"/><rect x="353.26" y="528.17" width="7.28" height="2.46" fill="#dedfed"/><rect x="360.49" y="528.17" width="7.28" height="2.46" fill="#eaebf4"/><rect x="367.72" y="528.17" width="7.28" height="2.46" fill="#c6c8e1"/><rect x="374.95" y="528.17" width="7.28" height="2.46" fill="#b8bad9"/><rect x="382.18" y="528.17" width="7.28" height="2.46" fill="#cfd0e5"/><rect x="389.41" y="528.17" width="7.28" height="2.46" fill="#dcddec"/><rect x="396.64" y="528.17" width="7.28" height="2.46" fill="#bcbedb"/><rect x="403.87" y="528.17" width="7.28" height="2.46" fill="#f7f7fb"/><rect x="411.1" y="528.17" width="7.28" height="2.46" fill="#fdfad8"/><rect x="418.33" y="528.17" width="7.28" height="2.46" fill="#fcf8cb"/><rect x="425.56" y="528.17" width="7.28" height="2.46" fill="#f9ef8c"/><rect x="432.79" y="528.17" width="7.28" height="2.46" fill="#f2f2f8"/><rect x="440.02" y="528.17" width="7.28" height="2.46" fill="#faf2a5"/><rect x="447.25" y="528.17" width="7.28" height="2.46" fill="#fafafc"/><rect x="454.48" y="528.17" width="7.28" height="2.46" fill="#f9f19b"/><rect x="461.71" y="528.17" width="7.28" height="2.46" fill="#ecedf5"/><rect x="468.94" y="528.17" width="7.28" height="2.46" fill="#faf2a3"/><rect x="476.17" y="528.17" width="7.28" height="2.46" fill="#fcf7c5"/><rect x="338.8" y="530.58" width="7.28" height="2.46" fill="#cacbe3"/><rect x="346.03" y="530.58" width="7.28" height="2.46" fill="#cecfe5"/><rect x="353.26" y="530.58" width="7.28" height="2.46" fill="#d6d7e9"/><rect x="360.49" y="530.58" width="7.28" height="2.46" fill="#b7b8d8"/><rect x="367.72" y="530.58" width="7.28" height="2.46" fill="#9799c7"/><rect x="374.95" y="530.58" width="7.28" height="2.46" fill="#bfc0dc"/><rect x="382.18" y="530.58" width="7.28" height="2.46" fill="#cccde4"/><rect x="389.41" y="530.58" width="7.28" height="2.46" fill="#d1d2e6"/><rect x="396.64" y="530.58" width="7.28" height="2.46" fill="#c0c2dd"/><rect x="403.87" y="530.58" width="7.28" height="2.46" fill="#e8e9f3"/><rect x="411.1" y="530.58" width="7.28" height="2.46" fill="#fcf7c9"/><rect x="418.33" y="530.58" width="7.28" height="2.46" fill="#fdf9d5"/><rect x="425.56" y="530.58" width="7.28" height="2.46" fill="#fefcea"/><rect x="432.79" y="530.58" width="7.28" height="2.46" fill="#fcf8cc"/><rect x="440.02" y="530.58" width="7.28" height="2.46" fill="#fbf4af"/><rect x="447.25" y="530.58" width="7.28" height="2.46" fill="#fcf7c9"/><rect x="454.48" y="530.58" width="7.28" height="2.46" fill="#f8ee83"/><rect x="461.71" y="530.58" width="7.28" height="2.46" fill="#fdfad8"/><rect x="468.94" y="530.58" width="7.28" height="2.46" fill="#faf4ad"/><rect x="476.17" y="530.58" width="7.28" height="2.46" fill="#f8ee85"/><rect x="338.8" y="532.99" width="7.28" height="2.46" fill="#c6c8e1"/><rect x="346.03" y="532.99" width="7.28" height="2.46" fill="#dcdcec"/><rect x="353.26" y="532.99" width="7.28" height="2.46" fill="#eaebf4"/><rect x="360.49" y="532.99" width="7.28" height="2.46" fill="#d7d8ea"/><rect x="367.72" y="532.99" width="7.28" height="2.46" fill="#d3d4e7"/><rect x="374.95" y="532.99" width="7.28" height="2.46" fill="#edeef5"/><rect x="382.18" y="532.99" width="7.28" height="2.46" fill="#d6d7e9"/><rect x="389.41" y="532.99" width="7.28" height="2.46" fill="#f4f4f9"/><rect x="396.64" y="532.99" width="7.28" height="2.46" fill="#fdfdfe"/><rect x="403.87" y="532.99" width="7.28" height="2.46" fill="#fcfcfe"/><rect x="411.1" y="532.99" width="7.28" height="2.46" fill="#fcf8ce"/><rect x="418.33" y="532.99" width="7.28" height="2.46" fill="#fffffc"/><rect x="425.56" y="532.99" width="7.28" height="2.46" fill="#f8f8fb"/><rect x="432.79" y="532.99" width="7.28" height="2.46" fill="#ebecf4"/><rect x="440.02" y="532.99" width="7.28" height="2.46" fill="#fcf7c8"/><rect x="447.25" y="532.99" width="7.28" height="2.46" fill="#fbf4b1"/><rect x="454.48" y="532.99" width="7.28" height="2.46" fill="#fefdf0"/><rect x="461.71" y="532.99" width="7.28" height="2.46" fill="#fbf6bf"/><rect x="468.94" y="532.99" width="7.28" height="2.46" fill="#fcf8d0"/><rect x="476.17" y="532.99" width="7.28" height="2.46" fill="#fdfadc"/><rect x="338.8" y="535.4" width="7.28" height="2.46" fill="#cbcce3"/><rect x="346.03" y="535.4" width="7.28" height="2.46" fill="#f0f0f7"/><rect x="353.26" y="535.4" width="7.28" height="2.46" fill="#e2e3ef"/><rect x="360.49" y="535.4" width="7.28" height="2.46" fill="#ececf5"/><rect x="367.72" y="535.4" width="7.28" height="2.46" fill="#b9bad9"/><rect x="374.95" y="535.4" width="7.28" height="2.46" fill="#e7e7f2"/><rect x="382.18" y="535.4" width="7.28" height="2.46" fill="#f3f3f9"/><rect x="389.41" y="535.4" width="7.28" height="2.46" fill="#dedeed"/><rect x="396.64" y="535.4" width="7.28" height="2.46" fill="#eaeaf4"/><rect x="403.87" y="535.4" width="7.28" height="2.46" fill="#d6d7e9"/><rect x="411.1" y="535.4" width="7.28" height="2.46" fill="#ecedf5"/><rect x="418.33" y="535.4" width="7.28" height="2.46" fill="#fdfbe3"/><rect x="425.56" y="535.4" width="7.28" height="2.46" fill="#fffef7"/><rect x="432.79" y="535.4" width="7.28" height="2.46" fill="#f9ef8e"/><rect x="440.02" y="535.4" width="7.28" height="2.46" fill="#fefef6"/><rect x="447.25" y="535.4" width="7.28" height="2.46" fill="#fbf4b0"/><rect x="454.48" y="535.4" width="7.28" height="2.46" fill="#fbf5b8"/><rect x="461.71" y="535.4" width="7.28" height="2.46" fill="#fcf7c4"/><rect x="468.94" y="535.4" width="7.28" height="2.46" fill="#f9ef8d"/><rect x="476.17" y="535.4" width="7.28" height="2.46" fill="#fdfbe3"/><rect x="338.8" y="537.82" width="7.28" height="2.46" fill="#f4f4f9"/><rect x="346.03" y="537.82" width="7.28" height="2.46" fill="#ececf5"/><rect x="353.26" y="537.82" width="7.28" height="2.46" fill="#b1b3d5"/><rect x="360.49" y="537.82" width="7.28" height="2.46" fill="#e0e1ee"/><rect x="367.72" y="537.82" width="7.28" height="2.46" fill="#edeef6"/><rect x="374.95" y="537.82" width="7.28" height="2.46" fill="#dfe0ee"/><rect x="382.18" y="537.82" width="7.28" height="2.46" fill="#fefdf3"/><rect x="389.41" y="537.82" width="7.28" height="2.46" fill="#d4d5e8"/><rect x="396.64" y="537.82" width="7.28" height="2.46" fill="#f0f0f7"/><rect x="403.87" y="537.82" width="7.28" height="2.46" fill="#fffffe"/><rect x="411.1" y="537.82" width="7.28" height="2.46" fill="#f7f7fa"/><rect x="418.33" y="537.82" width="7.28" height="2.46" fill="#f9f093"/><rect x="425.56" y="537.82" width="7.28" height="2.46" fill="#f6f6fa"/><rect x="432.79" y="537.82" width="7.28" height="2.46" fill="#d9d9ea"/><rect x="440.02" y="537.82" width="7.28" height="2.46" fill="#fcf7c4"/><rect x="447.25" y="537.82" width="7.28" height="2.46" fill="#eeeef6"/><rect x="454.48" y="537.82" width="7.28" height="2.46" fill="#fbf6be"/><rect x="461.71" y="537.82" width="7.28" height="2.46" fill="#f7f7fb"/><rect x="468.94" y="537.82" width="7.28" height="2.46" fill="#faf2a4"/><rect x="476.17" y="537.82" width="7.28" height="2.46" fill="#fefcea"/><rect x="338.8" y="540.23" width="7.28" height="2.46" fill="#eaeaf4"/><rect x="346.03" y="540.23" width="7.28" height="2.46" fill="#b8bad9"/><rect x="353.26" y="540.23" width="7.28" height="2.46" fill="#f4f4f9"/><rect x="360.49" y="540.23" width="7.28" height="2.46" fill="#cccde4"/><rect x="367.72" y="540.23" width="7.28" height="2.46" fill="#e5e6f1"/><rect x="374.95" y="540.23" width="7.28" height="2.46" fill="#d6d7e9"/><rect x="382.18" y="540.23" width="7.28" height="2.46" fill="#e7e8f2"/><rect x="389.41" y="540.23" width="7.28" height="2.46" fill="#bfc0dc"/><rect x="396.64" y="540.23" width="7.28" height="2.46" fill="#9698c7"/><rect x="403.87" y="540.23" width="7.28" height="2.46" fill="#f3f3f9"/><rect x="411.1" y="540.23" width="7.28" height="2.46" fill="#fbfbfd"/><rect x="418.33" y="540.23" width="7.28" height="2.46" fill="#fdf9d4"/><rect x="425.56" y="540.23" width="7.28" height="2.46" fill="#fbf5b9"/><rect x="432.79" y="540.23" width="7.28" height="2.46" fill="#cacbe3"/><rect x="440.02" y="540.23" width="7.28" height="2.46" fill="#fefdf1"/><rect x="447.25" y="540.23" width="7.28" height="2.46" fill="#fffffe"/><rect x="454.48" y="540.23" width="7.28" height="2.46" fill="#fdfade"/><rect x="461.71" y="540.23" width="7.28" height="2.46" fill="#fbf4b2"/><rect x="468.94" y="540.23" width="7.28" height="2.46" fill="#faf2a4"/><rect x="476.17" y="540.23" width="7.28" height="2.46" fill="#fdf9d4"/><rect x="338.8" y="542.64" width="7.28" height="2.46" fill="#b9bad9"/><rect x="346.03" y="542.64" width="7.28" height="2.46" fill="#f7f7fa"/><rect x="353.26" y="542.64" width="7.28" height="2.46" fill="#cbcce3"/><rect x="360.49" y="542.64" width="7.28" height="2.46" fill="#dedfed"/><rect x="367.72" y="542.64" width="7.28" height="2.46" fill="#e9e9f3"/><rect x="374.95" y="542.64" width="7.28" height="2.46" fill="#9295c5"/><rect x="382.18" y="542.64" width="7.28" height="2.46" fill="#babbda"/><rect x="389.41" y="542.64" width="7.28" height="2.46" fill="#e0e0ee"/><rect x="396.64" y="542.64" width="7.28" height="2.46" fill="#eaeaf3"/><rect x="403.87" y="542.64" width="7.28" height="2.46" fill="#ffffff"/><rect x="411.1" y="542.64" width="7.28" height="2.46" fill="#fcf8cb"/><rect x="418.33" y="542.64" width="7.28" height="2.46" fill="#faf19d"/><rect x="425.56" y="542.64" width="7.28" height="2.46" fill="#fefce7"/><rect x="432.79" y="542.64" width="7.28" height="2.46" fill="#f7f7fb"/><rect x="440.02" y="542.64" width="7.28" height="2.46" fill="#fbf5bb"/><rect x="447.25" y="542.64" width="7.28" height="2.46" fill="#fefefe"/><rect x="454.48" y="542.64" width="7.28" height="2.46" fill="#f9ef8a"/><rect x="461.71" y="542.64" width="7.28" height="2.46" fill="#f7f8fb"/><rect x="468.94" y="542.64" width="7.28" height="2.46" fill="#f9ef8b"/><rect x="476.17" y="542.64" width="7.28" height="2.46" fill="#fcf7c3"/><rect x="338.8" y="545.05" width="7.28" height="2.46" fill="#a0a2cc"/><rect x="346.03" y="545.05" width="7.28" height="2.46" fill="#fffffd"/><rect x="353.26" y="545.05" width="7.28" height="2.46" fill="#eff0f7"/><rect x="360.49" y="545.05" width="7.28" height="2.46" fill="#d4d5e8"/><rect x="367.72" y="545.05" width="7.28" height="2.46" fill="#c1c3de"/><rect x="374.95" y="545.05" width="7.28" height="2.46" fill="#c9cae2"/><rect x="382.18" y="545.05" width="7.28" height="2.46" fill="#fefdee"/><rect x="389.41" y="545.05" width="7.28" height="2.46" fill="#cdcee4"/><rect x="396.64" y="545.05" width="7.28" height="2.46" fill="#7679b6"/><rect x="403.87" y="545.05" width="7.28" height="2.46" fill="#d8d9ea"/><rect x="411.1" y="545.05" width="7.28" height="2.46" fill="#f3f4f9"/><rect x="418.33" y="545.05" width="7.28" height="2.46" fill="#fcf7c8"/><rect x="425.56" y="545.05" width="7.28" height="2.46" fill="#fdfade"/><rect x="432.79" y="545.05" width="7.28" height="2.46" fill="#eaeaf3"/><rect x="440.02" y="545.05" width="7.28" height="2.46" fill="#fefef5"/><rect x="447.25" y="545.05" width="7.28" height="2.46" fill="#fbf5bb"/><rect x="454.48" y="545.05" width="7.28" height="2.46" fill="#fefdef"/><rect x="461.71" y="545.05" width="7.28" height="2.46" fill="#f7ea66"/><rect x="468.94" y="545.05" width="7.28" height="2.46" fill="#fbf5b8"/><rect x="476.17" y="545.05" width="7.28" height="2.46" fill="#fdfbe1"/><rect x="338.8" y="547.46" width="7.28" height="2.46" fill="#eff0f7"/><rect x="346.03" y="547.46" width="7.28" height="2.46" fill="#f0f1f7"/><rect x="353.26" y="547.46" width="7.28" height="2.46" fill="#c0c1dd"/><rect x="360.49" y="547.46" width="7.28" height="2.46" fill="#e3e4f0"/><rect x="367.72" y="547.46" width="7.28" height="2.46" fill="#a1a4cd"/><rect x="374.95" y="547.46" width="7.28" height="2.46" fill="#b3b5d6"/><rect x="382.18" y="547.46" width="7.28" height="2.46" fill="#fcfcfd"/><rect x="389.41" y="547.46" width="7.28" height="2.46" fill="#d8d9ea"/><rect x="396.64" y="547.46" width="7.28" height="2.46" fill="#b7b9d8"/><rect x="403.87" y="547.46" width="7.28" height="2.46" fill="#f9f9fc"/><rect x="411.1" y="547.46" width="7.28" height="2.46" fill="#fcf7c5"/><rect x="418.33" y="547.46" width="7.28" height="2.46" fill="#fcf8cd"/><rect x="425.56" y="547.46" width="7.28" height="2.46" fill="#ebebf4"/><rect x="432.79" y="547.46" width="7.28" height="2.46" fill="#f3f4f9"/><rect x="440.02" y="547.46" width="7.28" height="2.46" fill="#fcf8ca"/><rect x="447.25" y="547.46" width="7.28" height="2.46" fill="#fcf9d1"/><rect x="454.48" y="547.46" width="7.28" height="2.46" fill="#f6e963"/><rect x="461.71" y="547.46" width="7.28" height="2.46" fill="#fdf9d7"/><rect x="468.94" y="547.46" width="7.28" height="2.46" fill="#fbf6bf"/><rect x="476.17" y="547.46" width="7.28" height="2.46" fill="#fbf6bc"/><rect x="338.8" y="549.88" width="7.28" height="2.46" fill="#fcfcfd"/><rect x="346.03" y="549.88" width="7.28" height="2.46" fill="#c4c6e0"/><rect x="353.26" y="549.88" width="7.28" height="2.46" fill="#fffef8"/><rect x="360.49" y="549.88" width="7.28" height="2.46" fill="#7376b4"/><rect x="367.72" y="549.88" width="7.28" height="2.46" fill="#f5f5f9"/><rect x="374.95" y="549.88" width="7.28" height="2.46" fill="#bdbedb"/><rect x="382.18" y="549.88" width="7.28" height="2.46" fill="#ebecf4"/><rect x="389.41" y="549.88" width="7.28" height="2.46" fill="#f5f5fa"/><rect x="396.64" y="549.88" width="7.28" height="2.46" fill="#bdbedb"/><rect x="403.87" y="549.88" width="7.28" height="2.46" fill="#eaebf4"/><rect x="411.1" y="549.88" width="7.28" height="2.46" fill="#fdfbe0"/><rect x="418.33" y="549.88" width="7.28" height="2.46" fill="#fbf4af"/><rect x="425.56" y="549.88" width="7.28" height="2.46" fill="#fffefa"/><rect x="432.79" y="549.88" width="7.28" height="2.46" fill="#e2e3f0"/><rect x="440.02" y="549.88" width="7.28" height="2.46" fill="#e5e6f1"/><rect x="447.25" y="549.88" width="7.28" height="2.46" fill="#f8ed7d"/><rect x="454.48" y="549.88" width="7.28" height="2.46" fill="#fcf6c1"/><rect x="461.71" y="549.88" width="7.28" height="2.46" fill="#fdf9d3"/><rect x="468.94" y="549.88" width="7.28" height="2.46" fill="#fefce8"/><rect x="476.17" y="549.88" width="7.28" height="2.46" fill="#f9ef8d"/><rect x="338.8" y="552.29" width="7.28" height="2.46" fill="#cbcce3"/><rect x="346.03" y="552.29" width="7.28" height="2.46" fill="#fefdf1"/><rect x="353.26" y="552.29" width="7.28" height="2.46" fill="#fbfbfd"/><rect x="360.49" y="552.29" width="7.28" height="2.46" fill="#d0d1e6"/><rect x="367.72" y="552.29" width="7.28" height="2.46" fill="#f4f4f9"/><rect x="374.95" y="552.29" width="7.28" height="2.46" fill="#b0b2d5"/><rect x="382.18" y="552.29" width="7.28" height="2.46" fill="#d5d6e8"/><rect x="389.41" y="552.29" width="7.28" height="2.46" fill="#d1d2e6"/><rect x="396.64" y="552.29" width="7.28" height="2.46" fill="#bbbddb"/><rect x="403.87" y="552.29" width="7.28" height="2.46" fill="#eeeff6"/><rect x="411.1" y="552.29" width="7.28" height="2.46" fill="#fefdee"/><rect x="418.33" y="552.29" width="7.28" height="2.46" fill="#f8ee85"/><rect x="425.56" y="552.29" width="7.28" height="2.46" fill="#bec0dc"/><rect x="432.79" y="552.29" width="7.28" height="2.46" fill="#ededf5"/><rect x="440.02" y="552.29" width="7.28" height="2.46" fill="#fffffd"/><rect x="447.25" y="552.29" width="7.28" height="2.46" fill="#fffffe"/><rect x="454.48" y="552.29" width="7.28" height="2.46" fill="#faf2a3"/><rect x="461.71" y="552.29" width="7.28" height="2.46" fill="#fbf5b5"/><rect x="468.94" y="552.29" width="7.28" height="2.46" fill="#faf2a3"/><rect x="476.17" y="552.29" width="7.28" height="2.46" fill="#fcf8cb"/><rect x="338.8" y="554.7" width="7.28" height="2.46" fill="#e9e9f3"/><rect x="346.03" y="554.7" width="7.28" height="2.46" fill="#ecedf5"/><rect x="353.26" y="554.7" width="7.28" height="2.46" fill="#a8aad0"/><rect x="360.49" y="554.7" width="7.28" height="2.46" fill="#c6c7e0"/><rect x="367.72" y="554.7" width="7.28" height="2.46" fill="#b3b5d6"/><rect x="374.95" y="554.7" width="7.28" height="2.46" fill="#adafd3"/><rect x="382.18" y="554.7" width="7.28" height="2.46" fill="#e2e3f0"/><rect x="389.41" y="554.7" width="7.28" height="2.46" fill="#e4e4f0"/><rect x="396.64" y="554.7" width="7.28" height="2.46" fill="#e5e6f1"/><rect x="403.87" y="554.7" width="7.28" height="2.46" fill="#d3d4e7"/><rect x="411.1" y="554.7" width="7.28" height="2.46" fill="#fefdf1"/><rect x="418.33" y="554.7" width="7.28" height="2.46" fill="#fefdef"/><rect x="425.56" y="554.7" width="7.28" height="2.46" fill="#fcf7c3"/><rect x="432.79" y="554.7" width="7.28" height="2.46" fill="#fefce7"/><rect x="440.02" y="554.7" width="7.28" height="2.46" fill="#f8ee89"/><rect x="447.25" y="554.7" width="7.28" height="2.46" fill="#fbf5b8"/><rect x="454.48" y="554.7" width="7.28" height="2.46" fill="#fdfadb"/><rect x="461.71" y="554.7" width="7.28" height="2.46" fill="#fdfadd"/><rect x="468.94" y="554.7" width="7.28" height="2.46" fill="#fcf8d0"/><rect x="476.17" y="554.7" width="7.28" height="2.46" fill="#faf3a9"/><rect x="338.8" y="557.11" width="7.28" height="2.46" fill="#fefbe6"/><rect x="346.03" y="557.11" width="7.28" height="2.46" fill="#f7f7fb"/><rect x="353.26" y="557.11" width="7.28" height="2.46" fill="#9d9fca"/><rect x="360.49" y="557.11" width="7.28" height="2.46" fill="#a7a9d0"/><rect x="367.72" y="557.11" width="7.28" height="2.46" fill="#b7b8d8"/><rect x="374.95" y="557.11" width="7.28" height="2.46" fill="#e3e4f0"/><rect x="382.18" y="557.11" width="7.28" height="2.46" fill="#dfe0ee"/><rect x="389.41" y="557.11" width="7.28" height="2.46" fill="#ececf5"/><rect x="396.64" y="557.11" width="7.28" height="2.46" fill="#fdfbe3"/><rect x="403.87" y="557.11" width="7.28" height="2.46" fill="#d5d6e9"/><rect x="411.1" y="557.11" width="7.28" height="2.46" fill="#fafafc"/><rect x="418.33" y="557.11" width="7.28" height="2.46" fill="#f7ea6c"/><rect x="425.56" y="557.11" width="7.28" height="2.46" fill="#fcf7c3"/><rect x="432.79" y="557.11" width="7.28" height="2.46" fill="#eaeaf4"/><rect x="440.02" y="557.11" width="7.28" height="2.46" fill="#e3e4f0"/><rect x="447.25" y="557.11" width="7.28" height="2.46" fill="#e3e4f0"/><rect x="454.48" y="557.11" width="7.28" height="2.46" fill="#edeef6"/><rect x="461.71" y="557.11" width="7.28" height="2.46" fill="#fcf7c4"/><rect x="468.94" y="557.11" width="7.28" height="2.46" fill="#faf2a2"/><rect x="476.17" y="557.11" width="7.28" height="2.46" fill="#f8ee88"/><rect x="338.8" y="559.52" width="7.28" height="2.46" fill="#d3d4e7"/><rect x="346.03" y="559.52" width="7.28" height="2.46" fill="#c9cbe2"/><rect x="353.26" y="559.52" width="7.28" height="2.46" fill="#c8c9e1"/><rect x="360.49" y="559.52" width="7.28" height="2.46" fill="#fffffd"/><rect x="367.72" y="559.52" width="7.28" height="2.46" fill="#a3a5cd"/><rect x="374.95" y="559.52" width="7.28" height="2.46" fill="#d4d5e8"/><rect x="382.18" y="559.52" width="7.28" height="2.46" fill="#dcdcec"/><rect x="389.41" y="559.52" width="7.28" height="2.46" fill="#f1f1f7"/><rect x="396.64" y="559.52" width="7.28" height="2.46" fill="#d2d3e7"/><rect x="403.87" y="559.52" width="7.28" height="2.46" fill="#f8f8fb"/><rect x="411.1" y="559.52" width="7.28" height="2.46" fill="#fcf8cb"/><rect x="418.33" y="559.52" width="7.28" height="2.46" fill="#fdf9d4"/><rect x="425.56" y="559.52" width="7.28" height="2.46" fill="#fefceb"/><rect x="432.79" y="559.52" width="7.28" height="2.46" fill="#f7f7fb"/><rect x="440.02" y="559.52" width="7.28" height="2.46" fill="#fdfdfe"/><rect x="447.25" y="559.52" width="7.28" height="2.46" fill="#fffefa"/><rect x="454.48" y="559.52" width="7.28" height="2.46" fill="#fcf8ca"/><rect x="461.71" y="559.52" width="7.28" height="2.46" fill="#fcf7c4"/><rect x="468.94" y="559.52" width="7.28" height="2.46" fill="#f7ea6b"/><rect x="476.17" y="559.52" width="7.28" height="2.46" fill="#f8ed7f"/><rect x="338.8" y="561.93" width="7.28" height="2.46" fill="#c8c9e2"/><rect x="346.03" y="561.93" width="7.28" height="2.46" fill="#eff0f7"/><rect x="353.26" y="561.93" width="7.28" height="2.46" fill="#e7e7f2"/><rect x="360.49" y="561.93" width="7.28" height="2.46" fill="#e1e2ef"/><rect x="367.72" y="561.93" width="7.28" height="2.46" fill="#dbdbeb"/><rect x="374.95" y="561.93" width="7.28" height="2.46" fill="#d6d7e9"/><rect x="382.18" y="561.93" width="7.28" height="2.46" fill="#cbcde3"/><rect x="389.41" y="561.93" width="7.28" height="2.46" fill="#c6c7e0"/><rect x="396.64" y="561.93" width="7.28" height="2.46" fill="#f7f7fb"/><rect x="403.87" y="561.93" width="7.28" height="2.46" fill="#fefdee"/><rect x="411.1" y="561.93" width="7.28" height="2.46" fill="#fdf9d3"/><rect x="418.33" y="561.93" width="7.28" height="2.46" fill="#fbf5bb"/><rect x="425.56" y="561.93" width="7.28" height="2.46" fill="#fcf8ce"/><rect x="432.79" y="561.93" width="7.28" height="2.46" fill="#efeff6"/><rect x="440.02" y="561.93" width="7.28" height="2.46" fill="#e6e6f1"/><rect x="447.25" y="561.93" width="7.28" height="2.46" fill="#fdfad9"/><rect x="454.48" y="561.93" width="7.28" height="2.46" fill="#fbf5b5"/><rect x="461.71" y="561.93" width="7.28" height="2.46" fill="#fefce6"/><rect x="468.94" y="561.93" width="7.28" height="2.46" fill="#fdf9d7"/><rect x="476.17" y="561.93" width="7.28" height="2.46" fill="#f8ed82"/><rect x="338.8" y="564.35" width="7.28" height="2.46" fill="#9fa1cb"/><rect x="346.03" y="564.35" width="7.28" height="2.46" fill="#fefce8"/><rect x="353.26" y="564.35" width="7.28" height="2.46" fill="#f3f3f8"/><rect x="360.49" y="564.35" width="7.28" height="2.46" fill="#fefce9"/><rect x="367.72" y="564.35" width="7.28" height="2.46" fill="#c6c7e0"/><rect x="374.95" y="564.35" width="7.28" height="2.46" fill="#d0d1e6"/><rect x="382.18" y="564.35" width="7.28" height="2.46" fill="#cdcee4"/><rect x="389.41" y="564.35" width="7.28" height="2.46" fill="#e5e5f1"/><rect x="396.64" y="564.35" width="7.28" height="2.46" fill="#dadbeb"/><rect x="403.87" y="564.35" width="7.28" height="2.46" fill="#d5d6e9"/><rect x="411.1" y="564.35" width="7.28" height="2.46" fill="#fbf6bd"/><rect x="418.33" y="564.35" width="7.28" height="2.46" fill="#fefcec"/><rect x="425.56" y="564.35" width="7.28" height="2.46" fill="#fefcec"/><rect x="432.79" y="564.35" width="7.28" height="2.46" fill="#fefdef"/><rect x="440.02" y="564.35" width="7.28" height="2.46" fill="#fefdf2"/><rect x="447.25" y="564.35" width="7.28" height="2.46" fill="#fefeff"/><rect x="454.48" y="564.35" width="7.28" height="2.46" fill="#faf3aa"/><rect x="461.71" y="564.35" width="7.28" height="2.46" fill="#fdfadb"/><rect x="468.94" y="564.35" width="7.28" height="2.46" fill="#fdfbe0"/><rect x="476.17" y="564.35" width="7.28" height="2.46" fill="#fbf6bf"/><rect x="338.8" y="566.76" width="7.28" height="2.46" fill="#cccde4"/><rect x="346.03" y="566.76" width="7.28" height="2.46" fill="#fefdf1"/><rect x="353.26" y="566.76" width="7.28" height="2.46" fill="#b8bad9"/><rect x="360.49" y="566.76" width="7.28" height="2.46" fill="#e5e5f1"/><rect x="367.72" y="566.76" width="7.28" height="2.46" fill="#bec0dc"/><rect x="374.95" y="566.76" width="7.28" height="2.46" fill="#c0c1dd"/><rect x="382.18" y="566.76" width="7.28" height="2.46" fill="#cdcee4"/><rect x="389.41" y="566.76" width="7.28" height="2.46" fill="#e3e4f0"/><rect x="396.64" y="566.76" width="7.28" height="2.46" fill="#f4f4f9"/><rect x="403.87" y="566.76" width="7.28" height="2.46" fill="#fdfbe0"/><rect x="411.1" y="566.76" width="7.28" height="2.46" fill="#f8f8fb"/><rect x="418.33" y="566.76" width="7.28" height="2.46" fill="#f9f096"/><rect x="425.56" y="566.76" width="7.28" height="2.46" fill="#fbf4b2"/><rect x="432.79" y="566.76" width="7.28" height="2.46" fill="#fefcec"/><rect x="440.02" y="566.76" width="7.28" height="2.46" fill="#ffffff"/><rect x="447.25" y="566.76" width="7.28" height="2.46" fill="#fdf9d3"/><rect x="454.48" y="566.76" width="7.28" height="2.46" fill="#fcf7c7"/><rect x="461.71" y="566.76" width="7.28" height="2.46" fill="#fcf7c3"/><rect x="468.94" y="566.76" width="7.28" height="2.46" fill="#fbf6bd"/><rect x="476.17" y="566.76" width="7.28" height="2.46" fill="#faf2a4"/><rect x="338.8" y="569.17" width="7.28" height="2.46" fill="#f5f6fa"/><rect x="346.03" y="569.17" width="7.28" height="2.46" fill="#fcfcfe"/><rect x="353.26" y="569.17" width="7.28" height="2.46" fill="#d6d7e9"/><rect x="360.49" y="569.17" width="7.28" height="2.46" fill="#e7e8f2"/><rect x="367.72" y="569.17" width="7.28" height="2.46" fill="#fffffd"/><rect x="374.95" y="569.17" width="7.28" height="2.46" fill="#afb1d4"/><rect x="382.18" y="569.17" width="7.28" height="2.46" fill="#fffffc"/><rect x="389.41" y="569.17" width="7.28" height="2.46" fill="#b3b4d6"/><rect x="396.64" y="569.17" width="7.28" height="2.46" fill="#ededf5"/><rect x="403.87" y="569.17" width="7.28" height="2.46" fill="#f9f9fc"/><rect x="411.1" y="569.17" width="7.28" height="2.46" fill="#fbf4b0"/><rect x="418.33" y="569.17" width="7.28" height="2.46" fill="#fcf7c4"/><rect x="425.56" y="569.17" width="7.28" height="2.46" fill="#fefdef"/><rect x="432.79" y="569.17" width="7.28" height="2.46" fill="#e3e4f0"/><rect x="440.02" y="569.17" width="7.28" height="2.46" fill="#f4f4f9"/><rect x="447.25" y="569.17" width="7.28" height="2.46" fill="#fdf9d6"/><rect x="454.48" y="569.17" width="7.28" height="2.46" fill="#fcf8ca"/><rect x="461.71" y="569.17" width="7.28" height="2.46" fill="#fefdee"/><rect x="468.94" y="569.17" width="7.28" height="2.46" fill="#f9f095"/><rect x="476.17" y="569.17" width="7.28" height="2.46" fill="#fdfbe1"/><rect x="338.8" y="571.58" width="7.28" height="2.46" fill="#c9cae2"/><rect x="346.03" y="571.58" width="7.28" height="2.46" fill="#d1d2e6"/><rect x="353.26" y="571.58" width="7.28" height="2.46" fill="#fefdee"/><rect x="360.49" y="571.58" width="7.28" height="2.46" fill="#f6f6fa"/><rect x="367.72" y="571.58" width="7.28" height="2.46" fill="#d6d7e9"/><rect x="374.95" y="571.58" width="7.28" height="2.46" fill="#9c9eca"/><rect x="382.18" y="571.58" width="7.28" height="2.46" fill="#e3e4f0"/><rect x="389.41" y="571.58" width="7.28" height="2.46" fill="#e1e1ef"/><rect x="396.64" y="571.58" width="7.28" height="2.46" fill="#e9e9f3"/><rect x="403.87" y="571.58" width="7.28" height="2.46" fill="#f9fafc"/><rect x="411.1" y="571.58" width="7.28" height="2.46" fill="#fffefa"/><rect x="418.33" y="571.58" width="7.28" height="2.46" fill="#faf2a4"/><rect x="425.56" y="571.58" width="7.28" height="2.46" fill="#fbf4b4"/><rect x="432.79" y="571.58" width="7.28" height="2.46" fill="#fffffe"/><rect x="440.02" y="571.58" width="7.28" height="2.46" fill="#fefdef"/><rect x="447.25" y="571.58" width="7.28" height="2.46" fill="#fcfcfd"/><rect x="454.48" y="571.58" width="7.28" height="2.46" fill="#faf19d"/><rect x="461.71" y="571.58" width="7.28" height="2.46" fill="#fffefb"/><rect x="468.94" y="571.58" width="7.28" height="2.46" fill="#fbf4b2"/><rect x="476.17" y="571.58" width="7.28" height="2.46" fill="#fdfadd"/><rect x="338.8" y="573.99" width="7.28" height="2.46" fill="#a9abd1"/><rect x="346.03" y="573.99" width="7.28" height="2.46" fill="#efeff6"/><rect x="353.26" y="573.99" width="7.28" height="2.46" fill="#dcddec"/><rect x="360.49" y="573.99" width="7.28" height="2.46" fill="#cbcce3"/><rect x="367.72" y="573.99" width="7.28" height="2.46" fill="#f3f3f8"/><rect x="374.95" y="573.99" width="7.28" height="2.46" fill="#9d9fcb"/><rect x="382.18" y="573.99" width="7.28" height="2.46" fill="#d7d8ea"/><rect x="389.41" y="573.99" width="7.28" height="2.46" fill="#e6e6f1"/><rect x="396.64" y="573.99" width="7.28" height="2.46" fill="#f5f5fa"/><rect x="403.87" y="573.99" width="7.28" height="2.46" fill="#c7c9e1"/><rect x="411.1" y="573.99" width="7.28" height="2.46" fill="#fcf9d2"/><rect x="418.33" y="573.99" width="7.28" height="2.46" fill="#fcf7c6"/><rect x="425.56" y="573.99" width="7.28" height="2.46" fill="#faf19e"/><rect x="432.79" y="573.99" width="7.28" height="2.46" fill="#fdfadb"/><rect x="440.02" y="573.99" width="7.28" height="2.46" fill="#fcf7c8"/><rect x="447.25" y="573.99" width="7.28" height="2.46" fill="#f9f096"/><rect x="454.48" y="573.99" width="7.28" height="2.46" fill="#fbf6bf"/><rect x="461.71" y="573.99" width="7.28" height="2.46" fill="#fdfbe2"/><rect x="468.94" y="573.99" width="7.28" height="2.46" fill="#fbf6bd"/><rect x="476.17" y="573.99" width="7.28" height="2.46" fill="#fefce7"/><rect x="338.8" y="576.4" width="7.28" height="2.46" fill="#d9d9ea"/><rect x="346.03" y="576.4" width="7.28" height="2.46" fill="#a6a8cf"/><rect x="353.26" y="576.4" width="7.28" height="2.46" fill="#dfdfee"/><rect x="360.49" y="576.4" width="7.28" height="2.46" fill="#dbdcec"/><rect x="367.72" y="576.4" width="7.28" height="2.46" fill="#f9fafc"/><rect x="374.95" y="576.4" width="7.28" height="2.46" fill="#c7c8e1"/><rect x="382.18" y="576.4" width="7.28" height="2.46" fill="#fffefa"/><rect x="389.41" y="576.4" width="7.28" height="2.46" fill="#cdcee4"/><rect x="396.64" y="576.4" width="7.28" height="2.46" fill="#dddeed"/><rect x="403.87" y="576.4" width="7.28" height="2.46" fill="#b2b4d6"/><rect x="411.1" y="576.4" width="7.28" height="2.46" fill="#fafbfd"/><rect x="418.33" y="576.4" width="7.28" height="2.46" fill="#fefceb"/><rect x="425.56" y="576.4" width="7.28" height="2.46" fill="#f9f093"/><rect x="432.79" y="576.4" width="7.28" height="2.46" fill="#fefdef"/><rect x="440.02" y="576.4" width="7.28" height="2.46" fill="#fcfcfd"/><rect x="447.25" y="576.4" width="7.28" height="2.46" fill="#fdfada"/><rect x="454.48" y="576.4" width="7.28" height="2.46" fill="#faf2a3"/><rect x="461.71" y="576.4" width="7.28" height="2.46" fill="#fdf9d4"/><rect x="468.94" y="576.4" width="7.28" height="2.46" fill="#faf2a6"/><rect x="476.17" y="576.4" width="7.28" height="2.46" fill="#fcf7c6"/><rect x="338.8" y="578.82" width="7.28" height="2.46" fill="#c9cae2"/><rect x="346.03" y="578.82" width="7.28" height="2.46" fill="#aaacd1"/><rect x="353.26" y="578.82" width="7.28" height="2.46" fill="#dedfed"/><rect x="360.49" y="578.82" width="7.28" height="2.46" fill="#f3f3f8"/><rect x="367.72" y="578.82" width="7.28" height="2.46" fill="#fffefa"/><rect x="374.95" y="578.82" width="7.28" height="2.46" fill="#c9cae2"/><rect x="382.18" y="578.82" width="7.28" height="2.46" fill="#c6c8e1"/><rect x="389.41" y="578.82" width="7.28" height="2.46" fill="#dbdbeb"/><rect x="396.64" y="578.82" width="7.28" height="2.46" fill="#f9fafc"/><rect x="403.87" y="578.82" width="7.28" height="2.46" fill="#f6f6fa"/><rect x="411.1" y="578.82" width="7.28" height="2.46" fill="#ffffff"/><rect x="418.33" y="578.82" width="7.28" height="2.46" fill="#fbf5ba"/><rect x="425.56" y="578.82" width="7.28" height="2.46" fill="#fdfade"/><rect x="432.79" y="578.82" width="7.28" height="2.46" fill="#fefdf0"/><rect x="440.02" y="578.82" width="7.28" height="2.46" fill="#fefceb"/><rect x="447.25" y="578.82" width="7.28" height="2.46" fill="#e4e4f0"/><rect x="454.48" y="578.82" width="7.28" height="2.46" fill="#fbf5b7"/><rect x="461.71" y="578.82" width="7.28" height="2.46" fill="#faf3a9"/><rect x="468.94" y="578.82" width="7.28" height="2.46" fill="#fdfad8"/><rect x="476.17" y="578.82" width="7.28" height="2.46" fill="#fbf6be"/><rect x="338.8" y="581.23" width="7.28" height="2.46" fill="#eff0f7"/><rect x="346.03" y="581.23" width="7.28" height="2.46" fill="#d3d4e7"/><rect x="353.26" y="581.23" width="7.28" height="2.46" fill="#cacbe3"/><rect x="360.49" y="581.23" width="7.28" height="2.46" fill="#fffefb"/><rect x="367.72" y="581.23" width="7.28" height="2.46" fill="#f2f2f8"/><rect x="374.95" y="581.23" width="7.28" height="2.46" fill="#ecedf5"/><rect x="382.18" y="581.23" width="7.28" height="2.46" fill="#bdbfdc"/><rect x="389.41" y="581.23" width="7.28" height="2.46" fill="#fefdf2"/><rect x="396.64" y="581.23" width="7.28" height="2.46" fill="#abadd2"/><rect x="403.87" y="581.23" width="7.28" height="2.46" fill="#dadbeb"/><rect x="411.1" y="581.23" width="7.28" height="2.46" fill="#fcf9d1"/><rect x="418.33" y="581.23" width="7.28" height="2.46" fill="#f9f094"/><rect x="425.56" y="581.23" width="7.28" height="2.46" fill="#fffffd"/><rect x="432.79" y="581.23" width="7.28" height="2.46" fill="#e9e9f3"/><rect x="440.02" y="581.23" width="7.28" height="2.46" fill="#fdf9d7"/><rect x="447.25" y="581.23" width="7.28" height="2.46" fill="#d3d4e8"/><rect x="454.48" y="581.23" width="7.28" height="2.46" fill="#faf2a1"/><rect x="461.71" y="581.23" width="7.28" height="2.46" fill="#fbf5b6"/><rect x="468.94" y="581.23" width="7.28" height="2.46" fill="#fcf6c0"/><rect x="476.17" y="581.23" width="7.28" height="2.46" fill="#faf2a6"/><rect x="338.8" y="583.64" width="7.28" height="2.46" fill="#e7e7f2"/><rect x="346.03" y="583.64" width="7.28" height="2.46" fill="#e1e2ef"/><rect x="353.26" y="583.64" width="7.28" height="2.46" fill="#e7e8f2"/><rect x="360.49" y="583.64" width="7.28" height="2.46" fill="#f0f1f7"/><rect x="367.72" y="583.64" width="7.28" height="2.46" fill="#c5c7e0"/><rect x="374.95" y="583.64" width="7.28" height="2.46" fill="#cdcee4"/><rect x="382.18" y="583.64" width="7.28" height="2.46" fill="#c4c5df"/><rect x="389.41" y="583.64" width="7.28" height="2.46" fill="#f5f5fa"/><rect x="396.64" y="583.64" width="7.28" height="2.46" fill="#cccde3"/><rect x="403.87" y="583.64" width="7.28" height="2.46" fill="#f1f1f7"/><rect x="411.1" y="583.64" width="7.28" height="2.46" fill="#fefdf1"/><rect x="418.33" y="583.64" width="7.28" height="2.46" fill="#fdf9d4"/><rect x="425.56" y="583.64" width="7.28" height="2.46" fill="#f9f097"/><rect x="432.79" y="583.64" width="7.28" height="2.46" fill="#f3f4f9"/><rect x="440.02" y="583.64" width="7.28" height="2.46" fill="#faf3ab"/><rect x="447.25" y="583.64" width="7.28" height="2.46" fill="#fdfadb"/><rect x="454.48" y="583.64" width="7.28" height="2.46" fill="#f9ef8b"/><rect x="461.71" y="583.64" width="7.28" height="2.46" fill="#fdfade"/><rect x="468.94" y="583.64" width="7.28" height="2.46" fill="#f9ef8b"/><rect x="476.17" y="583.64" width="7.28" height="2.46" fill="#faf2a5"/><rect x="338.8" y="586.05" width="7.28" height="2.46" fill="#c6c7e0"/><rect x="346.03" y="586.05" width="7.28" height="2.46" fill="#e8e8f2"/><rect x="353.26" y="586.05" width="7.28" height="2.46" fill="#dcddec"/><rect x="360.49" y="586.05" width="7.28" height="2.46" fill="#cbcce3"/><rect x="367.72" y="586.05" width="7.28" height="2.46" fill="#ffffff"/><rect x="374.95" y="586.05" width="7.28" height="2.46" fill="#babcda"/><rect x="382.18" y="586.05" width="7.28" height="2.46" fill="#a9abd1"/><rect x="389.41" y="586.05" width="7.28" height="2.46" fill="#abadd2"/><rect x="396.64" y="586.05" width="7.28" height="2.46" fill="#d3d4e7"/><rect x="403.87" y="586.05" width="7.28" height="2.46" fill="#d9daea"/><rect x="411.1" y="586.05" width="7.28" height="2.46" fill="#fefceb"/><rect x="418.33" y="586.05" width="7.28" height="2.46" fill="#fbf4b3"/><rect x="425.56" y="586.05" width="7.28" height="2.46" fill="#f8ee89"/><rect x="432.79" y="586.05" width="7.28" height="2.46" fill="#fffef9"/><rect x="440.02" y="586.05" width="7.28" height="2.46" fill="#fcf7c9"/><rect x="447.25" y="586.05" width="7.28" height="2.46" fill="#f7f8fb"/><rect x="454.48" y="586.05" width="7.28" height="2.46" fill="#faf2a1"/><rect x="461.71" y="586.05" width="7.28" height="2.46" fill="#f9ef8f"/><rect x="468.94" y="586.05" width="7.28" height="2.46" fill="#f7ea6c"/><rect x="476.17" y="586.05" width="7.28" height="2.46" fill="#fafafc"/><rect x="338.8" y="588.46" width="7.28" height="2.46" fill="#f1f1f7"/><rect x="346.03" y="588.46" width="7.28" height="2.46" fill="#fefdf2"/><rect x="353.26" y="588.46" width="7.28" height="2.46" fill="#f6f6fa"/><rect x="360.49" y="588.46" width="7.28" height="2.46" fill="#9d9fca"/><rect x="367.72" y="588.46" width="7.28" height="2.46" fill="#d2d3e7"/><rect x="374.95" y="588.46" width="7.28" height="2.46" fill="#e1e2ef"/><rect x="382.18" y="588.46" width="7.28" height="2.46" fill="#e7e8f2"/><rect x="389.41" y="588.46" width="7.28" height="2.46" fill="#c7c8e1"/><rect x="396.64" y="588.46" width="7.28" height="2.46" fill="#c5c6e0"/><rect x="403.87" y="588.46" width="7.28" height="2.46" fill="#fffefa"/><rect x="411.1" y="588.46" width="7.28" height="2.46" fill="#eaebf4"/><rect x="418.33" y="588.46" width="7.28" height="2.46" fill="#f9ef8d"/><rect x="425.56" y="588.46" width="7.28" height="2.46" fill="#fdf9d7"/><rect x="432.79" y="588.46" width="7.28" height="2.46" fill="#fffefa"/><rect x="440.02" y="588.46" width="7.28" height="2.46" fill="#f5f5fa"/><rect x="447.25" y="588.46" width="7.28" height="2.46" fill="#fafafc"/><rect x="454.48" y="588.46" width="7.28" height="2.46" fill="#faf19d"/><rect x="461.71" y="588.46" width="7.28" height="2.46" fill="#fcfcfd"/><rect x="468.94" y="588.46" width="7.28" height="2.46" fill="#f5e64a"/><rect x="476.17" y="588.46" width="7.28" height="2.46" fill="#fefef5"/><rect x="338.8" y="590.88" width="7.28" height="2.46" fill="#b6b8d8"/><rect x="346.03" y="590.88" width="7.28" height="2.46" fill="#e4e4f0"/><rect x="353.26" y="590.88" width="7.28" height="2.46" fill="#f0f0f7"/><rect x="360.49" y="590.88" width="7.28" height="2.46" fill="#e5e5f1"/><rect x="367.72" y="590.88" width="7.28" height="2.46" fill="#d4d5e8"/><rect x="374.95" y="590.88" width="7.28" height="2.46" fill="#cdcee4"/><rect x="382.18" y="590.88" width="7.28" height="2.46" fill="#d8d9ea"/><rect x="389.41" y="590.88" width="7.28" height="2.46" fill="#d2d3e7"/><rect x="396.64" y="590.88" width="7.28" height="2.46" fill="#9396c5"/><rect x="403.87" y="590.88" width="7.28" height="2.46" fill="#fffef6"/><rect x="411.1" y="590.88" width="7.28" height="2.46" fill="#fdfade"/><rect x="418.33" y="590.88" width="7.28" height="2.46" fill="#fcf6c1"/><rect x="425.56" y="590.88" width="7.28" height="2.46" fill="#fefcec"/><rect x="432.79" y="590.88" width="7.28" height="2.46" fill="#fffef8"/><rect x="440.02" y="590.88" width="7.28" height="2.46" fill="#fdfad9"/><rect x="447.25" y="590.88" width="7.28" height="2.46" fill="#fefdf0"/><rect x="454.48" y="590.88" width="7.28" height="2.46" fill="#f8ee85"/><rect x="461.71" y="590.88" width="7.28" height="2.46" fill="#f8f9fb"/><rect x="468.94" y="590.88" width="7.28" height="2.46" fill="#f9f199"/><rect x="476.17" y="590.88" width="7.28" height="2.46" fill="#fdfbe3"/><rect x="338.8" y="593.29" width="7.28" height="2.46" fill="#cecfe5"/><rect x="346.03" y="593.29" width="7.28" height="2.46" fill="#fefef6"/><rect x="353.26" y="593.29" width="7.28" height="2.46" fill="#bfc0dd"/><rect x="360.49" y="593.29" width="7.28" height="2.46" fill="#c9cae2"/><rect x="367.72" y="593.29" width="7.28" height="2.46" fill="#cacbe2"/><rect x="374.95" y="593.29" width="7.28" height="2.46" fill="#ebebf4"/><rect x="382.18" y="593.29" width="7.28" height="2.46" fill="#bebfdc"/><rect x="389.41" y="593.29" width="7.28" height="2.46" fill="#acaed3"/><rect x="396.64" y="593.29" width="7.28" height="2.46" fill="#eeeef6"/><rect x="403.87" y="593.29" width="7.28" height="2.46" fill="#e1e1ef"/><rect x="411.1" y="593.29" width="7.28" height="2.46" fill="#fffef9"/><rect x="418.33" y="593.29" width="7.28" height="2.46" fill="#faf19d"/><rect x="425.56" y="593.29" width="7.28" height="2.46" fill="#fffefa"/><rect x="432.79" y="593.29" width="7.28" height="2.46" fill="#f2f3f8"/><rect x="440.02" y="593.29" width="7.28" height="2.46" fill="#fdf9d7"/><rect x="447.25" y="593.29" width="7.28" height="2.46" fill="#fdfbe2"/><rect x="454.48" y="593.29" width="7.28" height="2.46" fill="#fcf9d1"/><rect x="461.71" y="593.29" width="7.28" height="2.46" fill="#faf29f"/><rect x="468.94" y="593.29" width="7.28" height="2.46" fill="#f5e543"/><rect x="476.17" y="593.29" width="7.28" height="2.46" fill="#fcf8cd"/><rect x="338.8" y="595.7" width="7.28" height="2.46" fill="#fefdf1"/><rect x="346.03" y="595.7" width="7.28" height="2.46" fill="#a0a2cc"/><rect x="353.26" y="595.7" width="7.28" height="2.46" fill="#fffef8"/><rect x="360.49" y="595.7" width="7.28" height="2.46" fill="#c2c3de"/><rect x="367.72" y="595.7" width="7.28" height="2.46" fill="#e0e1ee"/><rect x="374.95" y="595.7" width="7.28" height="2.46" fill="#c6c8e1"/><rect x="382.18" y="595.7" width="7.28" height="2.46" fill="#c9cbe2"/><rect x="389.41" y="595.7" width="7.28" height="2.46" fill="#babbda"/><rect x="396.64" y="595.7" width="7.28" height="2.46" fill="#d5d6e8"/><rect x="403.87" y="595.7" width="7.28" height="2.46" fill="#fefced"/><rect x="411.1" y="595.7" width="7.28" height="2.46" fill="#fbf6bd"/><rect x="418.33" y="595.7" width="7.28" height="2.46" fill="#fdfada"/><rect x="425.56" y="595.7" width="7.28" height="2.46" fill="#fefcec"/><rect x="432.79" y="595.7" width="7.28" height="2.46" fill="#eaebf4"/><rect x="440.02" y="595.7" width="7.28" height="2.46" fill="#f9f9fc"/><rect x="447.25" y="595.7" width="7.28" height="2.46" fill="#faf2a5"/><rect x="454.48" y="595.7" width="7.28" height="2.46" fill="#faf19d"/><rect x="461.71" y="595.7" width="7.28" height="2.46" fill="#fcf7c6"/><rect x="468.94" y="595.7" width="7.28" height="2.46" fill="#fbf6be"/><rect x="476.17" y="595.7" width="7.28" height="2.46" fill="#fefbe5"/><rect x="338.8" y="598.11" width="7.28" height="2.46" fill="#fafafc"/><rect x="346.03" y="598.11" width="7.28" height="2.46" fill="#f3f4f9"/><rect x="353.26" y="598.11" width="7.28" height="2.46" fill="#c1c3de"/><rect x="360.49" y="598.11" width="7.28" height="2.46" fill="#e7e7f2"/><rect x="367.72" y="598.11" width="7.28" height="2.46" fill="#b8bad9"/><rect x="374.95" y="598.11" width="7.28" height="2.46" fill="#e1e1ef"/><rect x="382.18" y="598.11" width="7.28" height="2.46" fill="#bdbedb"/><rect x="389.41" y="598.11" width="7.28" height="2.46" fill="#d1d2e7"/><rect x="396.64" y="598.11" width="7.28" height="2.46" fill="#ececf5"/><rect x="403.87" y="598.11" width="7.28" height="2.46" fill="#f5f5f9"/><rect x="411.1" y="598.11" width="7.28" height="2.46" fill="#fcf7c6"/><rect x="418.33" y="598.11" width="7.28" height="2.46" fill="#fefdf1"/><rect x="425.56" y="598.11" width="7.28" height="2.46" fill="#f9f096"/><rect x="432.79" y="598.11" width="7.28" height="2.46" fill="#fdf9d4"/><rect x="440.02" y="598.11" width="7.28" height="2.46" fill="#fdfbe0"/><rect x="447.25" y="598.11" width="7.28" height="2.46" fill="#fdfbe2"/><rect x="454.48" y="598.11" width="7.28" height="2.46" fill="#fdfadf"/><rect x="461.71" y="598.11" width="7.28" height="2.46" fill="#fdf9d5"/><rect x="468.94" y="598.11" width="7.28" height="2.46" fill="#fefbe4"/><rect x="476.17" y="598.11" width="7.28" height="2.46" fill="#fbf5ba"/><rect x="338.8" y="600.52" width="7.28" height="2.46" fill="#dbdcec"/><rect x="346.03" y="600.52" width="7.28" height="2.46" fill="#fffffd"/><rect x="353.26" y="600.52" width="7.28" height="2.46" fill="#f7f7fb"/><rect x="360.49" y="600.52" width="7.28" height="2.46" fill="#e1e2ef"/><rect x="367.72" y="600.52" width="7.28" height="2.46" fill="#cfd0e5"/><rect x="374.95" y="600.52" width="7.28" height="2.46" fill="#c7c8e1"/><rect x="382.18" y="600.52" width="7.28" height="2.46" fill="#cfd0e5"/><rect x="389.41" y="600.52" width="7.28" height="2.46" fill="#e4e4f0"/><rect x="396.64" y="600.52" width="7.28" height="2.46" fill="#a2a4cd"/><rect x="403.87" y="600.52" width="7.28" height="2.46" fill="#fdfdfe"/><rect x="411.1" y="600.52" width="7.28" height="2.46" fill="#e2e3ef"/><rect x="418.33" y="600.52" width="7.28" height="2.46" fill="#fefbe5"/><rect x="425.56" y="600.52" width="7.28" height="2.46" fill="#fdfada"/><rect x="432.79" y="600.52" width="7.28" height="2.46" fill="#ededf5"/><rect x="440.02" y="600.52" width="7.28" height="2.46" fill="#f9f198"/><rect x="447.25" y="600.52" width="7.28" height="2.46" fill="#fffef8"/><rect x="454.48" y="600.52" width="7.28" height="2.46" fill="#f8ec78"/><rect x="461.71" y="600.52" width="7.28" height="2.46" fill="#faf19c"/><rect x="468.94" y="600.52" width="7.28" height="2.46" fill="#fcf7c3"/><rect x="476.17" y="600.52" width="7.28" height="2.46" fill="#faf3ad"/><rect x="338.8" y="602.93" width="7.28" height="2.46" fill="#fefdf4"/><rect x="346.03" y="602.93" width="7.28" height="2.46" fill="#e1e2ef"/><rect x="353.26" y="602.93" width="7.28" height="2.46" fill="#ededf5"/><rect x="360.49" y="602.93" width="7.28" height="2.46" fill="#cfd0e5"/><rect x="367.72" y="602.93" width="7.28" height="2.46" fill="#eaebf4"/><rect x="374.95" y="602.93" width="7.28" height="2.46" fill="#d7d8ea"/><rect x="382.18" y="602.93" width="7.28" height="2.46" fill="#ebebf4"/><rect x="389.41" y="602.93" width="7.28" height="2.46" fill="#fffef9"/><rect x="396.64" y="602.93" width="7.28" height="2.46" fill="#fefcea"/><rect x="403.87" y="602.93" width="7.28" height="2.46" fill="#f5f5f9"/><rect x="411.1" y="602.93" width="7.28" height="2.46" fill="#fefdf0"/><rect x="418.33" y="602.93" width="7.28" height="2.46" fill="#fcf6c2"/><rect x="425.56" y="602.93" width="7.28" height="2.46" fill="#fffef7"/><rect x="432.79" y="602.93" width="7.28" height="2.46" fill="#dfdfee"/><rect x="440.02" y="602.93" width="7.28" height="2.46" fill="#fcf6c1"/><rect x="447.25" y="602.93" width="7.28" height="2.46" fill="#ebecf4"/><rect x="454.48" y="602.93" width="7.28" height="2.46" fill="#fbf5b4"/><rect x="461.71" y="602.93" width="7.28" height="2.46" fill="#f9f9fc"/><rect x="468.94" y="602.93" width="7.28" height="2.46" fill="#f8ed81"/><rect x="476.17" y="602.93" width="7.28" height="2.46" fill="#fdfdfe"/><rect x="338.8" y="605.35" width="7.28" height="2.46" fill="#ffffff"/><rect x="346.03" y="605.35" width="7.28" height="2.46" fill="#fdfbe1"/><rect x="353.26" y="605.35" width="7.28" height="2.46" fill="#d3d4e7"/><rect x="360.49" y="605.35" width="7.28" height="2.46" fill="#fefdf1"/><rect x="367.72" y="605.35" width="7.28" height="2.46" fill="#d5d6e8"/><rect x="374.95" y="605.35" width="7.28" height="2.46" fill="#b1b3d5"/><rect x="382.18" y="605.35" width="7.28" height="2.46" fill="#fefeff"/><rect x="389.41" y="605.35" width="7.28" height="2.46" fill="#fffffe"/><rect x="396.64" y="605.35" width="7.28" height="2.46" fill="#e9e9f3"/><rect x="403.87" y="605.35" width="7.28" height="2.46" fill="#aaacd2"/><rect x="411.1" y="605.35" width="7.28" height="2.46" fill="#fefef5"/><rect x="418.33" y="605.35" width="7.28" height="2.46" fill="#fefcec"/><rect x="425.56" y="605.35" width="7.28" height="2.46" fill="#fefef5"/><rect x="432.79" y="605.35" width="7.28" height="2.46" fill="#f8f8fb"/><rect x="440.02" y="605.35" width="7.28" height="2.46" fill="#e0e1ee"/><rect x="447.25" y="605.35" width="7.28" height="2.46" fill="#f9f9fc"/><rect x="454.48" y="605.35" width="7.28" height="2.46" fill="#f8ee87"/><rect x="461.71" y="605.35" width="7.28" height="2.46" fill="#faf19e"/><rect x="468.94" y="605.35" width="7.28" height="2.46" fill="#fdfadb"/><rect x="476.17" y="605.35" width="7.28" height="2.46" fill="#fefdf2"/><rect x="338.8" y="607.76" width="7.28" height="2.46" fill="#f0f1f7"/><rect x="346.03" y="607.76" width="7.28" height="2.46" fill="#fffef8"/><rect x="353.26" y="607.76" width="7.28" height="2.46" fill="#fdfdfe"/><rect x="360.49" y="607.76" width="7.28" height="2.46" fill="#bcbddb"/><rect x="367.72" y="607.76" width="7.28" height="2.46" fill="#ecedf5"/><rect x="374.95" y="607.76" width="7.28" height="2.46" fill="#e5e5f1"/><rect x="382.18" y="607.76" width="7.28" height="2.46" fill="#fefced"/><rect x="389.41" y="607.76" width="7.28" height="2.46" fill="#fefdf3"/><rect x="396.64" y="607.76" width="7.28" height="2.46" fill="#f8f8fb"/><rect x="403.87" y="607.76" width="7.28" height="2.46" fill="#fefce9"/><rect x="411.1" y="607.76" width="7.28" height="2.46" fill="#fbfbfd"/><rect x="418.33" y="607.76" width="7.28" height="2.46" fill="#faf2a5"/><rect x="425.56" y="607.76" width="7.28" height="2.46" fill="#fffffc"/><rect x="432.79" y="607.76" width="7.28" height="2.46" fill="#fffef9"/><rect x="440.02" y="607.76" width="7.28" height="2.46" fill="#fcf8cb"/><rect x="447.25" y="607.76" width="7.28" height="2.46" fill="#ebecf4"/><rect x="454.48" y="607.76" width="7.28" height="2.46" fill="#fffef8"/><rect x="461.71" y="607.76" width="7.28" height="2.46" fill="#e3e4f0"/><rect x="468.94" y="607.76" width="7.28" height="2.46" fill="#fcf8cc"/><rect x="476.17" y="607.76" width="7.28" height="2.46" fill="#fdfbdf"/><rect x="338.8" y="610.17" width="7.28" height="2.46" fill="#dedfed"/><rect x="346.03" y="610.17" width="7.28" height="2.46" fill="#f9f9fc"/><rect x="353.26" y="610.17" width="7.28" height="2.46" fill="#acaed3"/><rect x="360.49" y="610.17" width="7.28" height="2.46" fill="#e0e0ee"/><rect x="367.72" y="610.17" width="7.28" height="2.46" fill="#ececf5"/><rect x="374.95" y="610.17" width="7.28" height="2.46" fill="#dbdcec"/><rect x="382.18" y="610.17" width="7.28" height="2.46" fill="#fefefe"/><rect x="389.41" y="610.17" width="7.28" height="2.46" fill="#fdfadb"/><rect x="396.64" y="610.17" width="7.28" height="2.46" fill="#dfe0ee"/><rect x="403.87" y="610.17" width="7.28" height="2.46" fill="#d8d8ea"/><rect x="411.1" y="610.17" width="7.28" height="2.46" fill="#f7f7fb"/><rect x="418.33" y="610.17" width="7.28" height="2.46" fill="#fdfbe0"/><rect x="425.56" y="610.17" width="7.28" height="2.46" fill="#fdf9d3"/><rect x="432.79" y="610.17" width="7.28" height="2.46" fill="#e5e6f1"/><rect x="440.02" y="610.17" width="7.28" height="2.46" fill="#fcf7c5"/><rect x="447.25" y="610.17" width="7.28" height="2.46" fill="#eaeaf4"/><rect x="454.48" y="610.17" width="7.28" height="2.46" fill="#fbf5b7"/><rect x="461.71" y="610.17" width="7.28" height="2.46" fill="#fdf9d3"/><rect x="468.94" y="610.17" width="7.28" height="2.46" fill="#fbf6bd"/><rect x="476.17" y="610.17" width="7.28" height="2.46" fill="#f8ed7c"/><rect x="338.8" y="612.58" width="7.28" height="2.46" fill="#e1e2ef"/><rect x="346.03" y="612.58" width="7.28" height="2.46" fill="#e9e9f3"/><rect x="353.26" y="612.58" width="7.28" height="2.46" fill="#fafafc"/><rect x="360.49" y="612.58" width="7.28" height="2.46" fill="#f9f9fc"/><rect x="367.72" y="612.58" width="7.28" height="2.46" fill="#c4c5df"/><rect x="374.95" y="612.58" width="7.28" height="2.46" fill="#ececf5"/><rect x="382.18" y="612.58" width="7.28" height="2.46" fill="#d6d7e9"/><rect x="389.41" y="612.58" width="7.28" height="2.46" fill="#fdfdfe"/><rect x="396.64" y="612.58" width="7.28" height="2.46" fill="#fefce8"/><rect x="403.87" y="612.58" width="7.28" height="2.46" fill="#f5f5fa"/><rect x="411.1" y="612.58" width="7.28" height="2.46" fill="#fffef8"/><rect x="418.33" y="612.58" width="7.28" height="2.46" fill="#fdfada"/><rect x="425.56" y="612.58" width="7.28" height="2.46" fill="#bec0dc"/><rect x="432.79" y="612.58" width="7.28" height="2.46" fill="#fefbe6"/><rect x="440.02" y="612.58" width="7.28" height="2.46" fill="#fdf9d5"/><rect x="447.25" y="612.58" width="7.28" height="2.46" fill="#fefdf1"/><rect x="454.48" y="612.58" width="7.28" height="2.46" fill="#fefce8"/><rect x="461.71" y="612.58" width="7.28" height="2.46" fill="#fffffd"/><rect x="468.94" y="612.58" width="7.28" height="2.46" fill="#fdf9d6"/><rect x="476.17" y="612.58" width="7.28" height="2.46" fill="#faf2a4"/><rect x="338.8" y="614.99" width="7.28" height="2.46" fill="#e9eaf3"/><rect x="346.03" y="614.99" width="7.28" height="2.46" fill="#fdfbe3"/><rect x="353.26" y="614.99" width="7.28" height="2.46" fill="#a4a6ce"/><rect x="360.49" y="614.99" width="7.28" height="2.46" fill="#d8d9ea"/><rect x="367.72" y="614.99" width="7.28" height="2.46" fill="#f6f6fa"/><rect x="374.95" y="614.99" width="7.28" height="2.46" fill="#e7e8f2"/><rect x="382.18" y="614.99" width="7.28" height="2.46" fill="#bebfdc"/><rect x="389.41" y="614.99" width="7.28" height="2.46" fill="#dedfed"/><rect x="396.64" y="614.99" width="7.28" height="2.46" fill="#fefce7"/><rect x="403.87" y="614.99" width="7.28" height="2.46" fill="#d3d4e7"/><rect x="411.1" y="614.99" width="7.28" height="2.46" fill="#f2f2f8"/><rect x="418.33" y="614.99" width="7.28" height="2.46" fill="#fbfbfd"/><rect x="425.56" y="614.99" width="7.28" height="2.46" fill="#fffef8"/><rect x="432.79" y="614.99" width="7.28" height="2.46" fill="#fefce6"/><rect x="440.02" y="614.99" width="7.28" height="2.46" fill="#fcf8ce"/><rect x="447.25" y="614.99" width="7.28" height="2.46" fill="#d2d3e7"/><rect x="454.48" y="614.99" width="7.28" height="2.46" fill="#f9f093"/><rect x="461.71" y="614.99" width="7.28" height="2.46" fill="#fefdf4"/><rect x="468.94" y="614.99" width="7.28" height="2.46" fill="#fdfbe1"/><rect x="476.17" y="614.99" width="7.28" height="2.46" fill="#f9ef8a"/><rect x="338.8" y="617.41" width="7.28" height="2.46" fill="#e6e7f2"/><rect x="346.03" y="617.41" width="7.28" height="2.46" fill="#c9cae2"/><rect x="353.26" y="617.41" width="7.28" height="2.46" fill="#dbdcec"/><rect x="360.49" y="617.41" width="7.28" height="2.46" fill="#cccee4"/><rect x="367.72" y="617.41" width="7.28" height="2.46" fill="#cecfe4"/><rect x="374.95" y="617.41" width="7.28" height="2.46" fill="#dadbeb"/><rect x="382.18" y="617.41" width="7.28" height="2.46" fill="#fffffd"/><rect x="389.41" y="617.41" width="7.28" height="2.46" fill="#f6f6fa"/><rect x="396.64" y="617.41" width="7.28" height="2.46" fill="#c5c6e0"/><rect x="403.87" y="617.41" width="7.28" height="2.46" fill="#faf2a2"/><rect x="411.1" y="617.41" width="7.28" height="2.46" fill="#eeeff6"/><rect x="418.33" y="617.41" width="7.28" height="2.46" fill="#fdfade"/><rect x="425.56" y="617.41" width="7.28" height="2.46" fill="#fefce7"/><rect x="432.79" y="617.41" width="7.28" height="2.46" fill="#fefce7"/><rect x="440.02" y="617.41" width="7.28" height="2.46" fill="#fffef8"/><rect x="447.25" y="617.41" width="7.28" height="2.46" fill="#fefce6"/><rect x="454.48" y="617.41" width="7.28" height="2.46" fill="#f8ed7c"/><rect x="461.71" y="617.41" width="7.28" height="2.46" fill="#fdfade"/><rect x="468.94" y="617.41" width="7.28" height="2.46" fill="#fffef9"/><rect x="476.17" y="617.41" width="7.28" height="2.46" fill="#fcf8cb"/><rect x="338.8" y="619.82" width="7.28" height="2.46" fill="#d5d6e8"/><rect x="346.03" y="619.82" width="7.28" height="2.46" fill="#e6e6f1"/><rect x="353.26" y="619.82" width="7.28" height="2.46" fill="#f5f5fa"/><rect x="360.49" y="619.82" width="7.28" height="2.46" fill="#eeeff6"/><rect x="367.72" y="619.82" width="7.28" height="2.46" fill="#e6e7f2"/><rect x="374.95" y="619.82" width="7.28" height="2.46" fill="#fdfdfe"/><rect x="382.18" y="619.82" width="7.28" height="2.46" fill="#e9e9f3"/><rect x="389.41" y="619.82" width="7.28" height="2.46" fill="#cbcce3"/><rect x="396.64" y="619.82" width="7.28" height="2.46" fill="#fffef6"/><rect x="403.87" y="619.82" width="7.28" height="2.46" fill="#ededf5"/><rect x="411.1" y="619.82" width="7.28" height="2.46" fill="#fbf6bf"/><rect x="418.33" y="619.82" width="7.28" height="2.46" fill="#fffef7"/><rect x="425.56" y="619.82" width="7.28" height="2.46" fill="#fcf8cc"/><rect x="432.79" y="619.82" width="7.28" height="2.46" fill="#fefdf4"/><rect x="440.02" y="619.82" width="7.28" height="2.46" fill="#c7c8e1"/><rect x="447.25" y="619.82" width="7.28" height="2.46" fill="#e1e2ef"/><rect x="454.48" y="619.82" width="7.28" height="2.46" fill="#fffffe"/><rect x="461.71" y="619.82" width="7.28" height="2.46" fill="#faf2a1"/><rect x="468.94" y="619.82" width="7.28" height="2.46" fill="#f3f3f9"/><rect x="476.17" y="619.82" width="7.28" height="2.46" fill="#faf3ac"/><rect x="338.8" y="622.23" width="7.28" height="2.46" fill="#fefdf4"/><rect x="346.03" y="622.23" width="7.28" height="2.46" fill="#fdfdfe"/><rect x="353.26" y="622.23" width="7.28" height="2.46" fill="#fffffd"/><rect x="360.49" y="622.23" width="7.28" height="2.46" fill="#d7d8ea"/><rect x="367.72" y="622.23" width="7.28" height="2.46" fill="#eeeff6"/><rect x="374.95" y="622.23" width="7.28" height="2.46" fill="#eeeef6"/><rect x="382.18" y="622.23" width="7.28" height="2.46" fill="#f9fafc"/><rect x="389.41" y="622.23" width="7.28" height="2.46" fill="#fffffb"/><rect x="396.64" y="622.23" width="7.28" height="2.46" fill="#ebebf4"/><rect x="403.87" y="622.23" width="7.28" height="2.46" fill="#e4e4f0"/><rect x="411.1" y="622.23" width="7.28" height="2.46" fill="#fdfdfe"/><rect x="418.33" y="622.23" width="7.28" height="2.46" fill="#fcf8cc"/><rect x="425.56" y="622.23" width="7.28" height="2.46" fill="#e8e9f3"/><rect x="432.79" y="622.23" width="7.28" height="2.46" fill="#dfe0ee"/><rect x="440.02" y="622.23" width="7.28" height="2.46" fill="#fffef6"/><rect x="447.25" y="622.23" width="7.28" height="2.46" fill="#fbfbfd"/><rect x="454.48" y="622.23" width="7.28" height="2.46" fill="#fdfade"/><rect x="461.71" y="622.23" width="7.28" height="2.46" fill="#d0d1e6"/><rect x="468.94" y="622.23" width="7.28" height="2.46" fill="#fdf9d7"/><rect x="476.17" y="622.23" width="7.28" height="2.46" fill="#fdfadd"/><rect x="338.8" y="624.64" width="7.28" height="2.46" fill="#fcfcfd"/><rect x="346.03" y="624.64" width="7.28" height="2.46" fill="#b1b2d5"/><rect x="353.26" y="624.64" width="7.28" height="2.46" fill="#e3e4f0"/><rect x="360.49" y="624.64" width="7.28" height="2.46" fill="#eeeef6"/><rect x="367.72" y="624.64" width="7.28" height="2.46" fill="#f6f7fa"/><rect x="374.95" y="624.64" width="7.28" height="2.46" fill="#fffffc"/><rect x="382.18" y="624.64" width="7.28" height="2.46" fill="#fffef9"/><rect x="389.41" y="624.64" width="7.28" height="2.46" fill="#cdcee4"/><rect x="396.64" y="624.64" width="7.28" height="2.46" fill="#fcfcfd"/><rect x="403.87" y="624.64" width="7.28" height="2.46" fill="#e9e9f3"/><rect x="411.1" y="624.64" width="7.28" height="2.46" fill="#f2f2f8"/><rect x="418.33" y="624.64" width="7.28" height="2.46" fill="#faf2a3"/><rect x="425.56" y="624.64" width="7.28" height="2.46" fill="#fefefe"/><rect x="432.79" y="624.64" width="7.28" height="2.46" fill="#e5e6f1"/><rect x="440.02" y="624.64" width="7.28" height="2.46" fill="#fffffc"/><rect x="447.25" y="624.64" width="7.28" height="2.46" fill="#eeeff6"/><rect x="454.48" y="624.64" width="7.28" height="2.46" fill="#fbf4b0"/><rect x="461.71" y="624.64" width="7.28" height="2.46" fill="#fdf9d5"/><rect x="468.94" y="624.64" width="7.28" height="2.46" fill="#f9f093"/><rect x="476.17" y="624.64" width="7.28" height="2.46" fill="#fcf7c9"/><rect x="338.8" y="627.05" width="7.28" height="2.46" fill="#d9d9ea"/><rect x="346.03" y="627.05" width="7.28" height="2.46" fill="#fefdf2"/><rect x="353.26" y="627.05" width="7.28" height="2.46" fill="#dcddec"/><rect x="360.49" y="627.05" width="7.28" height="2.46" fill="#d6d7e9"/><rect x="367.72" y="627.05" width="7.28" height="2.46" fill="#e8e8f2"/><rect x="374.95" y="627.05" width="7.28" height="2.46" fill="#e7e7f2"/><rect x="382.18" y="627.05" width="7.28" height="2.46" fill="#fefdf0"/><rect x="389.41" y="627.05" width="7.28" height="2.46" fill="#dddeed"/><rect x="396.64" y="627.05" width="7.28" height="2.46" fill="#f8f8fb"/><rect x="403.87" y="627.05" width="7.28" height="2.46" fill="#f4f4f9"/><rect x="411.1" y="627.05" width="7.28" height="2.46" fill="#e8e9f3"/><rect x="418.33" y="627.05" width="7.28" height="2.46" fill="#f9fafc"/><rect x="425.56" y="627.05" width="7.28" height="2.46" fill="#fefdef"/><rect x="432.79" y="627.05" width="7.28" height="2.46" fill="#fefdf2"/><rect x="440.02" y="627.05" width="7.28" height="2.46" fill="#fdfadd"/><rect x="447.25" y="627.05" width="7.28" height="2.46" fill="#fdfbe3"/><rect x="454.48" y="627.05" width="7.28" height="2.46" fill="#fdf9d4"/><rect x="461.71" y="627.05" width="7.28" height="2.46" fill="#fefdf1"/><rect x="468.94" y="627.05" width="7.28" height="2.46" fill="#fbf5ba"/><rect x="476.17" y="627.05" width="7.28" height="2.46" fill="#fffffd"/><rect x="338.8" y="629.46" width="7.28" height="2.46" fill="#cccde4"/><rect x="346.03" y="629.46" width="7.28" height="2.46" fill="#eeeef6"/><rect x="353.26" y="629.46" width="7.28" height="2.46" fill="#cecfe5"/><rect x="360.49" y="629.46" width="7.28" height="2.46" fill="#dddeed"/><rect x="367.72" y="629.46" width="7.28" height="2.46" fill="#e0e0ee"/><rect x="374.95" y="629.46" width="7.28" height="2.46" fill="#dedfed"/><rect x="382.18" y="629.46" width="7.28" height="2.46" fill="#f3f3f9"/><rect x="389.41" y="629.46" width="7.28" height="2.46" fill="#e0e1ef"/><rect x="396.64" y="629.46" width="7.28" height="2.46" fill="#ebecf4"/><rect x="403.87" y="629.46" width="7.28" height="2.46" fill="#cdcee4"/><rect x="411.1" y="629.46" width="7.28" height="2.46" fill="#fdfbe1"/><rect x="418.33" y="629.46" width="7.28" height="2.46" fill="#fffef6"/><rect x="425.56" y="629.46" width="7.28" height="2.46" fill="#fcf7c9"/><rect x="432.79" y="629.46" width="7.28" height="2.46" fill="#b7b8d8"/><rect x="440.02" y="629.46" width="7.28" height="2.46" fill="#fffffc"/><rect x="447.25" y="629.46" width="7.28" height="2.46" fill="#fdfbe0"/><rect x="454.48" y="629.46" width="7.28" height="2.46" fill="#e4e4f0"/><rect x="461.71" y="629.46" width="7.28" height="2.46" fill="#fdfbe2"/><rect x="468.94" y="629.46" width="7.28" height="2.46" fill="#fbf5bb"/><rect x="476.17" y="629.46" width="7.28" height="2.46" fill="#fcf7c5"/><rect x="338.8" y="631.88" width="7.28" height="2.46" fill="#bdbfdc"/><rect x="346.03" y="631.88" width="7.28" height="2.46" fill="#f4f4f9"/><rect x="353.26" y="631.88" width="7.28" height="2.46" fill="#f2f2f8"/><rect x="360.49" y="631.88" width="7.28" height="2.46" fill="#c6c7e0"/><rect x="367.72" y="631.88" width="7.28" height="2.46" fill="#ffffff"/><rect x="374.95" y="631.88" width="7.28" height="2.46" fill="#e4e4f0"/><rect x="382.18" y="631.88" width="7.28" height="2.46" fill="#ecedf5"/><rect x="389.41" y="631.88" width="7.28" height="2.46" fill="#e1e2ef"/><rect x="396.64" y="631.88" width="7.28" height="2.46" fill="#fcfcfd"/><rect x="403.87" y="631.88" width="7.28" height="2.46" fill="#f7f7fb"/><rect x="411.1" y="631.88" width="7.28" height="2.46" fill="#fcf7c5"/><rect x="418.33" y="631.88" width="7.28" height="2.46" fill="#fcf8ce"/><rect x="425.56" y="631.88" width="7.28" height="2.46" fill="#fffffe"/><rect x="432.79" y="631.88" width="7.28" height="2.46" fill="#f9f9fc"/><rect x="440.02" y="631.88" width="7.28" height="2.46" fill="#fcf7c4"/><rect x="447.25" y="631.88" width="7.28" height="2.46" fill="#fdfdfe"/><rect x="454.48" y="631.88" width="7.28" height="2.46" fill="#fcf7c7"/><rect x="461.71" y="631.88" width="7.28" height="2.46" fill="#fcf8cb"/><rect x="468.94" y="631.88" width="7.28" height="2.46" fill="#fdf9d4"/><rect x="476.17" y="631.88" width="7.28" height="2.46" fill="#dedeed"/><rect x="338.8" y="634.29" width="7.28" height="2.46" fill="#e9e9f3"/><rect x="346.03" y="634.29" width="7.28" height="2.46" fill="#eff0f7"/><rect x="353.26" y="634.29" width="7.28" height="2.46" fill="#ededf5"/><rect x="360.49" y="634.29" width="7.28" height="2.46" fill="#c7c9e1"/><rect x="367.72" y="634.29" width="7.28" height="2.46" fill="#fefef6"/><rect x="374.95" y="634.29" width="7.28" height="2.46" fill="#dcddec"/><rect x="382.18" y="634.29" width="7.28" height="2.46" fill="#d5d6e8"/><rect x="389.41" y="634.29" width="7.28" height="2.46" fill="#d5d6e8"/><rect x="396.64" y="634.29" width="7.28" height="2.46" fill="#f3f3f9"/><rect x="403.87" y="634.29" width="7.28" height="2.46" fill="#d0d2e6"/><rect x="411.1" y="634.29" width="7.28" height="2.46" fill="#eaebf4"/><rect x="418.33" y="634.29" width="7.28" height="2.46" fill="#f9f091"/><rect x="425.56" y="634.29" width="7.28" height="2.46" fill="#fbf5b7"/><rect x="432.79" y="634.29" width="7.28" height="2.46" fill="#fdfbe0"/><rect x="440.02" y="634.29" width="7.28" height="2.46" fill="#fbf5b8"/><rect x="447.25" y="634.29" width="7.28" height="2.46" fill="#fefbe6"/><rect x="454.48" y="634.29" width="7.28" height="2.46" fill="#ebebf4"/><rect x="461.71" y="634.29" width="7.28" height="2.46" fill="#fbf5b5"/><rect x="468.94" y="634.29" width="7.28" height="2.46" fill="#faf19e"/><rect x="476.17" y="634.29" width="7.28" height="2.46" fill="#fcf7c9"/></g>
<path d="M337.9 293.02H333.87V295.43H337.9M337.9 297.84H332.77V300.25H337.9M333.87 294.22H330.51V299.05H332.77M337.9 290.61H329.37V296.64H330.51M337.9 302.66H332.87V305.08H337.9M337.9 307.49H333.42V309.9H337.9M332.87 303.87H329.31V308.69H333.42M337.9 314.72H332.33V317.14H337.9M337.9 312.31H330.88V315.93H332.33M329.31 306.28H327.71V314.12H330.88M329.37 293.62H324.65V310.2H327.71M324.65 301.91H324.05V319.55H337.9M337.9 321.96H332.58V324.37H337.9M337.9 326.78H333.76V329.19H337.9M333.76 327.99H332.14V331.61H337.9M332.58 323.17H328.54V329.8H332.14M324.05 310.73H323.45V326.48H328.54M337.9 338.84H332.49V341.25H337.9M337.9 336.43H331.81V340.05H332.49M337.9 334.02H329.49V338.24H331.81M329.49 336.13H328.89V343.67H337.9M328.89 339.9H327.9V346.08H337.9M327.9 342.99H327.1V348.49H337.9M327.1 345.74H326.5V350.9H337.9M337.9 353.31H332.8V355.72H337.9M332.8 354.52H330.86V358.14H337.9M337.9 360.55H332.34V362.96H337.9M337.9 367.78H333.69V370.2H337.9M337.9 365.37H331.66V368.99H333.69M332.34 361.75H329.13V367.18H331.66M330.86 356.33H327.34V364.47H329.13M327.34 360.4H326.19V372.61H337.9M326.5 348.32H323.89V366.5H326.19M323.45 318.61H320.88V357.41H323.89M337.9 375.02H332.49V377.43H337.9M332.49 376.23H330.58V379.84H337.9M330.58 378.03H329.98V382.25H337.9M337.9 384.67H333.58V387.08H337.9M337.9 391.9H333.84V394.31H337.9M337.9 389.49H331.34V393.11H333.84M333.58 385.87H329.56V391.3H331.34M329.98 380.14H326.7V388.59H329.56M337.9 399.14H333.82V401.55H337.9M337.9 396.73H330.71V400.34H333.82M337.9 403.96H332.49V406.37H337.9M337.9 411.2H332.35V413.61H337.9M337.9 416.02H333.06V418.43H337.9M332.35 412.4H330.9V417.23H333.06M337.9 408.78H329.58V414.81H330.9M332.49 405.17H327.61V411.8H329.58M330.71 398.53H325.92V408.48H327.61M326.7 384.36H323.28V403.51H325.92M320.88 338.01H319.5V393.94H323.28M319.5 365.97H314.5V420.84H329.9M337.9 420.84H329.9M337.9 423.26H333.05V425.67H337.9M337.9 430.49H332.35V432.9H337.9M332.35 431.7H330.78V435.31H337.9M337.9 428.08H329.34V433.51H330.78M329.34 430.79H328.74V437.73H337.9M333.05 424.46H325.5V434.26H328.74M337.9 630.67H332.8V633.08H337.9M337.9 623.44H333.03V625.85H337.9M333.03 624.64H331.27V628.26H337.9M331.27 626.45H330.47V631.88H332.8M337.9 611.38H333.26V613.79H337.9M333.26 612.58H331.64V616.2H337.9M331.64 614.39H330.23V618.61H337.9M330.23 616.5H328.38V621.02H337.9M328.38 618.76H327.58V629.16H330.47M337.9 599.32H332.49V601.73H337.9M337.9 604.14H332.61V606.55H337.9M332.49 600.52H329.46V605.35H332.61M329.46 602.93H328.86V608.96H337.9M328.86 605.95H327.33V623.96H327.58M337.9 582.43H332.79V584.85H337.9M332.79 583.64H330.98V587.26H337.9M337.9 594.49H332.84V596.91H337.9M337.9 592.08H332.01V595.7H332.84M337.9 589.67H329.91V593.89H332.01M330.98 585.45H328.42V591.78H329.91M328.42 588.61H327.08V614.96H327.33M337.9 570.38H332.8V572.79H337.9M332.8 571.58H331.44V575.2H337.9M331.44 573.39H329.83V577.61H337.9M329.83 575.5H329.21V580.02H337.9M337.9 567.96H328.22V577.76H329.21M328.22 572.86H326.83V601.79H327.08M337.9 560.73H332.71V563.14H337.9M332.71 561.93H330.78V565.55H337.9M330.78 563.74H326.58V587.32H326.83M337.9 543.85H333.52V546.26H337.9M333.52 545.05H331.14V548.67H337.9M337.9 551.08H333.33V553.49H337.9M333.33 552.29H332.04V555.9H337.9M331.14 546.86H327.58V554.1H332.04M327.58 550.48H326.98V558.32H337.9M326.98 554.4H326.18V575.53H326.58M337.9 534.2H333.78V536.61H337.9M333.78 535.4H330.87V539.02H337.9M330.87 537.21H329.84V541.43H337.9M329.84 539.32H325.93V564.97H326.18M337.9 526.96H333.48V529.37H337.9M333.48 528.17H330.8V531.79H337.9M330.8 529.98H325.68V552.14H325.93M337.9 519.73H333.06V522.14H337.9M333.06 520.93H331.38V524.55H337.9M331.38 522.74H325.43V541.06H325.68M337.9 507.67H332.3V510.08H337.9M337.9 514.9H332.42V517.32H337.9M337.9 512.49H331.3V516.11H332.42M332.3 508.87H329.1V514.3H331.3M329.1 511.59H325.18V531.9H325.43M337.9 495.61H332.6V498.02H337.9M337.9 502.84H332.82V505.26H337.9M337.9 500.43H331.9V504.05H332.82M332.6 496.82H328.88V502.24H331.9M328.88 499.53H324.93V521.74H325.18M337.9 490.79H332.88V493.2H337.9M337.9 488.37H330.82V491.99H332.88M330.82 490.18H324.68V510.64H324.93M337.9 481.14H333.38V483.55H337.9M337.9 478.73H331.57V482.34H333.38M331.57 480.54H329.52V485.96H337.9M329.52 483.25H324.43V500.41H324.68M337.9 461.84H333.65V464.26H337.9M337.9 466.67H333.5V469.08H337.9M333.65 463.05H330.74V467.87H333.5M337.9 459.43H329.36V465.46H330.74M337.9 471.49H333.18V473.9H337.9M333.18 472.7H332V476.31H337.9M329.36 462.45H327.27V474.51H332M327.27 468.48H324.18V491.83H324.43M337.9 449.79H333.18V452.2H337.9M337.9 447.37H331.38V450.99H333.18M331.38 449.18H329.62V454.61H337.9M329.62 451.9H328.72V457.02H337.9M328.72 454.46H323.93V480.15H324.18M337.9 442.55H333.89V444.96H337.9M337.9 440.14H331.94V443.76H333.89M331.94 441.95H323.68V467.31H323.93M325.5 429.36H323.6V454.63H323.68M337.9 635.49H327.9M323.6 441.99H318.8V635.49H327.9M314.5 393.41H303.2V538.74H318.8" fill="none" stroke="#707070" stroke-width="0.65"/>
<text x="343.4" y="263.8" font-size="7.7" textLength="71.6" lengthAdjust="spacingAndGlyphs"><tspan>CXCR4</tspan><tspan font-size="6.01" dy="-2.93">bright</tspan><tspan dy="2.93">CD5</tspan><tspan font-size="6.01" dy="-2.93">dim</tspan></text>
<line x1="344.1" y1="268.4" x2="414.6" y2="268.4" stroke="#7d72b6" stroke-width="1.1"/>
<text x="420.7" y="263.8" font-size="7.7" textLength="70.8" lengthAdjust="spacingAndGlyphs"><tspan>CXCR4</tspan><tspan font-size="6.01" dy="-2.93">dim</tspan><tspan dy="2.93">CD5</tspan><tspan font-size="6.01" dy="-2.93">bright</tspan></text>
<line x1="420.2" y1="268.4" x2="491.5" y2="268.4" stroke="#5ea5e0" stroke-width="1.1"/>
<text transform="translate(339.4,287) rotate(-45)" font-size="6.3" textLength="15.9" lengthAdjust="spacingAndGlyphs" stroke="#000" stroke-width="0.12">CLL 1</text>
<text transform="translate(346.63,287) rotate(-45)" font-size="6.3" textLength="15.9" lengthAdjust="spacingAndGlyphs" stroke="#000" stroke-width="0.12">CLL 2</text>
<text transform="translate(353.86,287) rotate(-45)" font-size="6.3" textLength="15.9" lengthAdjust="spacingAndGlyphs" stroke="#000" stroke-width="0.12">CLL 3</text>
<text transform="translate(361.09,287) rotate(-45)" font-size="6.3" textLength="15.9" lengthAdjust="spacingAndGlyphs" stroke="#000" stroke-width="0.12">CLL 4</text>
<text transform="translate(368.32,287) rotate(-45)" font-size="6.3" textLength="15.9" lengthAdjust="spacingAndGlyphs" stroke="#000" stroke-width="0.12">CLL 5</text>
<text transform="translate(375.55,287) rotate(-45)" font-size="6.3" textLength="15.9" lengthAdjust="spacingAndGlyphs" stroke="#000" stroke-width="0.12">CLL 6</text>
<text transform="translate(382.78,287) rotate(-45)" font-size="6.3" textLength="15.9" lengthAdjust="spacingAndGlyphs" stroke="#000" stroke-width="0.12">CLL 7</text>
<text transform="translate(390.01,287) rotate(-45)" font-size="6.3" textLength="15.9" lengthAdjust="spacingAndGlyphs" stroke="#000" stroke-width="0.12">CLL 8</text>
<text transform="translate(397.24,287) rotate(-45)" font-size="6.3" textLength="15.9" lengthAdjust="spacingAndGlyphs" stroke="#000" stroke-width="0.12">CLL 9</text>
<text transform="translate(404.47,287) rotate(-45)" font-size="6.3" textLength="19.2" lengthAdjust="spacingAndGlyphs" stroke="#000" stroke-width="0.12">CLL 10</text>
<text transform="translate(411.7,287) rotate(-45)" font-size="6.3" textLength="15.9" lengthAdjust="spacingAndGlyphs" stroke="#000" stroke-width="0.12">CLL 1</text>
<text transform="translate(418.93,287) rotate(-45)" font-size="6.3" textLength="15.9" lengthAdjust="spacingAndGlyphs" stroke="#000" stroke-width="0.12">CLL 2</text>
<text transform="translate(426.16,287) rotate(-45)" font-size="6.3" textLength="15.9" lengthAdjust="spacingAndGlyphs" stroke="#000" stroke-width="0.12">CLL 3</text>
<text transform="translate(433.39,287) rotate(-45)" font-size="6.3" textLength="15.9" lengthAdjust="spacingAndGlyphs" stroke="#000" stroke-width="0.12">CLL 4</text>
<text transform="translate(440.62,287) rotate(-45)" font-size="6.3" textLength="15.9" lengthAdjust="spacingAndGlyphs" stroke="#000" stroke-width="0.12">CLL 5</text>
<text transform="translate(447.85,287) rotate(-45)" font-size="6.3" textLength="15.9" lengthAdjust="spacingAndGlyphs" stroke="#000" stroke-width="0.12">CLL 6</text>
<text transform="translate(455.08,287) rotate(-45)" font-size="6.3" textLength="15.9" lengthAdjust="spacingAndGlyphs" stroke="#000" stroke-width="0.12">CLL 7</text>
<text transform="translate(462.31,287) rotate(-45)" font-size="6.3" textLength="15.9" lengthAdjust="spacingAndGlyphs" stroke="#000" stroke-width="0.12">CLL 8</text>
<text transform="translate(469.54,287) rotate(-45)" font-size="6.3" textLength="15.9" lengthAdjust="spacingAndGlyphs" stroke="#000" stroke-width="0.12">CLL 9</text>
<text transform="translate(476.77,287) rotate(-45)" font-size="6.3" textLength="19.2" lengthAdjust="spacingAndGlyphs" stroke="#000" stroke-width="0.12">CLL 10</text>
<rect x="308.9" y="251.4" width="14.1" height="13.8" fill="url(#gKey)" stroke="#9a9a9a" stroke-width="0.5"/>
<line x1="312.6" y1="265.8" x2="312.6" y2="267.6" stroke="#666" stroke-width="0.5"/>
<line x1="316.4" y1="265.8" x2="316.4" y2="267.6" stroke="#666" stroke-width="0.5"/>
<line x1="320" y1="265.8" x2="320" y2="267.6" stroke="#666" stroke-width="0.5"/>
<text x="309.9" y="273.4" font-size="5.6" font-style="italic">-2</text>
<text x="317.9" y="273.4" font-size="5.6" font-style="italic">2</text>
<text x="300.4" y="283.1" font-size="7.4" font-style="italic" textLength="31.1" lengthAdjust="spacingAndGlyphs" stroke="#000" stroke-width="0.2">Row Z-score</text>
<text x="484.9" y="304.5" font-size="4.7" font-style="italic" textLength="13.28" lengthAdjust="spacingAndGlyphs" stroke="#000" stroke-width="0.18">SMAD3</text>
<text x="484.9" y="310.5" font-size="4.7" font-style="italic" textLength="12.42" lengthAdjust="spacingAndGlyphs" stroke="#000" stroke-width="0.18">NR4A1</text>
<text x="484.9" y="316.5" font-size="4.7" font-style="italic" textLength="7.71" lengthAdjust="spacingAndGlyphs" stroke="#000" stroke-width="0.18">DST</text>
<text x="484.9" y="322.7" font-size="4.7" font-style="italic" textLength="7.28" lengthAdjust="spacingAndGlyphs" stroke="#000" stroke-width="0.18">NF1</text>
<text x="484.9" y="328.7" font-size="4.7" font-style="italic" textLength="8.57" lengthAdjust="spacingAndGlyphs" stroke="#000" stroke-width="0.18">IRS2</text>
<text x="484.9" y="334.5" font-size="4.7" font-style="italic" textLength="15.42" lengthAdjust="spacingAndGlyphs" stroke="#000" stroke-width="0.18">ADARB1</text>
<text x="484.9" y="340.7" font-size="4.7" font-style="italic" textLength="9.86" lengthAdjust="spacingAndGlyphs" stroke="#000" stroke-width="0.18">SELP</text>
<text x="484.9" y="346.9" font-size="4.7" font-style="italic" textLength="13.92" lengthAdjust="spacingAndGlyphs" stroke="#000" stroke-width="0.18">MOGA1</text>
<text x="484.9" y="353" font-size="4.7" font-style="italic" textLength="7.92" lengthAdjust="spacingAndGlyphs" stroke="#000" stroke-width="0.18">ABR</text>
<text x="484.9" y="358.9" font-size="4.7" font-style="italic" textLength="16.28" lengthAdjust="spacingAndGlyphs" stroke="#000" stroke-width="0.18">EPB41L5</text>
<text x="485.6" y="370.7" font-size="4.7" font-weight="bold" font-style="italic" textLength="13.06" lengthAdjust="spacingAndGlyphs" stroke="#000" stroke-width="0.18">CXCR4</text>
<text x="485.6" y="376.5" font-size="4.7" font-weight="bold" font-style="italic" textLength="10.49" lengthAdjust="spacingAndGlyphs" stroke="#000" stroke-width="0.18">NCK2</text>
<text x="485.6" y="382.6" font-size="4.7" font-weight="bold" font-style="italic" textLength="10.92" lengthAdjust="spacingAndGlyphs" stroke="#000" stroke-width="0.18">MYLK</text>
<text x="485.6" y="388.8" font-size="4.7" font-weight="bold" font-style="italic" textLength="15.63" lengthAdjust="spacingAndGlyphs" stroke="#000" stroke-width="0.18">SEMA4F</text>
<text x="485.6" y="395" font-size="4.7" font-weight="bold" font-style="italic" textLength="10.71" lengthAdjust="spacingAndGlyphs" stroke="#000" stroke-width="0.18">GAB1</text>
<text x="485.6" y="483.2" font-size="4.7" font-weight="bold" font-style="italic" textLength="14.78" lengthAdjust="spacingAndGlyphs" stroke="#000" stroke-width="0.18">GPR183</text>
<text x="485.6" y="489.3" font-size="4.7" font-weight="bold" font-style="italic" textLength="10.27" lengthAdjust="spacingAndGlyphs" stroke="#000" stroke-width="0.18">FLNA</text>
<text x="485.6" y="495.6" font-size="4.7" font-weight="bold" font-style="italic" textLength="18.85" lengthAdjust="spacingAndGlyphs" stroke="#000" stroke-width="0.18">SERPINF1</text>
<text x="484.9" y="507.7" font-size="4.7" font-style="italic" textLength="9.85" lengthAdjust="spacingAndGlyphs" stroke="#000" stroke-width="0.18">CCL3</text>
<text x="484.9" y="513.2" font-size="4.7" font-style="italic" textLength="11.56" lengthAdjust="spacingAndGlyphs" stroke="#000" stroke-width="0.18">ITGAX</text>
<text x="484.9" y="519.3" font-size="4.7" font-style="italic" textLength="13.06" lengthAdjust="spacingAndGlyphs" stroke="#000" stroke-width="0.18">CXCR3</text>
<text x="484.9" y="525.3" font-size="4.7" font-style="italic" textLength="10.07" lengthAdjust="spacingAndGlyphs" stroke="#000" stroke-width="0.18">LGR6</text>
<text x="484.9" y="531.5" font-size="4.7" font-style="italic" textLength="8.56" lengthAdjust="spacingAndGlyphs" stroke="#000" stroke-width="0.18">GRN</text>
<text x="484.9" y="537.7" font-size="4.7" font-style="italic" textLength="12.43" lengthAdjust="spacingAndGlyphs" stroke="#000" stroke-width="0.18">EPPK1</text>
<text x="484.9" y="543.6" font-size="4.7" font-style="italic" textLength="10.28" lengthAdjust="spacingAndGlyphs" stroke="#000" stroke-width="0.18">RAC2</text>
<text x="484.9" y="549.9" font-size="4.7" font-style="italic" textLength="13.71" lengthAdjust="spacingAndGlyphs" stroke="#000" stroke-width="0.18">GLIPR2</text>
<text x="484.9" y="555.3" font-size="4.7" font-style="italic" textLength="16.06" lengthAdjust="spacingAndGlyphs" stroke="#000" stroke-width="0.18">PYCARD</text>
<text x="484.9" y="561.2" font-size="4.7" font-style="italic" textLength="13.07" lengthAdjust="spacingAndGlyphs" stroke="#000" stroke-width="0.18">HSPG2</text>
<text x="484.9" y="567.4" font-size="4.7" font-style="italic" textLength="13.92" lengthAdjust="spacingAndGlyphs" stroke="#000" stroke-width="0.18">MYO1G</text>
<text x="484.9" y="573.5" font-size="4.7" font-style="italic" textLength="12.64" lengthAdjust="spacingAndGlyphs" stroke="#000" stroke-width="0.18">ANXA6</text>
<text x="484.9" y="579.4" font-size="4.7" font-style="italic" textLength="11.35" lengthAdjust="spacingAndGlyphs" stroke="#000" stroke-width="0.18">RHOC</text>
<text x="484.9" y="585.7" font-size="4.7" font-style="italic" textLength="15.42" lengthAdjust="spacingAndGlyphs" stroke="#000" stroke-width="0.18">TMSB4X</text>
<text x="484.9" y="591.6" font-size="4.7" font-style="italic" textLength="10.49" lengthAdjust="spacingAndGlyphs" stroke="#000" stroke-width="0.18">CNN2</text>
<text x="484.9" y="597.4" font-size="4.7" font-style="italic" textLength="12.64" lengthAdjust="spacingAndGlyphs" stroke="#000" stroke-width="0.18">DAPK2</text>
<text x="36.7" y="262.8" font-size="7.1" textLength="14.6" lengthAdjust="spacingAndGlyphs">n=8</text>
<line x1="58.1" y1="264.7" x2="58.1" y2="382.3" stroke="#000" stroke-width="1.3"/>
<line x1="54.8" y1="288.4" x2="58.1" y2="288.4" stroke="#000" stroke-width="1.3"/>
<text x="50.8" y="291.5" font-size="8.7" text-anchor="end" textLength="15.3" lengthAdjust="spacingAndGlyphs">1.00</text>
<line x1="54.8" y1="311.88" x2="58.1" y2="311.88" stroke="#000" stroke-width="1.3"/>
<text x="50.8" y="314.98" font-size="8.7" text-anchor="end" textLength="15.3" lengthAdjust="spacingAndGlyphs">0.75</text>
<line x1="54.8" y1="335.35" x2="58.1" y2="335.35" stroke="#000" stroke-width="1.3"/>
<text x="50.8" y="338.45" font-size="8.7" text-anchor="end" textLength="15.3" lengthAdjust="spacingAndGlyphs">0.50</text>
<line x1="54.8" y1="358.82" x2="58.1" y2="358.82" stroke="#000" stroke-width="1.3"/>
<text x="50.8" y="361.93" font-size="8.7" text-anchor="end" textLength="15.3" lengthAdjust="spacingAndGlyphs">0.25</text>
<line x1="54.8" y1="382.3" x2="58.1" y2="382.3" stroke="#000" stroke-width="1.3"/>
<text x="50.8" y="385.4" font-size="8.7" text-anchor="end" textLength="15.3" lengthAdjust="spacingAndGlyphs">0.00</text>
<rect x="60.4" y="289.4" width="9.5" height="92.9" fill="#8a7cb8" stroke="#7d6fae" stroke-width="0.8"/>
<rect x="59.8" y="287.7" width="10.7" height="2.1" fill="#000"/>
<rect x="75.8" y="313.9" width="9.5" height="68.4" fill="#93bce8" stroke="#84b1e0" stroke-width="0.8"/>
<rect x="91.5" y="330.8" width="9.2" height="51.5" fill="#62a3dc" stroke="#5597d4" stroke-width="0.8"/>
<line x1="80.8" y1="313.5" x2="80.8" y2="305.8" stroke="#000" stroke-width="1"/>
<line x1="79.3" y1="305.8" x2="82.3" y2="305.8" stroke="#000" stroke-width="1"/>
<line x1="96.2" y1="330.4" x2="96.2" y2="319.6" stroke="#000" stroke-width="1"/>
<line x1="94.7" y1="319.6" x2="97.7" y2="319.6" stroke="#000" stroke-width="1"/>
<circle cx="80.5" cy="292.2" r="1.3" fill="#000"/>
<circle cx="76.9" cy="304.7" r="1.3" fill="#000"/>
<circle cx="80.8" cy="301.6" r="1.3" fill="#000"/>
<circle cx="84.2" cy="301.6" r="1.3" fill="#000"/>
<circle cx="78.9" cy="315" r="1.3" fill="#000"/>
<circle cx="82.6" cy="315" r="1.3" fill="#000"/>
<circle cx="80.8" cy="318.5" r="1.3" fill="#000"/>
<circle cx="80.5" cy="357.2" r="1.3" fill="#000"/>
<circle cx="96.2" cy="296.1" r="1.3" fill="#000"/>
<circle cx="96.2" cy="299.9" r="1.3" fill="#000"/>
<circle cx="96.2" cy="313.9" r="1.3" fill="#000"/>
<circle cx="94.6" cy="331.2" r="1.3" fill="#000"/>
<circle cx="98.5" cy="331.2" r="1.3" fill="#000"/>
<circle cx="96.2" cy="353.5" r="1.3" fill="#000"/>
<circle cx="96.2" cy="381" r="1.3" fill="#000"/>
<line x1="54.6" y1="382.3" x2="103.8" y2="382.3" stroke="#000" stroke-width="1.3"/>
<line x1="65.1" y1="382.3" x2="65.1" y2="385.2" stroke="#000" stroke-width="1.3"/>
<line x1="80.5" y1="382.3" x2="80.5" y2="385.2" stroke="#000" stroke-width="1.3"/>
<line x1="96.2" y1="382.3" x2="96.2" y2="385.2" stroke="#000" stroke-width="1.3"/>
<text x="63.7" y="261.8" font-size="6.9" textLength="34.1" lengthAdjust="spacingAndGlyphs">P=0.0046</text>
<path d="M63.5 266.9V264.3H100V266.9" fill="none" stroke="#000" stroke-width="1"/>
<text x="63" y="274.3" font-size="6.9" textLength="28.9" lengthAdjust="spacingAndGlyphs">P=0.009</text>
<path d="M63.5 279.9V277.7H83.8V279.9" fill="none" stroke="#000" stroke-width="1"/>
<text transform="translate(28.4,386) rotate(-90)" font-size="9.6" textLength="126" lengthAdjust="spacingAndGlyphs">Normalised <tspan font-style="italic">GAB1</tspan> mRNA expression</text>
<text transform="translate(69.1,391.6) rotate(-45)" font-size="8.5" text-anchor="end" textLength="70.98" lengthAdjust="spacingAndGlyphs"><tspan>CXCR4</tspan><tspan font-size="6.46" dy="-3.4">bright</tspan><tspan dy="3.4">CD5</tspan><tspan font-size="6.46" dy="-3.4">dim</tspan></text>
<text transform="translate(83.9,393.48) rotate(-45)" font-size="8.5" text-anchor="end" textLength="56.63" lengthAdjust="spacingAndGlyphs"><tspan>CXCR4</tspan><tspan font-size="6.46" dy="-3.4">int</tspan><tspan dy="3.4">CD5</tspan><tspan font-size="6.46" dy="-3.4">int</tspan></text>
<text transform="translate(100.2,394.48) rotate(-45)" font-size="8.5" text-anchor="end" textLength="70.25" lengthAdjust="spacingAndGlyphs"><tspan>CXCR4</tspan><tspan font-size="6.46" dy="-3.4">dim</tspan><tspan dy="3.4">CD5</tspan><tspan font-size="6.46" dy="-3.4">bright</tspan></text>
<text x="146.6" y="260.2" font-size="7.1" textLength="19.6" lengthAdjust="spacingAndGlyphs">n=22</text>
<line x1="165.5" y1="264.7" x2="165.5" y2="382.3" stroke="#000" stroke-width="1.3"/>
<line x1="162.4" y1="269" x2="165.5" y2="269" stroke="#000" stroke-width="1.3"/>
<text x="158.7" y="271.6" font-size="8.7" text-anchor="end" textLength="8.3" lengthAdjust="spacingAndGlyphs">25</text>
<line x1="162.4" y1="291.66" x2="165.5" y2="291.66" stroke="#000" stroke-width="1.3"/>
<text x="158.7" y="294.26" font-size="8.7" text-anchor="end" textLength="8.3" lengthAdjust="spacingAndGlyphs">20</text>
<line x1="162.4" y1="314.32" x2="165.5" y2="314.32" stroke="#000" stroke-width="1.3"/>
<text x="158.7" y="316.92" font-size="8.7" text-anchor="end" textLength="8.3" lengthAdjust="spacingAndGlyphs">15</text>
<line x1="162.4" y1="336.98" x2="165.5" y2="336.98" stroke="#000" stroke-width="1.3"/>
<text x="158.7" y="339.58" font-size="8.7" text-anchor="end" textLength="8.3" lengthAdjust="spacingAndGlyphs">10</text>
<line x1="162.4" y1="359.64" x2="165.5" y2="359.64" stroke="#000" stroke-width="1.3"/>
<text x="158.7" y="362.24" font-size="8.7" text-anchor="end" textLength="4.3" lengthAdjust="spacingAndGlyphs">5</text>
<line x1="162.4" y1="382.3" x2="165.5" y2="382.3" stroke="#000" stroke-width="1.3"/>
<text x="158.7" y="384.9" font-size="8.7" text-anchor="end" textLength="4.3" lengthAdjust="spacingAndGlyphs">0</text>
<rect x="168.5" y="339.4" width="9.2" height="42.9" fill="#8a7cb8" stroke="#7d6fae" stroke-width="0.8"/>
<rect x="184.6" y="345.1" width="9.3" height="37.2" fill="#93bce8" stroke="#84b1e0" stroke-width="0.8"/>
<rect x="200.5" y="349.5" width="9.5" height="32.8" fill="#62a3dc" stroke="#5597d4" stroke-width="0.8"/>
<line x1="173.3" y1="339" x2="173.3" y2="333.6" stroke="#000" stroke-width="1"/>
<line x1="171.8" y1="333.6" x2="174.8" y2="333.6" stroke="#000" stroke-width="1"/>
<line x1="188.8" y1="344.7" x2="188.8" y2="340" stroke="#000" stroke-width="1"/>
<line x1="187.3" y1="340" x2="190.3" y2="340" stroke="#000" stroke-width="1"/>
<line x1="205.2" y1="349.1" x2="205.2" y2="345.2" stroke="#000" stroke-width="1"/>
<line x1="203.7" y1="345.2" x2="206.7" y2="345.2" stroke="#000" stroke-width="1"/>
<circle cx="173.3" cy="283.4" r="1.3" fill="#000"/>
<circle cx="173.3" cy="287.4" r="1.3" fill="#000"/>
<circle cx="173.3" cy="298.2" r="1.3" fill="#000"/>
<circle cx="173.3" cy="307.6" r="1.3" fill="#000"/>
<circle cx="173.3" cy="319.8" r="1.3" fill="#000"/>
<circle cx="173.3" cy="329.4" r="1.3" fill="#000"/>
<circle cx="172.7" cy="334.4" r="1.3" fill="#000"/>
<circle cx="173.8" cy="335.5" r="1.3" fill="#000"/>
<circle cx="172.1" cy="340.1" r="1.3" fill="#000"/>
<circle cx="174.4" cy="340.1" r="1.3" fill="#000"/>
<circle cx="171.3" cy="343.8" r="1.3" fill="#000"/>
<circle cx="175" cy="345" r="1.3" fill="#000"/>
<circle cx="173.8" cy="347.9" r="1.3" fill="#000"/>
<circle cx="173.3" cy="351.9" r="1.3" fill="#000"/>
<circle cx="171.5" cy="354.8" r="1.3" fill="#000"/>
<circle cx="174.4" cy="354.8" r="1.3" fill="#000"/>
<circle cx="177.1" cy="355.6" r="1.3" fill="#000"/>
<circle cx="169.2" cy="356.8" r="1.3" fill="#000"/>
<circle cx="171" cy="357.7" r="1.3" fill="#000"/>
<circle cx="172.9" cy="363.4" r="1.3" fill="#000"/>
<circle cx="172.1" cy="367.5" r="1.3" fill="#000"/>
<circle cx="173.8" cy="370.1" r="1.3" fill="#000"/>
<circle cx="190.6" cy="315.5" r="1.3" fill="#000"/>
<circle cx="187.7" cy="318.1" r="1.3" fill="#000"/>
<circle cx="189.4" cy="323.8" r="1.3" fill="#000"/>
<circle cx="189.4" cy="328.2" r="1.3" fill="#000"/>
<circle cx="189.4" cy="334.2" r="1.3" fill="#000"/>
<circle cx="188.3" cy="340.1" r="1.3" fill="#000"/>
<circle cx="190.6" cy="341" r="1.3" fill="#000"/>
<circle cx="185.1" cy="342.9" r="1.3" fill="#000"/>
<circle cx="188.8" cy="342.5" r="1.3" fill="#000"/>
<circle cx="193.4" cy="344.1" r="1.3" fill="#000"/>
<circle cx="187.1" cy="345" r="1.3" fill="#000"/>
<circle cx="190.6" cy="347.1" r="1.3" fill="#000"/>
<circle cx="187.7" cy="349" r="1.3" fill="#000"/>
<circle cx="186" cy="354.2" r="1.3" fill="#000"/>
<circle cx="188.8" cy="354.2" r="1.3" fill="#000"/>
<circle cx="191.7" cy="354.8" r="1.3" fill="#000"/>
<circle cx="184.8" cy="357.1" r="1.3" fill="#000"/>
<circle cx="188.3" cy="357.1" r="1.3" fill="#000"/>
<circle cx="193.2" cy="356.8" r="1.3" fill="#000"/>
<circle cx="187.7" cy="364.4" r="1.3" fill="#000"/>
<circle cx="190.2" cy="366.7" r="1.3" fill="#000"/>
<circle cx="189" cy="338" r="1.3" fill="#000"/>
<circle cx="205.2" cy="332.5" r="1.3" fill="#000"/>
<circle cx="204.4" cy="336.3" r="1.3" fill="#000"/>
<circle cx="206.7" cy="336.7" r="1.3" fill="#000"/>
<circle cx="200.9" cy="339.8" r="1.3" fill="#000"/>
<circle cx="209" cy="339.2" r="1.3" fill="#000"/>
<circle cx="203.3" cy="341.5" r="1.3" fill="#000"/>
<circle cx="205.6" cy="342.7" r="1.3" fill="#000"/>
<circle cx="202.9" cy="344.4" r="1.3" fill="#000"/>
<circle cx="207.3" cy="344.8" r="1.3" fill="#000"/>
<circle cx="205.6" cy="347.1" r="1.3" fill="#000"/>
<circle cx="206.1" cy="350.8" r="1.3" fill="#000"/>
<circle cx="204.4" cy="353.1" r="1.3" fill="#000"/>
<circle cx="207.3" cy="353.6" r="1.3" fill="#000"/>
<circle cx="202.1" cy="358.3" r="1.3" fill="#000"/>
<circle cx="205.6" cy="358.3" r="1.3" fill="#000"/>
<circle cx="207.9" cy="358.8" r="1.3" fill="#000"/>
<circle cx="206.1" cy="361.1" r="1.3" fill="#000"/>
<circle cx="205" cy="364" r="1.3" fill="#000"/>
<circle cx="206.1" cy="366.7" r="1.3" fill="#000"/>
<circle cx="203" cy="356" r="1.3" fill="#000"/>
<circle cx="208" cy="348" r="1.3" fill="#000"/>
<circle cx="201.5" cy="346" r="1.3" fill="#000"/>
<line x1="162" y1="382.3" x2="213.6" y2="382.3" stroke="#000" stroke-width="1.3"/>
<line x1="173.3" y1="382.3" x2="173.3" y2="385" stroke="#000" stroke-width="1.3"/>
<line x1="188.8" y1="382.3" x2="188.8" y2="385" stroke="#000" stroke-width="1.3"/>
<line x1="205" y1="382.3" x2="205" y2="385" stroke="#000" stroke-width="1.3"/>
<text x="171" y="258.2" font-size="6.9" textLength="29.8" lengthAdjust="spacingAndGlyphs">P=0.011</text>
<path d="M171.7 262.6V260.7H200.7V262.6" fill="none" stroke="#000" stroke-width="1"/>
<text x="171" y="272.4" font-size="6.9" textLength="29.2" lengthAdjust="spacingAndGlyphs">P=0.013</text>
<path d="M171.7 276.6V274.6H187.9V276.6" fill="none" stroke="#000" stroke-width="1"/>
<text x="182.6" y="303" font-size="6.9" textLength="29.6" lengthAdjust="spacingAndGlyphs">P=0.016</text>
<path d="M185.2 308.3V306.2H209.4V308.3" fill="none" stroke="#000" stroke-width="1"/>
<text transform="translate(143.3,398) rotate(-90)" font-size="9.8" textLength="150.2" lengthAdjust="spacingAndGlyphs">Normalised GAB1 protein expression (MFI)</text>
<text transform="translate(177.44,392.58) rotate(-45)" font-size="8.5" text-anchor="end" textLength="69.96" lengthAdjust="spacingAndGlyphs"><tspan>CXCR4</tspan><tspan font-size="6.46" dy="-3.4">bright</tspan><tspan dy="3.4">CD5</tspan><tspan font-size="6.46" dy="-3.4">dim</tspan></text>
<text transform="translate(191.9,393.08) rotate(-45)" font-size="8.5" text-anchor="end" textLength="56.04" lengthAdjust="spacingAndGlyphs"><tspan>CXCR4</tspan><tspan font-size="6.46" dy="-3.4">int</tspan><tspan dy="3.4">CD5</tspan><tspan font-size="6.46" dy="-3.4">int</tspan></text>
<text transform="translate(208.7,391.9) rotate(-45)" font-size="8.5" text-anchor="end" textLength="70" lengthAdjust="spacingAndGlyphs"><tspan>CXCR4</tspan><tspan font-size="6.46" dy="-3.4">dim</tspan><tspan dy="3.4">CD5</tspan><tspan font-size="6.46" dy="-3.4">bright</tspan></text>
<rect x="58.8" y="515.3" width="66.4" height="12.9" fill="#eeeeee" stroke="#666" stroke-width="0.9"/>
<rect x="58.8" y="529.7" width="66.4" height="10.9" fill="#eeeeee" stroke="#666" stroke-width="0.9"/>
<rect x="58.8" y="547.6" width="66.4" height="13.5" fill="#eeeeee" stroke="#666" stroke-width="0.9"/>
<rect x="58.8" y="563" width="66.4" height="10.3" fill="#eeeeee" stroke="#666" stroke-width="0.9"/>
<g filter="url(#blur)"><rect x="61" y="517.6" width="16.9" height="8.3" rx="3" fill="#000"/><rect x="84.4" y="518.6" width="16.2" height="7" rx="3" fill="#050505"/><rect x="107.5" y="520.4" width="15.5" height="5" rx="2.5" fill="#111"/><rect x="61" y="534.2" width="16" height="2.4" rx="1.2" fill="#2a2a2a"/><rect x="85" y="534.6" width="13.5" height="2.3" rx="1.15" fill="#606060"/><rect x="107.8" y="533.9" width="14.2" height="3.5" rx="1.75" fill="#1a1a1a"/><rect x="61" y="551.2" width="16.5" height="6.2" rx="3" fill="#0a0a0a"/><rect x="83.5" y="551.4" width="15.5" height="5.7" rx="2.85" fill="#111"/><rect x="105" y="553.8" width="15" height="6" rx="3" fill="#2c2c2c"/><rect x="61" y="567.7" width="16" height="2.8" rx="1.4" fill="#1a1a1a"/><rect x="82.5" y="566.9" width="16.5" height="2.8" rx="1.4" fill="#222"/><rect x="106" y="568.5" width="16" height="2.5" rx="1.25" fill="#111"/></g>
<text x="54.7" y="523.7" font-size="7.6" text-anchor="end" textLength="25.4" lengthAdjust="spacingAndGlyphs">tGAB1</text>
<text x="54.3" y="539.3" font-size="7.6" text-anchor="end" textLength="29" lengthAdjust="spacingAndGlyphs">GAPDH</text>
<text x="54.7" y="555.7" font-size="7.6" text-anchor="end" textLength="25.4" lengthAdjust="spacingAndGlyphs">tGAB1</text>
<text x="54.3" y="571.1" font-size="7.6" text-anchor="end" textLength="29" lengthAdjust="spacingAndGlyphs">GAPDH</text>
<line x1="128.5" y1="513.6" x2="128.5" y2="541.3" stroke="#000" stroke-width="1.1"/>
<line x1="128.5" y1="546" x2="128.5" y2="573.3" stroke="#000" stroke-width="1.1"/>
<text transform="translate(137.7,539.4) rotate(-90)" font-size="7.6" textLength="23.4" lengthAdjust="spacingAndGlyphs">CLL_8</text>
<text transform="translate(137.7,572) rotate(-90)" font-size="7.6" textLength="27.3" lengthAdjust="spacingAndGlyphs">CLL_18</text>
<text transform="translate(71.6,510.6) rotate(-45)" font-size="8.5" textLength="71.25" lengthAdjust="spacingAndGlyphs"><tspan>CXCR4</tspan><tspan font-size="6.46" dy="-3.4">bright</tspan><tspan dy="3.4">CD5</tspan><tspan font-size="6.46" dy="-3.4">dim</tspan></text>
<text transform="translate(93.9,510.6) rotate(-45)" font-size="8.5" textLength="58.4" lengthAdjust="spacingAndGlyphs"><tspan>CXCR4</tspan><tspan font-size="6.46" dy="-3.4">int</tspan><tspan dy="3.4">CD5</tspan><tspan font-size="6.46" dy="-3.4">int</tspan></text>
<text transform="translate(115.96,510.72) rotate(-45)" font-size="8.5" textLength="71.71" lengthAdjust="spacingAndGlyphs"><tspan>CXCR4</tspan><tspan font-size="6.46" dy="-3.4">dim</tspan><tspan dy="3.4">CD5</tspan><tspan font-size="6.46" dy="-3.4">bright</tspan></text>
<text x="211" y="483.8" font-size="7.1" textLength="20.2" lengthAdjust="spacingAndGlyphs">n=10</text>
<line x1="229.6" y1="493" x2="229.6" y2="504.4" stroke="#000" stroke-width="1.3"/>
<line x1="226.6" y1="504.4" x2="232.6" y2="504.4" stroke="#000" stroke-width="1.3"/>
<line x1="227.2" y1="495" x2="229.6" y2="495" stroke="#000" stroke-width="1.3"/>
<text x="223.2" y="497.7" font-size="7.6" text-anchor="end" textLength="4.2" lengthAdjust="spacingAndGlyphs">3</text>
<text x="223.2" y="506.6" font-size="7.6" text-anchor="end" textLength="4.2" lengthAdjust="spacingAndGlyphs">2</text>
<line x1="229.5" y1="513" x2="229.5" y2="602.8" stroke="#000" stroke-width="1.3"/>
<line x1="226.6" y1="513" x2="232.8" y2="513" stroke="#000" stroke-width="1.3"/>
<line x1="226.4" y1="512.4" x2="229.5" y2="512.4" stroke="#000" stroke-width="1.3"/>
<text x="223.5" y="515.4" font-size="8.7" text-anchor="end" textLength="11.3" lengthAdjust="spacingAndGlyphs">2.0</text>
<line x1="226.4" y1="535.05" x2="229.5" y2="535.05" stroke="#000" stroke-width="1.3"/>
<text x="223.5" y="538.05" font-size="8.7" text-anchor="end" textLength="11.3" lengthAdjust="spacingAndGlyphs">1.5</text>
<line x1="226.4" y1="557.7" x2="229.5" y2="557.7" stroke="#000" stroke-width="1.3"/>
<text x="223.5" y="560.7" font-size="8.7" text-anchor="end" textLength="11.3" lengthAdjust="spacingAndGlyphs">1.0</text>
<line x1="226.4" y1="580.35" x2="229.5" y2="580.35" stroke="#000" stroke-width="1.3"/>
<text x="223.5" y="583.35" font-size="8.7" text-anchor="end" textLength="11.3" lengthAdjust="spacingAndGlyphs">0.5</text>
<line x1="226.4" y1="603" x2="229.5" y2="603" stroke="#000" stroke-width="1.3"/>
<text x="223.5" y="606" font-size="8.7" text-anchor="end" textLength="11.3" lengthAdjust="spacingAndGlyphs">0.0</text>
<rect x="233" y="533.8" width="9.4" height="69" fill="#8a7cb8" stroke="#7d6fae" stroke-width="0.8"/>
<rect x="249.3" y="559.2" width="9.1" height="43.6" fill="#93bce8" stroke="#84b1e0" stroke-width="0.8"/>
<rect x="248.7" y="557.1" width="10.3" height="2.2" fill="#000"/>
<rect x="265" y="565.3" width="9.7" height="37.5" fill="#62a3dc" stroke="#5597d4" stroke-width="0.8"/>
<line x1="237.7" y1="533.4" x2="237.7" y2="527.2" stroke="#000" stroke-width="1"/>
<line x1="236.2" y1="527.2" x2="239.2" y2="527.2" stroke="#000" stroke-width="1"/>
<line x1="270" y1="564.9" x2="270" y2="561.5" stroke="#000" stroke-width="1"/>
<line x1="268.5" y1="561.5" x2="271.5" y2="561.5" stroke="#000" stroke-width="1"/>
<circle cx="237.5" cy="499" r="1.3" fill="#000"/>
<circle cx="237.7" cy="520" r="1.3" fill="#000"/>
<circle cx="235.4" cy="524.9" r="1.3" fill="#000"/>
<circle cx="240.3" cy="525.7" r="1.3" fill="#000"/>
<circle cx="240.3" cy="539.2" r="1.3" fill="#000"/>
<circle cx="235.1" cy="542.3" r="1.3" fill="#000"/>
<circle cx="238.5" cy="543.5" r="1.3" fill="#000"/>
<circle cx="235.4" cy="546.2" r="1.3" fill="#000"/>
<circle cx="240.3" cy="548.5" r="1.3" fill="#000"/>
<circle cx="237.7" cy="555.8" r="1.3" fill="#000"/>
<circle cx="270" cy="550.8" r="1.3" fill="#000"/>
<circle cx="267.4" cy="553.8" r="1.3" fill="#000"/>
<circle cx="272.6" cy="556.2" r="1.3" fill="#000"/>
<circle cx="272.6" cy="558.9" r="1.3" fill="#000"/>
<circle cx="267.4" cy="560.8" r="1.3" fill="#000"/>
<circle cx="267.4" cy="569.2" r="1.3" fill="#000"/>
<circle cx="272.3" cy="571.2" r="1.3" fill="#000"/>
<circle cx="267.7" cy="578.5" r="1.3" fill="#000"/>
<circle cx="272.3" cy="578.5" r="1.3" fill="#000"/>
<line x1="228" y1="602.8" x2="276.5" y2="602.8" stroke="#000" stroke-width="1.3"/>
<line x1="237.7" y1="602.8" x2="237.7" y2="605.5" stroke="#000" stroke-width="1.3"/>
<line x1="253.8" y1="602.8" x2="253.8" y2="605.5" stroke="#000" stroke-width="1.3"/>
<line x1="270" y1="602.8" x2="270" y2="605.5" stroke="#000" stroke-width="1.3"/>
<text x="236.4" y="480.2" font-size="6.9" textLength="33.2" lengthAdjust="spacingAndGlyphs">P=0.0007</text>
<path d="M236.9 484.4V482.5H265.6V484.4" fill="none" stroke="#000" stroke-width="1"/>
<text x="233" y="491.4" font-size="6.9" textLength="29.4" lengthAdjust="spacingAndGlyphs">P=0.003</text>
<path d="M236.9 495.65V493.75H252.3V495.65" fill="none" stroke="#000" stroke-width="1"/>
<text x="251.4" y="534.6" font-size="6.9" textLength="30.2" lengthAdjust="spacingAndGlyphs">P=0.065</text>
<path d="M254.2 542V539.2H270V542" fill="none" stroke="#000" stroke-width="1"/>
<text transform="translate(205.2,622.6) rotate(-90)" font-size="9.8" textLength="150.7" lengthAdjust="spacingAndGlyphs">Relative GAB1 protein levels (immunoblot)</text>
<text transform="translate(241.88,613.54) rotate(-45)" font-size="8.5" text-anchor="end" textLength="69.29" lengthAdjust="spacingAndGlyphs"><tspan>CXCR4</tspan><tspan font-size="6.46" dy="-3.4">bright</tspan><tspan dy="3.4">CD5</tspan><tspan font-size="6.46" dy="-3.4">dim</tspan></text>
<text transform="translate(256.24,613.38) rotate(-45)" font-size="8.5" text-anchor="end" textLength="56.03" lengthAdjust="spacingAndGlyphs"><tspan>CXCR4</tspan><tspan font-size="6.46" dy="-3.4">int</tspan><tspan dy="3.4">CD5</tspan><tspan font-size="6.46" dy="-3.4">int</tspan></text>
<text transform="translate(273.26,613.68) rotate(-45)" font-size="8.5" text-anchor="end" textLength="70" lengthAdjust="spacingAndGlyphs"><tspan>CXCR4</tspan><tspan font-size="6.46" dy="-3.4">dim</tspan><tspan dy="3.4">CD5</tspan><tspan font-size="6.46" dy="-3.4">bright</tspan></text>
<rect x="0" y="0" width="1" height="671" fill="#000"/>
<rect x="1" y="0" width="1" height="671" fill="#666"/>
<rect x="2" y="0" width="1" height="671" fill="#e4e4e4"/>
<rect x="0" y="0" width="520" height="1" fill="#000"/>
<rect x="0" y="1" width="520" height="1" fill="#707070"/>
<rect x="0" y="2" width="520" height="1" fill="#e8e8e8"/>
<rect x="517" y="0" width="1" height="671" fill="#ececec"/>
<rect x="518" y="0" width="1" height="671" fill="#7a7a7a"/>
<rect x="519" y="0" width="1" height="671" fill="#000"/>
<rect x="0" y="668" width="520" height="1" fill="#ececec"/>
<rect x="0" y="669" width="520" height="1" fill="#7a7a7a"/>
<rect x="0" y="670" width="520" height="1" fill="#000"/>
<rect x="0" y="0" width="1" height="671" fill="#000"/>
<rect x="0" y="0" width="520" height="1" fill="#000"/>
<rect x="519" y="0" width="1" height="671" fill="#000"/>
</svg>
</body></html>
